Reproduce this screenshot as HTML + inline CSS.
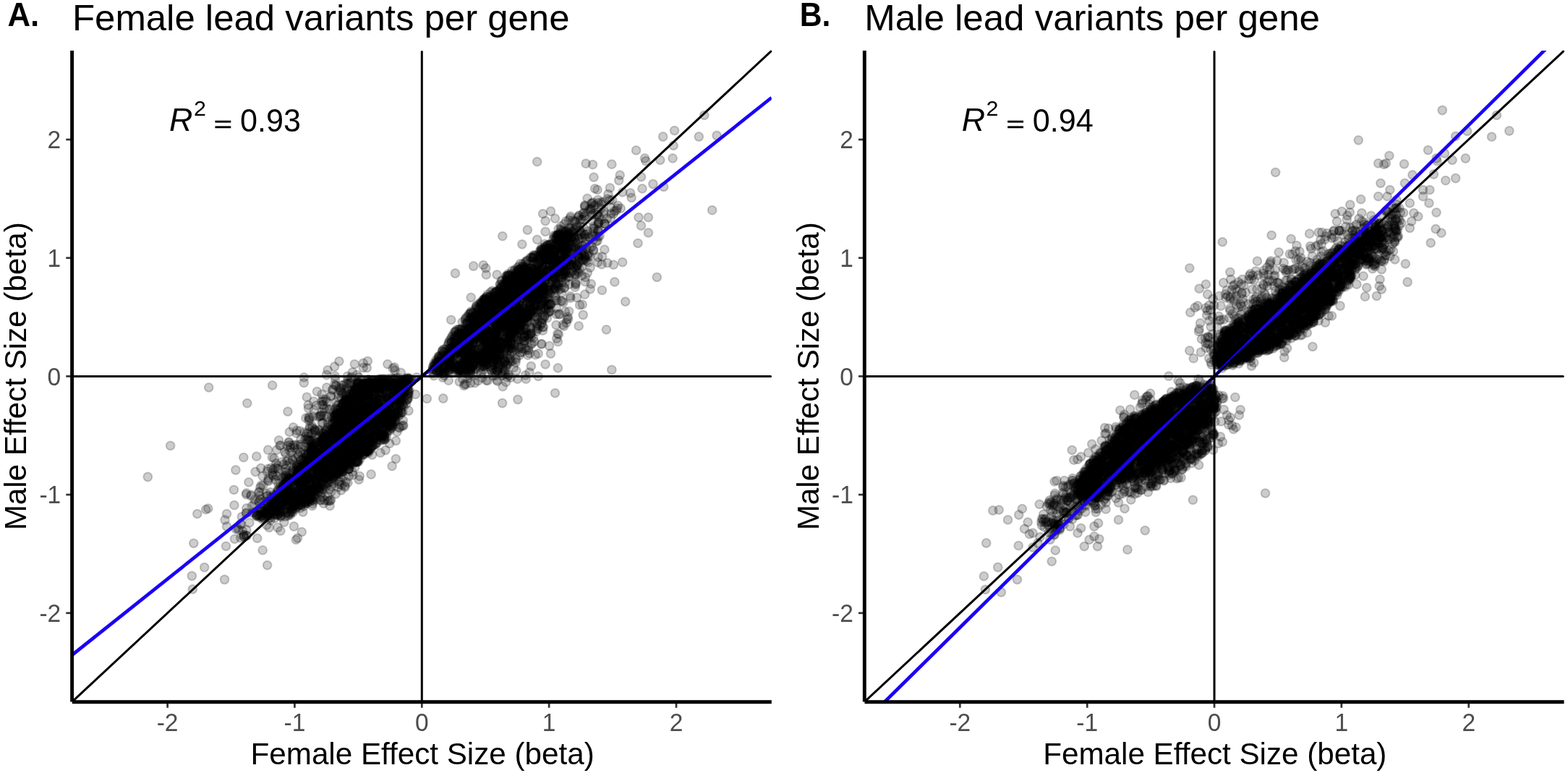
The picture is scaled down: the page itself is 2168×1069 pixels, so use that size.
<!DOCTYPE html>
<html><head><meta charset="utf-8"><title>Female vs male lead variants</title><style>html,body{margin:0;padding:0;background:#fff;}svg{display:block;}</style></head><body>
<svg width="2168" height="1069" viewBox="0 0 2168 1069">
<rect width="2168" height="1069" fill="#fff"/>
<defs><marker id="pt" markerUnits="userSpaceOnUse" markerWidth="16" markerHeight="16" refX="8" refY="8" overflow="visible"><circle cx="8" cy="8" r="5.9" fill="rgba(0,0,0,0.2)" stroke="rgba(0,0,0,0.2)" stroke-width="2.0"/></marker></defs>
<clipPath id="cA"><rect x="99.7" y="70.1" width="967.1" height="900.6"/></clipPath>
<g clip-path="url(#cA)">
<path fill="none" stroke="none" marker-start="url(#pt)" marker-mid="url(#pt)" marker-end="url(#pt)" d="M740.0 422.3 711.0 385.3 654.5 458.7 657.5 443.8 688.4 419.1 725.5 434.1 636.6 457.0 737.5 403.0 724.9 435.7 744.7 376.8 673.2 483.9 624.7 480.5 732.9 422.7 706.1 409.4 674.3 435.2 716.1 446.9 634.5 478.4 762.8 352.4 718.2 399.0 750.3 373.1 606.6 513.4 668.4 501.5 633.9 508.5 692.6 446.8 785.2 323.8 734.8 406.7 702.8 409.2 606.2 500.3 668.2 472.6 727.1 416.1 690.2 471.5 636.2 480.1 672.2 486.8 670.6 415.9 664.2 429.1 690.2 473.1 706.3 453.8 756.7 397.4 645.7 477.9 647.3 458.9 717.3 408.5 682.7 413.1 696.5 431.0 675.3 434.6 726.4 374.7 778.6 333.9 643.8 483.1 624.8 472.5 662.6 426.9 640.1 463.7 701.1 435.9 677.4 488.2 624.2 486.2 701.3 443.4 746.5 359.8 608.6 514.1 677.5 480.3 656.4 455.5 668.9 428.3 746.0 389.7 693.1 464.6 683.0 422.8 706.7 434.4 785.1 345.1 662.7 463.5 706.0 448.6 703.3 428.3 706.2 384.1 727.2 361.5 716.5 386.9 690.1 415.0 701.2 464.7 736.9 356.0 611.2 507.7 765.8 348.4 771.2 335.6 670.9 490.7 725.3 425.9 627.7 482.7 691.5 415.7 725.4 381.4 737.3 416.3 598.4 510.5 681.1 436.9 681.4 442.3 769.8 362.6 637.6 492.1 772.8 328.7 622.4 498.9 718.5 393.2 770.9 337.2 677.3 411.1 661.9 426.4 681.1 482.4 625.1 506.1 713.6 375.4 756.8 375.0 753.2 356.1 774.5 358.5 706.0 393.9 774.1 334.9 726.0 404.5 671.2 422.3 695.9 411.5 758.5 349.4 637.7 455.4 692.6 452.1 748.4 343.0 660.7 482.8 661.3 428.4 683.7 468.0 719.2 415.4 626.1 463.4 674.6 417.1 716.3 430.6 759.8 342.3 677.6 492.2 643.9 502.6 655.6 504.0 646.7 437.6 773.2 324.2 733.4 418.2 653.7 503.2 739.3 404.4 612.6 516.2 610.0 490.9 693.2 395.7 745.0 365.1 784.5 328.9 636.2 511.8 695.2 446.5 758.1 347.5 631.1 467.9 637.7 472.0 781.3 335.9 698.4 416.5 610.7 516.2 712.7 424.3 653.7 458.2 668.7 469.7 674.0 468.5 662.9 488.0 787.0 333.4 692.5 472.4 728.9 390.6 722.4 408.5 749.2 379.2 668.7 444.6 631.6 492.7 678.4 486.3 671.2 462.3 695.3 449.4 673.6 424.8 712.3 396.5 670.4 492.6 753.4 337.3 749.9 349.9 694.3 398.0 711.5 404.9 649.9 454.9 734.4 396.0 664.3 447.5 647.5 494.1 704.4 419.4 733.3 356.4 651.1 484.5 767.6 359.3 668.4 479.2 698.9 439.6 737.1 377.0 727.1 401.1 672.4 422.0 659.7 432.0 642.0 455.2 674.8 472.7 697.4 407.9 624.9 509.9 667.6 443.0 632.1 513.9 621.7 470.8 610.7 516.0 778.0 330.2 722.2 445.1 761.5 357.3 699.8 454.6 721.4 399.1 689.1 481.2 711.0 424.2 695.2 449.7 722.6 429.5 682.1 417.7 722.8 422.2 656.2 436.6 638.5 469.2 616.8 494.0 753.7 351.3 714.5 389.6 688.8 481.6 742.2 382.6 783.8 324.6 735.3 416.8 693.8 437.3 612.9 487.3 677.6 482.9 738.5 353.2 679.8 492.6 635.1 476.1 619.8 512.2 677.6 465.2 757.9 338.7 686.6 404.4 763.0 385.7 627.4 509.2 688.0 441.6 679.9 491.9 693.7 427.5 654.7 473.9 676.4 488.7 712.1 388.7 707.3 384.4 627.5 469.1 730.0 435.1 767.7 337.3 622.6 494.0 669.2 465.0 695.7 458.2 713.1 421.0 659.2 445.6 773.7 325.5 631.7 479.1 776.8 350.3 696.3 438.3 646.0 513.0 695.6 438.3 695.5 441.1 655.8 448.6 785.5 342.7 658.6 440.0 780.4 327.9 689.6 447.0 698.7 440.8 668.5 434.0 714.3 393.0 700.4 389.6 729.4 387.0 714.1 450.2 722.2 377.3 637.5 460.7 722.9 426.3 643.9 461.2 623.6 473.7 649.1 461.1 716.0 392.2 654.0 461.5 648.2 497.8 710.5 454.6 660.0 425.8 741.1 404.8 671.5 427.1 746.4 374.4 672.9 492.4 658.7 491.4 767.8 361.8 656.7 503.6 650.9 433.0 748.6 378.2 719.6 402.6 765.6 376.7 751.8 354.6 768.9 330.8 645.7 508.6 633.4 493.4 718.1 421.0 745.3 354.7 709.2 459.7 723.7 372.1 654.7 490.0 628.8 489.2 670.7 446.5 725.2 404.8 662.9 448.1 759.6 357.5 696.1 392.8 663.8 497.5 689.0 412.9 721.4 382.0 723.7 399.3 603.5 513.5 682.7 412.9 714.3 411.6 702.5 426.1 707.6 402.3 728.6 377.2 600.1 502.4 789.6 337.5 644.4 500.0 678.7 425.2 656.3 456.8 774.1 343.2 646.1 444.7 670.6 469.4 604.4 513.6 762.2 374.1 638.9 505.1 704.6 399.8 676.4 452.7 639.2 487.9 655.0 450.4 686.1 457.3 672.9 421.7 759.4 367.5 768.6 325.6 691.3 399.3 707.1 455.9 684.1 465.1 788.2 323.4 612.7 499.6 714.3 412.9 691.5 416.5 725.2 441.2 715.7 446.8 669.2 503.5 662.2 456.5 644.9 489.9 717.4 445.4 734.8 406.9 743.8 383.8 725.5 393.9 690.2 482.1 784.5 328.7 718.2 405.7 671.8 497.0 724.4 388.9 736.0 429.9 642.0 457.8 700.0 384.9 704.3 400.4 638.6 513.1 662.1 429.3 757.8 351.4 701.9 441.2 740.4 391.7 673.9 494.8 685.8 471.6 673.2 433.4 622.3 496.7 677.1 441.5 760.9 337.9 669.1 470.7 731.8 395.3 643.1 442.7 644.4 439.2 783.5 345.9 780.1 360.5 748.2 399.6 744.6 402.9 658.2 473.8 671.1 497.9 706.4 445.7 644.1 495.0 695.3 419.8 648.9 469.0 717.5 402.3 657.6 462.7 750.8 401.6 700.0 426.5 746.4 397.4 707.7 436.6 711.9 458.0 730.0 435.9 717.7 387.8 683.3 428.7 781.9 320.5 773.3 332.1 666.5 450.3 681.9 433.6 738.1 389.3 779.5 343.7 731.1 413.4 645.1 448.3 669.3 443.6 701.2 388.6 708.9 402.2 705.8 394.7 661.0 455.1 685.6 471.1 782.8 334.3 755.9 399.6 722.0 377.8 749.0 409.0 711.4 382.5 729.9 380.1 680.3 426.4 740.4 386.0 645.5 479.3 666.2 453.9 708.5 436.3 685.2 476.9 656.0 468.7 712.7 403.1 750.7 357.5 638.0 508.7 700.4 416.9 636.8 511.0 766.5 363.9 702.2 415.6 684.6 473.7 634.3 505.1 778.7 319.1 658.5 454.2 747.5 389.3 661.8 459.4 747.5 348.3 691.1 442.7 670.1 460.4 634.3 455.3 775.2 368.1 745.6 368.8 622.0 481.7 722.3 379.1 684.5 436.4 656.1 459.9 769.8 334.9 764.8 330.9 690.6 434.8 755.0 343.0 679.5 483.0 684.6 480.3 729.4 392.1 701.6 410.8 677.5 436.5 654.5 492.6 680.3 413.9 645.1 494.6 737.4 352.9 720.8 412.9 635.1 475.0 716.5 373.2 708.9 442.1 723.1 433.3 709.9 439.4 694.4 428.4 645.6 477.9 719.8 449.0 755.3 366.9 640.3 468.0 727.1 402.0 776.4 342.9 766.7 353.6 742.9 364.3 683.9 438.5 729.5 365.2 651.6 440.4 638.8 513.4 661.4 456.1 760.7 379.5 784.2 325.5 787.1 323.8 777.6 328.6 698.3 393.7 683.2 478.6 692.2 448.5 621.8 489.4 708.7 435.9 680.2 408.5 641.6 470.1 673.3 439.5 784.6 352.9 776.3 345.3 783.0 334.5 714.0 435.3 755.0 357.5 647.9 465.3 675.5 478.9 737.7 356.8 663.6 506.7 654.2 475.0 696.7 435.0 598.6 510.9 685.4 464.4 748.3 374.4 683.7 417.0 621.4 501.7 627.9 490.9 681.1 476.4 728.5 370.3 770.4 364.6 624.7 466.0 745.0 400.4 619.2 503.1 651.3 463.9 644.1 472.5 761.2 360.2 713.2 388.8 662.6 437.5 694.1 449.0 651.2 508.5 684.9 483.5 705.2 414.6 712.7 402.1 663.5 466.8 731.8 386.8 692.5 421.7 689.8 469.4 701.8 387.1 712.2 412.6 743.2 405.1 659.4 460.6 625.2 481.3 618.9 487.4 704.4 446.7 702.3 378.8 745.2 392.0 667.5 419.0 634.7 461.8 646.7 455.1 690.0 463.6 650.1 479.0 755.0 379.8 761.4 379.5 683.9 477.9 650.9 479.6 659.3 461.4 624.0 489.5 692.3 481.1 659.5 505.5 730.5 399.5 701.3 439.0 669.5 415.9 715.5 379.7 636.2 477.0 727.1 394.7 707.8 404.3 652.4 489.2 753.0 398.8 768.3 380.0 685.3 482.5 708.1 381.3 705.2 398.8 669.4 488.2 724.7 438.0 785.8 351.1 761.3 344.3 639.2 502.5 779.7 343.4 766.5 327.8 614.4 515.2 631.5 456.0 662.8 436.5 765.1 369.5 648.1 455.5 665.7 423.0 688.3 421.5 642.4 492.8 656.0 509.3 678.9 465.4 760.5 343.1 639.7 506.1 783.7 343.6 719.3 364.7 732.2 403.4 686.6 448.4 633.1 511.3 649.2 442.8 648.6 501.9 673.9 417.9 733.3 428.5 741.7 361.6 704.8 464.0 746.0 405.2 746.4 390.3 665.4 450.7 708.3 411.1 638.7 456.9 726.4 362.8 638.7 505.6 701.5 389.9 647.5 475.1 742.4 392.7 665.6 466.3 673.3 503.6 707.0 450.1 681.9 481.8 746.5 387.3 717.4 368.4 618.0 497.4 619.2 502.7 670.8 413.3 617.8 497.6 655.1 478.6 719.3 438.7 779.5 320.9 781.0 354.8 642.9 471.5 738.6 398.8 755.6 352.8 627.3 503.7 709.5 446.1 693.8 434.4 644.5 474.4 718.6 379.2 698.4 438.7 674.2 494.3 739.2 391.9 758.9 344.3 725.0 372.7 677.1 462.8 778.1 367.2 739.8 388.6 695.8 411.0 663.6 453.4 733.6 370.8 720.6 377.7 757.5 374.4 772.4 342.0 700.4 387.5 642.4 475.4 768.4 344.1 773.4 360.8 740.6 353.3 721.0 441.9 692.7 481.2 607.6 492.1 697.0 474.6 657.1 455.0 634.3 513.8 728.5 389.5 686.3 420.2 726.4 369.5 619.5 490.8 772.1 361.8 684.2 495.9 750.7 384.6 719.8 431.9 664.7 487.7 658.4 467.0 658.3 424.1 728.2 429.0 620.0 512.8 675.7 476.1 624.3 508.5 703.6 422.3 714.0 409.5 687.5 486.8 647.0 461.7 666.0 420.1 598.6 514.1 652.2 456.8 750.7 395.8 648.5 435.0 653.8 462.9 683.9 439.0 708.3 411.8 671.2 501.9 680.5 457.2 686.8 453.0 643.7 440.9 708.1 432.2 698.1 415.2 781.0 347.7 757.2 356.9 652.8 438.8 668.7 445.2 707.0 403.5 680.3 419.3 743.9 412.2 669.9 454.9 679.2 452.1 607.4 511.5 781.3 340.2 748.3 383.5 787.6 338.3 627.3 505.6 647.9 504.8 610.8 494.1 790.6 327.5 787.7 322.1 694.5 451.8 671.2 464.3 639.2 487.5 653.4 453.4 647.6 457.0 736.2 355.7 644.9 476.3 750.6 344.4 715.4 377.8 674.3 473.8 700.3 472.5 658.9 492.1 670.0 412.5 707.9 425.1 639.9 505.2 660.3 474.0 728.7 405.1 678.5 403.8 673.2 497.8 684.6 454.1 646.4 487.1 738.4 424.8 712.9 409.5 630.0 465.5 757.9 359.7 754.4 382.0 723.5 399.6 684.7 447.9 735.5 371.4 645.9 446.8 748.7 349.0 765.7 325.8 723.4 437.5 768.4 358.4 666.9 498.9 644.2 475.9 653.8 476.3 603.5 512.8 780.8 343.5 724.9 385.3 735.8 373.6 692.7 481.6 745.3 389.1 685.1 404.0 667.9 500.6 678.7 421.0 717.1 399.5 648.5 511.6 702.3 395.3 789.1 328.3 620.5 475.1 654.4 453.3 652.7 456.2 724.7 440.2 650.2 494.1 756.4 347.5 786.0 327.1 661.7 433.4 729.1 398.6 728.4 437.5 735.1 429.7 717.8 430.4 646.6 512.7 745.9 389.7 784.5 320.6 692.7 411.0 725.4 390.6 765.5 356.2 776.2 318.7 660.6 440.9 701.7 403.0 753.6 341.0 765.8 357.8 650.2 511.2 701.3 388.2 704.5 437.9 632.6 483.1 722.1 440.1 731.9 427.1 724.0 372.2 737.8 393.2 654.2 490.7 652.8 458.4 763.9 363.1 682.9 445.5 648.1 491.9 724.7 391.7 676.0 422.5 653.1 455.0 766.4 384.0 701.4 460.0 755.8 339.7 718.7 379.8 655.1 461.6 652.2 505.5 711.2 374.6 701.1 381.8 620.7 487.9 734.4 387.4 628.0 505.6 727.4 395.5 680.9 402.1 621.4 513.3 781.8 336.5 641.1 467.3 670.5 504.9 642.4 499.1 712.2 437.1 739.8 377.9 644.6 484.2 731.9 422.8 629.4 458.5 637.5 488.7 680.5 460.8 690.9 437.2 738.9 354.5 729.4 412.4 689.1 484.0 620.2 473.7 713.6 407.2 682.5 404.9 730.3 407.9 737.6 427.5 733.1 401.2 602.8 498.0 674.0 414.2 637.6 511.1 711.1 392.8 650.1 439.4 717.6 442.0 638.6 461.3 731.8 409.9 729.1 360.0 700.9 406.0 667.9 479.0 725.1 443.3 781.7 324.1 735.7 396.4 686.4 481.0 659.4 488.3 666.7 459.2 704.6 380.1 651.4 430.6 766.0 370.9 679.6 486.8 613.8 514.0 623.4 468.7 714.7 439.5 599.2 506.5 666.3 441.8 704.2 464.7 642.4 500.5 689.3 443.2 661.8 495.4 752.1 351.6 633.8 480.2 671.3 435.5 775.7 352.2 683.8 444.8 637.8 504.8 670.2 419.1 729.1 416.5 624.3 472.8 691.8 414.0 740.4 385.8 707.9 374.4 772.5 333.8 728.6 373.1 739.6 377.9 669.6 454.6 610.9 493.3 768.3 330.7 710.8 402.5 698.7 468.2 731.7 380.8 763.9 344.8 746.4 347.3 693.3 475.1 634.8 506.0 672.6 455.9 723.5 428.5 690.7 489.4 648.7 492.8 711.4 399.7 690.7 421.2 607.0 505.0 682.8 481.3 666.8 448.3 674.2 490.5 647.4 458.7 703.4 380.8 715.8 397.4 658.1 440.7 683.2 494.1 613.8 496.0 703.1 462.5 744.3 352.9 637.0 506.7 685.3 466.0 714.0 390.4 700.1 448.4 623.5 502.4 726.0 396.6 724.8 377.1 734.6 429.1 723.1 370.0 704.5 405.1 679.2 415.3 702.6 423.1 760.6 368.0 743.3 378.2 615.5 498.0 660.3 458.1 698.4 452.5 723.7 445.2 750.5 395.5 658.4 490.2 745.1 404.1 671.9 456.2 687.7 468.2 637.9 508.3 665.4 453.3 677.1 425.5 618.3 491.1 681.9 461.9 654.5 451.3 664.0 474.1 787.0 348.4 679.1 487.7 672.8 473.7 692.2 445.7 641.1 500.0 685.6 433.4 601.0 505.2 613.8 514.4 738.3 397.2 700.2 424.5 701.5 384.7 669.3 490.3 675.1 481.4 740.7 387.1 636.9 486.1 729.6 360.6 683.0 456.1 667.9 442.9 665.1 496.6 655.9 484.9 745.7 376.8 729.3 438.4 748.9 344.8 685.8 462.2 639.0 471.7 698.5 406.1 683.5 467.7 664.5 492.5 647.4 474.9 742.1 374.9 677.9 483.2 713.1 422.9 726.5 403.7 665.8 468.3 706.6 401.6 732.5 371.6 752.1 345.2 768.2 364.6 770.4 325.4 703.1 395.0 660.9 497.3 667.7 414.8 695.9 453.8 771.9 329.8 658.3 469.4 632.9 506.2 671.3 473.7 748.2 356.0 761.6 392.2 736.2 398.9 771.3 325.4 742.8 402.6 620.4 508.0 744.5 414.1 731.3 418.0 754.0 357.4 602.2 506.2 709.8 407.9 715.1 438.5 679.7 411.9 638.7 470.9 684.3 405.4 770.9 324.4 723.0 368.3 765.0 376.7 677.4 410.1 766.5 383.6 703.0 415.0 651.8 453.2 676.8 487.6 634.1 484.1 620.6 496.5 758.3 374.4 614.1 504.3 677.6 473.0 683.0 474.5 742.1 400.1 673.0 486.3 709.3 426.7 701.0 456.1 702.8 380.8 736.6 377.7 653.8 474.0 639.0 485.3 692.8 408.4 653.3 433.4 691.0 421.7 733.4 417.4 683.2 408.5 682.2 438.1 683.1 474.5 658.5 487.2 767.6 347.1 687.9 431.6 762.3 390.1 601.9 503.2 750.5 401.7 780.8 341.3 707.8 448.5 779.1 341.1 607.2 513.3 708.3 416.5 763.4 387.6 784.4 335.9 661.8 455.4 636.6 477.3 713.0 390.7 768.3 371.0 649.3 471.9 611.0 502.4 740.5 388.8 690.9 403.9 644.1 495.5 688.8 416.4 696.1 433.5 759.6 338.3 754.2 348.0 748.6 402.5 753.5 342.4 646.0 484.1 650.4 512.9 604.4 501.5 699.4 381.8 666.0 482.8 699.3 400.9 769.1 328.6 712.8 412.2 714.9 387.1 652.9 507.2 749.2 380.2 710.7 404.3 743.8 406.9 667.7 435.1 654.2 505.0 733.6 399.7 673.7 445.2 757.4 359.4 691.7 392.9 612.4 514.1 654.1 502.2 762.3 359.5 732.5 384.6 750.5 406.6 778.9 366.1 678.1 416.0 740.0 391.6 673.0 497.8 772.1 376.7 644.9 511.8 673.2 446.2 684.4 459.2 641.5 462.8 695.6 430.7 661.5 485.9 721.2 381.8 614.2 486.9 688.3 474.7 698.7 452.6 671.4 457.7 702.9 445.0 670.3 416.2 622.4 480.6 652.3 506.0 604.2 507.3 654.2 438.7 702.4 445.0 665.3 491.0 695.5 439.7 755.9 363.4 632.5 501.5 639.6 490.3 735.3 383.0 685.2 432.8 671.0 469.5 609.4 498.1 719.0 391.9 719.3 385.0 691.8 406.3 761.0 359.8 616.8 483.2 751.4 354.3 648.1 448.1 647.3 492.5 710.9 395.1 719.7 395.6 722.5 445.5 647.2 480.7 669.7 466.1 717.3 373.3 691.8 439.0 634.5 513.2 781.1 344.9 676.6 448.0 741.2 385.8 697.1 446.7 645.2 488.6 722.0 432.0 681.4 435.5 689.6 403.4 683.4 462.7 650.0 493.3 688.2 429.8 758.5 350.0 770.4 351.3 689.5 485.7 655.8 468.4 746.6 357.5 789.2 328.3 711.8 436.5 756.3 352.0 711.5 450.3 675.2 436.1 714.3 448.5 684.0 482.5 665.1 498.7 676.2 489.8 719.4 391.1 656.0 491.7 746.6 362.0 686.3 436.9 680.7 441.4 754.3 368.7 756.9 346.9 697.1 394.1 612.6 483.3 782.0 347.6 615.1 505.1 734.0 375.4 757.0 357.7 698.7 388.7 629.2 470.9 658.2 441.8 741.3 365.7 735.0 375.2 664.6 420.9 670.5 423.8 718.6 425.6 650.4 476.0 640.6 483.4 671.3 479.4 738.5 402.6 772.5 324.0 737.5 407.3 666.5 458.0 691.1 393.6 772.5 349.8 700.6 473.4 701.0 433.0 720.2 378.0 649.6 452.0 715.5 370.2 726.9 390.6 676.6 432.1 765.0 387.6 665.5 504.6 652.8 466.5 709.1 389.4 648.2 486.4 686.9 458.5 717.4 375.6 748.3 392.8 693.1 448.4 607.8 499.7 789.1 333.1 689.3 408.7 774.9 351.4 633.4 484.5 732.3 381.9 630.4 488.2 744.3 366.4 631.0 485.4 760.7 339.3 748.9 345.8 696.3 422.4 674.8 480.4 658.3 476.2 737.6 357.0 653.5 506.9 636.7 469.6 680.1 448.0 666.9 447.6 693.9 407.2 758.1 357.1 670.4 476.7 722.7 365.2 690.0 464.6 614.7 482.6 651.9 466.6 753.1 391.3 763.8 347.4 736.6 408.6 715.6 426.2 628.9 472.7 777.6 345.8 735.1 400.2 755.6 363.4 741.8 409.6 621.5 510.7 699.4 414.8 724.5 378.3 712.6 457.0 644.6 499.4 723.1 387.9 774.3 367.2 681.6 434.8 704.0 450.8 742.6 413.6 694.2 388.5 733.9 433.0 711.8 429.7 687.1 418.9 750.9 371.2 696.1 401.2 759.4 366.0 757.2 338.8 656.9 465.2 718.6 447.9 626.0 515.4 738.8 407.7 669.0 506.5 656.9 460.7 780.3 341.3 738.8 394.5 632.5 486.3 633.9 461.2 775.1 334.4 635.4 511.2 635.7 497.8 701.1 407.1 639.1 505.6 715.6 399.9 606.7 493.4 716.8 442.2 663.6 459.8 707.7 461.0 666.0 492.8 694.4 394.6 733.3 411.6 775.5 360.0 687.4 484.2 766.6 340.5 684.6 433.9 732.5 388.0 643.6 503.5 738.4 373.3 669.0 439.7 738.9 371.5 621.9 506.5 707.5 431.2 715.6 436.9 733.6 391.2 647.3 479.6 723.9 401.2 644.0 506.8 635.9 497.9 703.2 381.9 613.4 506.5 674.2 426.4 734.7 355.9 760.1 365.7 728.8 419.4 765.2 377.0 772.6 325.8 752.5 402.1 709.2 447.9 657.3 427.3 665.8 462.9 703.8 468.1 607.9 495.2 737.9 412.7 694.1 474.4 714.8 449.6 640.6 488.7 701.5 441.3 759.8 358.6 703.2 389.3 651.4 432.3 667.1 492.5 712.6 383.8 607.1 503.0 737.4 386.9 639.2 445.3 726.3 392.8 722.7 412.7 740.5 377.6 747.3 396.9 676.0 420.1 726.1 440.1 713.8 414.6 732.7 393.3 698.1 412.2 781.4 341.2 697.5 400.9 679.7 432.8 615.4 514.3 718.5 404.2 779.9 357.0 639.0 511.0 612.0 491.9 711.7 415.2 750.4 368.1 708.7 450.5 693.1 388.2 717.5 389.1 674.0 484.5 719.5 389.2 686.0 411.7 724.2 400.6 667.5 457.9 649.0 507.1 615.0 500.6 749.2 368.3 764.5 337.0 652.9 483.6 686.2 490.8 700.9 381.5 618.3 504.7 764.7 353.1 676.4 439.5 668.6 423.3 731.5 393.6 643.0 480.3 724.6 404.3 733.0 383.2 665.5 457.7 628.8 467.4 600.9 504.6 750.6 393.8 767.7 349.7 663.4 437.0 688.7 401.9 650.2 511.3 714.2 376.9 701.7 437.4 708.2 378.7 701.4 390.4 671.3 443.7 730.4 380.8 707.3 431.3 657.7 510.3 635.9 505.7 756.8 383.1 779.8 324.1 767.3 357.7 696.3 421.8 672.1 500.1 770.3 377.8 686.1 435.5 656.9 468.5 717.4 426.3 729.0 433.4 646.0 447.6 695.0 457.2 666.7 443.2 658.7 422.5 697.5 417.0 637.8 469.0 721.1 412.7 731.1 429.0 777.0 328.4 649.4 497.2 722.9 368.4 775.5 359.3 744.2 397.8 621.9 504.6 628.0 464.5 627.8 492.8 760.3 348.4 725.5 382.2 697.6 402.2 645.0 490.8 731.7 389.5 701.7 425.2 701.4 423.2 736.6 417.9 781.1 334.0 748.1 396.1 642.4 457.8 657.6 464.9 735.2 387.4 744.2 405.1 765.5 363.7 681.8 427.5 727.8 430.7 696.4 471.0 750.3 376.2 598.4 516.4 650.6 451.4 738.6 420.2 744.5 356.8 657.7 456.4 702.5 444.2 655.6 460.6 681.4 426.5 744.2 413.8 668.5 495.0 646.4 458.5 750.1 349.7 635.2 487.4 684.4 479.1 709.6 413.1 781.6 357.0 735.8 411.9 668.7 506.9 682.8 496.0 732.2 379.6 675.3 498.3 706.0 463.8 770.9 325.9 710.1 454.5 651.0 508.9 651.8 488.2 701.3 467.2 645.8 509.3 665.8 420.1 752.0 351.9 647.6 473.8 728.8 384.6 665.4 418.6 660.9 500.4 683.7 459.7 617.9 486.0 676.3 450.1 672.0 432.9 690.5 416.8 724.8 370.3 671.7 504.6 713.9 399.8 696.0 459.6 673.1 480.5 670.0 427.8 667.2 442.4 696.7 474.2 692.7 475.7 667.2 465.0 703.4 415.3 716.7 374.9 683.2 421.1 677.4 439.6 734.0 406.7 781.3 331.2 622.4 502.1 784.8 342.2 686.1 435.2 705.7 462.8 675.8 410.6 670.0 498.5 715.1 431.5 699.4 401.1 735.4 374.1 606.2 495.6 662.3 452.7 756.8 355.9 706.7 417.0 686.3 403.4 730.1 409.2 652.0 436.9 715.1 417.0 694.8 412.1 661.0 451.8 774.1 322.1 771.5 368.2 630.4 458.5 732.4 432.6 664.5 470.7 697.0 448.0 771.3 367.5 603.9 499.7 764.2 383.2 674.3 493.0 605.2 505.1 658.4 434.9 727.9 377.3 751.3 399.8 670.1 482.7 735.9 408.3 671.3 438.3 718.1 419.5 712.9 408.6 639.8 461.8 679.7 451.6 689.9 415.0 766.1 373.0 761.8 373.7 675.7 462.0 682.8 410.2 707.5 393.7 701.5 433.8 716.0 430.2 653.2 466.2 684.4 459.1 630.0 481.4 666.0 480.1 753.3 355.9 679.6 470.0 688.6 411.0 759.7 376.3 628.3 459.7 756.5 383.7 720.0 439.2 671.6 438.0 693.9 444.6 690.7 419.0 691.2 481.7 647.1 455.1 653.9 443.5 703.6 452.2 760.2 344.2 627.9 503.1 769.5 375.5 666.4 432.0 751.3 395.1 698.7 448.5 641.8 513.2 757.6 386.5 748.9 372.1 726.5 373.6 688.3 448.8 707.5 459.3 681.6 492.2 664.4 458.1 766.8 352.4 635.7 461.5 720.4 402.6 682.1 468.5 789.4 329.4 672.3 410.7 626.6 484.1 646.3 486.3 623.5 482.0 721.4 442.3 716.1 379.5 671.8 458.4 607.4 502.8 685.6 403.1 680.5 493.5 684.1 412.2 658.6 448.1 626.6 479.4 703.8 459.0 685.9 470.5 695.8 430.9 704.9 397.9 738.0 365.2 672.3 477.5 698.0 394.0 770.8 360.0 715.9 426.0 765.7 343.8 634.8 455.7 761.2 375.0 634.3 512.0 742.3 377.2 678.5 477.1 667.0 450.2 703.6 435.6 657.9 450.3 725.7 400.5 675.4 431.3 712.3 380.2 692.4 397.5 717.7 393.5 689.9 463.0 622.6 493.6 677.6 433.2 606.1 500.4 629.9 488.5 648.0 456.3 697.1 441.1 772.7 339.3 772.1 345.2 650.4 462.3 702.5 392.3 737.2 400.1 702.7 426.3 733.8 380.7 621.7 499.9 710.4 388.6 676.6 460.0 700.3 448.4 751.9 383.1 633.8 506.0 754.8 358.6 724.5 383.0 713.5 454.7 666.8 429.6 735.3 401.5 774.2 356.7 703.6 421.2 763.1 358.7 626.4 489.4 619.8 489.3 623.3 492.0 612.6 497.2 652.4 495.5 656.4 444.7 647.3 462.7 764.3 353.3 647.3 493.3 766.2 347.8 656.1 446.3 694.9 443.6 766.5 357.2 737.6 413.3 750.7 400.9 668.8 450.0 743.2 407.6 708.6 421.5 700.7 423.8 752.3 396.9 690.8 400.9 715.7 446.6 693.9 449.6 669.4 505.6 606.2 493.1 667.7 461.3 632.9 470.3 688.3 456.0 639.5 512.0 735.3 401.6 686.9 438.2 625.0 486.4 727.5 410.3 642.8 457.2 729.6 432.2 761.0 337.9 718.5 371.8 625.0 486.7 649.2 433.6 653.0 489.4 710.5 446.5 744.5 410.3 712.0 380.6 765.2 356.8 651.1 487.2 718.9 440.2 717.8 426.1 712.1 451.1 692.2 416.4 719.7 450.0 728.4 373.2 691.1 404.8 760.2 354.4 685.0 423.7 628.9 478.9 671.0 442.5 668.3 465.8 761.0 353.9 765.3 380.5 628.3 474.5 733.1 417.9 649.5 451.7 659.4 424.1 700.8 422.1 649.2 465.8 780.7 349.1 685.6 470.2 621.3 490.3 745.9 385.0 679.2 462.3 736.7 411.7 774.5 366.3 707.6 451.5 783.0 319.7 780.3 348.9 643.6 446.9 668.7 414.5 631.2 481.4 713.8 403.9 735.9 361.4 635.4 503.7 754.6 344.3 641.6 485.8 685.0 424.6 618.5 495.7 665.6 444.5 674.7 494.7 733.4 391.6 661.2 435.3 770.6 332.3 777.6 324.1 683.4 418.9 679.2 424.2 646.9 493.1 735.5 371.1 715.2 430.7 718.0 449.7 669.7 413.6 654.0 496.6 740.0 412.6 747.3 345.8 749.4 365.2 664.4 418.4 710.3 447.6 622.7 482.1 721.7 423.3 700.8 414.3 727.1 407.3 741.0 392.0 755.1 377.0 671.3 413.1 688.2 446.5 675.4 422.6 721.7 436.4 646.9 456.3 727.5 409.9 696.1 397.7 711.8 373.0 610.3 512.4 740.0 379.5 713.8 382.4 692.0 416.6 710.5 459.2 770.0 362.6 654.2 445.4 686.6 460.8 741.6 419.8 746.9 352.4 693.1 474.3 663.4 498.1 717.1 432.9 703.1 425.1 640.3 474.3 703.2 394.0 679.9 482.5 686.3 480.3 737.1 409.2 614.6 509.6 770.8 364.3 680.2 480.7 673.4 410.2 665.5 495.5 666.7 453.4 757.4 396.9 661.9 455.6 635.3 488.4 728.8 385.9 727.1 436.6 673.3 436.9 671.2 415.4 662.4 499.3 637.5 513.5 738.7 362.8 650.6 462.8 740.0 421.4 727.6 435.6 655.3 438.7 619.0 478.0 770.1 365.2 657.1 483.8 668.6 484.9 734.7 404.1 693.1 441.6 696.4 402.4 738.6 378.1 764.0 356.1 685.0 473.5 662.5 419.8 690.9 473.4 682.1 460.5 627.8 508.4 754.6 386.6 671.4 486.6 754.1 391.4 741.0 393.7 710.7 414.4 627.9 479.8 662.2 496.3 672.4 428.6 707.0 436.8 631.3 464.4 604.0 500.3 695.8 451.4 635.2 512.4 673.7 464.6 696.3 477.4 664.4 436.1 702.7 433.7 748.3 391.5 703.8 392.2 732.2 377.5 691.6 458.3 707.9 407.7 611.3 485.8 691.5 449.0 654.3 432.1 776.1 368.6 654.2 495.8 698.1 420.2 680.8 457.9 723.4 425.9 695.7 434.2 732.9 408.7 743.4 363.6 711.6 387.5 623.6 499.0 693.8 429.9 664.8 508.0 632.5 465.3 715.4 437.9 598.3 507.9 718.8 372.0 723.2 378.3 694.4 453.9 723.3 375.2 660.6 441.3 783.9 348.7 707.9 458.5 697.4 445.0 686.4 493.3 786.8 340.5 646.8 459.7 637.6 454.7 774.8 340.8 701.1 426.9 775.3 360.0 765.2 379.5 649.4 507.7 697.9 421.2 731.7 435.6 665.1 496.1 725.3 440.6 677.9 427.0 759.2 347.0 703.9 400.5 472.3 629.5 519.3 565.0 458.8 631.7 444.9 631.6 444.9 619.0 443.4 656.9 467.0 575.2 510.0 525.0 427.1 687.8 515.9 615.4 376.5 709.4 491.7 580.4 464.0 610.1 390.4 690.1 502.8 599.2 478.9 608.1 523.7 576.3 373.2 706.0 515.7 616.8 469.1 595.0 484.6 640.0 425.8 679.0 441.6 675.8 410.2 680.1 476.4 644.9 392.4 692.7 473.9 594.0 541.5 557.7 493.5 560.8 490.8 537.7 505.8 602.3 408.4 699.0 508.7 590.4 425.6 656.9 430.9 619.7 466.0 622.8 499.7 536.9 492.1 625.2 474.8 596.6 480.7 630.2 539.7 528.4 532.9 534.4 450.3 606.7 393.2 678.4 453.2 601.5 496.3 624.6 540.3 523.2 534.8 549.9 368.2 703.6 402.8 698.1 524.7 553.2 524.5 578.2 493.9 574.6 531.0 585.4 512.9 565.8 474.2 641.2 459.4 585.8 546.7 563.3 438.5 668.0 384.3 685.2 519.1 600.0 474.8 570.2 551.6 533.9 563.0 524.6 459.8 624.5 449.8 647.7 466.9 593.1 456.1 630.3 385.4 680.6 407.7 674.4 383.2 707.0 476.1 633.3 410.5 655.9 505.7 606.6 482.3 648.7 522.4 526.7 505.4 547.0 542.5 579.6 412.6 697.3 401.6 661.8 445.1 669.5 521.3 527.1 531.4 571.5 396.4 681.7 528.6 605.0 532.9 566.2 498.5 556.9 486.3 581.1 413.8 653.3 398.2 713.4 433.9 658.5 396.9 672.7 472.0 586.3 398.4 662.0 456.4 624.2 494.4 615.9 523.5 576.0 458.5 612.9 476.8 579.7 546.0 580.8 548.5 535.0 473.3 598.9 473.8 601.4 474.7 570.1 553.2 573.6 440.0 637.0 455.5 626.1 421.1 685.1 451.8 668.5 472.5 592.5 476.7 595.9 494.4 638.3 506.5 607.4 380.9 697.9 496.7 603.3 539.5 577.2 524.8 542.8 510.6 543.2 404.3 700.8 527.7 549.2 486.1 612.1 540.9 579.4 499.1 625.9 421.1 648.2 416.4 696.4 530.0 602.3 453.0 619.1 424.4 692.3 439.1 642.6 483.3 566.0 473.7 558.8 564.1 540.2 447.7 638.5 476.5 575.1 401.2 712.0 498.6 596.3 474.7 583.5 387.4 683.9 501.4 613.0 489.8 585.8 364.2 715.9 468.5 645.1 476.0 575.4 397.8 680.8 452.6 602.0 461.3 634.2 484.5 572.6 491.2 638.7 557.1 548.3 442.2 638.0 509.6 611.8 435.5 624.5 427.2 680.0 536.7 580.5 474.9 557.2 456.2 593.5 472.2 647.2 370.0 714.4 506.1 623.9 501.9 530.9 537.3 532.9 396.4 672.1 556.6 559.9 490.4 567.1 512.7 579.2 477.8 552.6 445.4 603.2 471.6 639.0 453.4 611.9 376.6 705.4 398.3 697.6 385.9 696.6 401.0 689.3 391.4 707.6 496.6 529.2 494.6 617.5 511.9 610.5 507.4 529.2 501.8 578.3 519.1 587.4 469.4 586.1 410.0 646.0 381.9 687.8 365.7 702.8 463.5 590.6 524.9 585.6 548.4 522.7 494.3 565.9 401.2 696.5 507.4 624.7 462.2 584.9 468.3 602.0 449.4 609.9 479.7 620.1 394.1 672.4 423.2 633.5 494.0 606.4 535.3 531.9 475.3 633.7 368.3 704.7 407.3 651.3 523.5 534.8 432.6 621.4 531.6 602.2 483.5 544.2 463.4 636.2 431.8 651.5 505.2 584.1 503.9 609.7 465.7 619.8 450.0 661.9 448.8 652.8 426.2 676.3 518.9 556.5 478.7 596.5 499.1 611.6 429.2 638.0 412.4 665.9 522.0 559.2 431.4 681.5 543.4 589.6 493.3 576.0 473.4 640.7 535.0 533.7 420.9 673.5 521.9 600.9 522.5 578.6 521.5 585.8 456.3 616.9 508.1 552.3 487.3 566.6 450.6 650.4 442.2 626.2 528.5 524.2 515.3 545.9 508.0 534.5 541.9 532.2 500.4 623.0 497.2 551.8 442.5 657.1 424.0 696.3 385.6 699.5 561.8 525.2 478.4 618.5 544.6 547.4 501.9 602.5 507.6 574.5 458.7 654.1 513.5 617.7 450.8 621.1 425.8 660.1 471.9 614.0 503.2 551.1 438.9 642.7 525.8 552.5 498.5 539.8 420.7 662.4 493.4 604.4 416.1 646.1 410.8 651.4 475.9 635.7 506.3 573.2 492.3 639.3 515.9 538.2 411.0 669.8 359.6 711.9 478.9 623.9 376.7 698.2 427.4 655.8 423.6 656.3 392.3 684.7 502.2 540.8 447.1 667.5 407.2 663.7 511.1 607.3 463.1 599.3 536.5 580.8 414.1 687.8 436.9 674.0 478.6 555.1 508.4 543.6 518.3 529.5 526.8 524.8 528.5 574.2 540.1 528.3 457.0 624.6 479.4 575.6 457.5 612.0 468.4 649.4 420.2 700.0 513.0 531.9 515.6 562.7 459.2 633.7 521.9 577.0 414.2 642.6 517.7 565.5 421.9 627.9 416.8 659.4 467.6 650.9 516.1 558.8 396.9 684.7 511.3 619.3 496.7 576.2 423.1 696.5 488.5 564.1 361.5 713.6 434.1 623.0 506.4 567.2 509.9 553.1 464.0 622.7 517.3 605.0 394.9 687.7 468.2 595.2 477.5 602.6 464.9 646.1 405.6 700.1 475.0 633.4 461.3 655.7 408.8 674.1 504.2 628.2 434.4 628.6 488.5 628.9 492.9 571.6 498.6 622.1 478.0 580.7 398.8 673.7 412.7 692.8 549.4 542.9 364.5 713.8 482.8 618.2 431.7 622.7 510.3 561.4 447.2 598.6 494.8 635.8 394.6 714.4 474.0 596.7 392.5 691.2 513.2 587.9 475.7 617.7 478.3 615.1 452.8 644.0 426.1 637.0 495.6 529.4 540.3 572.6 523.0 602.4 536.5 550.5 382.0 684.1 444.3 624.8 538.9 546.2 477.3 641.9 489.1 542.3 505.8 609.7 492.5 639.2 469.0 604.5 400.0 663.2 476.8 605.2 463.4 640.0 497.4 625.7 464.9 600.1 501.1 546.4 445.0 668.2 447.7 671.6 543.9 562.2 516.3 603.3 508.8 552.1 517.8 564.0 388.7 683.1 394.4 668.4 481.5 574.6 513.6 539.7 438.2 648.6 396.9 678.2 569.5 525.7 526.7 565.7 515.2 538.5 526.1 564.8 466.8 631.0 522.5 577.1 508.0 561.6 441.0 675.9 526.9 569.5 411.6 652.6 509.5 556.6 529.8 534.5 462.1 606.2 492.9 552.1 473.2 571.9 424.5 637.3 464.3 620.7 501.5 530.2 445.6 648.0 428.8 688.1 502.0 590.8 466.8 647.4 433.4 626.4 418.0 694.2 388.2 695.5 425.4 644.9 522.0 566.8 499.6 561.3 479.5 553.9 423.3 667.5 522.4 571.8 528.4 590.1 488.3 555.5 417.7 666.8 421.5 637.6 415.9 685.0 510.3 590.9 445.4 621.4 396.4 699.0 456.9 623.0 426.8 667.4 486.5 634.0 492.9 571.5 389.8 679.9 442.3 610.9 558.8 550.5 480.8 580.9 479.1 566.6 501.4 538.1 470.2 609.4 395.4 673.0 471.8 650.5 464.9 582.0 408.5 704.2 562.5 553.6 475.8 568.5 463.4 588.4 480.2 584.2 487.3 601.9 458.8 623.1 398.2 664.0 526.6 579.7 455.5 620.7 524.4 527.1 422.9 633.7 464.7 592.7 496.6 553.0 484.2 629.3 375.6 694.1 422.2 691.7 451.3 596.4 394.5 691.4 469.4 582.8 475.7 618.9 494.3 531.6 446.5 675.5 374.4 703.3 491.9 593.2 472.8 563.2 452.0 613.9 496.8 590.6 484.2 644.0 479.4 587.1 393.3 672.4 530.8 564.0 441.0 629.7 471.1 644.1 466.5 574.0 564.0 544.7 445.2 611.2 513.4 612.7 515.9 592.5 501.1 541.6 534.5 537.3 522.1 564.6 444.7 649.6 495.5 548.9 449.0 655.6 492.1 542.8 400.0 680.1 518.4 537.3 487.9 624.1 388.7 695.2 453.0 591.1 375.4 693.7 496.2 541.5 485.7 595.9 558.8 537.6 366.8 713.8 484.3 637.0 468.5 599.5 461.8 576.8 564.9 547.3 368.8 709.1 513.0 566.9 408.7 666.0 441.7 679.8 502.6 577.7 545.9 577.4 518.3 606.5 512.8 582.9 533.6 534.3 494.0 546.0 430.2 684.1 544.8 540.0 534.2 596.2 497.4 541.3 387.8 713.3 440.9 643.2 549.1 533.4 478.8 572.4 497.2 565.1 520.4 527.2 449.2 596.9 505.6 598.5 528.8 568.6 497.1 602.4 561.9 531.1 496.4 545.9 480.1 622.4 415.8 647.8 529.9 572.6 552.4 556.5 495.2 535.9 561.4 527.5 513.7 565.5 519.2 596.1 491.0 621.2 460.9 630.7 475.4 620.1 480.6 607.1 426.0 662.7 458.8 603.7 379.8 704.2 529.2 566.6 407.5 685.1 388.0 692.0 432.1 691.5 503.7 568.3 517.6 546.1 431.5 619.3 554.2 526.3 509.3 610.5 505.4 545.2 409.4 694.3 422.9 653.5 392.2 676.5 483.9 580.3 538.7 576.4 384.7 693.5 498.3 561.1 488.9 626.5 548.1 548.4 519.4 611.7 378.1 711.3 395.0 684.3 431.5 678.0 516.0 531.0 449.7 660.9 554.4 551.6 431.5 675.9 467.1 597.0 402.4 708.8 540.8 548.8 496.3 604.5 472.7 651.9 543.3 523.5 563.8 552.1 399.7 660.8 432.1 631.9 530.4 569.1 472.9 578.3 516.1 616.2 527.2 526.9 525.9 608.2 497.9 580.9 524.8 537.1 546.9 534.8 479.5 557.7 442.0 638.8 538.6 589.7 411.9 681.5 492.6 537.6 466.5 655.1 526.2 604.5 452.7 668.5 465.7 574.8 466.4 570.9 463.6 574.5 383.0 695.8 411.2 664.4 549.3 526.4 499.9 602.7 505.8 569.5 516.1 581.2 507.8 583.4 494.6 528.6 381.1 695.8 542.5 532.8 470.1 586.2 555.3 570.1 479.2 548.9 505.0 608.3 474.0 585.1 382.1 712.0 473.5 601.3 475.7 556.4 405.3 698.1 447.0 614.4 489.5 544.4 488.1 560.7 474.6 648.2 497.0 537.8 400.2 710.5 460.1 625.2 539.2 575.5 485.0 641.4 457.7 598.0 455.2 652.5 444.1 629.8 524.6 598.1 536.6 584.1 460.3 643.9 414.4 695.5 421.3 695.1 488.2 583.7 514.9 533.6 477.7 588.4 494.8 572.9 545.1 584.8 371.7 701.6 374.2 712.5 497.5 627.0 406.6 695.5 486.4 636.6 389.2 690.3 539.4 595.2 576.2 522.0 541.1 554.9 370.4 710.7 444.3 613.2 516.4 567.8 434.7 679.2 454.3 615.2 548.6 559.7 494.9 597.7 443.3 626.1 520.0 538.5 509.0 529.1 460.9 636.1 507.8 624.2 559.0 556.4 426.5 690.1 506.5 606.0 479.9 620.6 510.4 555.8 448.4 640.5 464.7 655.3 468.0 645.7 459.5 644.5 476.0 615.5 523.8 595.9 509.3 584.6 447.6 609.2 543.1 573.0 421.7 695.5 563.0 545.8 520.8 608.3 430.2 622.3 409.8 685.5 477.5 639.3 434.2 638.8 419.4 640.0 530.5 578.9 545.2 524.2 491.3 587.3 420.6 636.7 495.7 540.3 478.4 637.1 387.6 692.8 434.1 675.6 396.4 686.3 485.9 578.8 476.6 638.3 424.5 640.0 502.7 545.2 413.3 652.9 471.8 577.3 418.6 633.8 512.3 603.6 410.2 658.9 526.6 556.8 565.2 541.5 500.6 545.5 538.6 580.5 508.9 524.9 427.0 673.7 393.3 670.2 534.9 585.0 507.6 525.7 510.9 529.0 539.9 569.0 478.1 593.9 508.8 613.6 407.0 685.3 486.6 604.9 443.4 641.2 492.0 631.0 370.2 712.5 464.8 571.8 554.1 549.8 525.2 536.4 536.6 595.4 506.0 622.3 413.7 657.9 500.6 572.2 479.9 607.4 510.8 608.0 438.3 656.7 498.0 611.8 521.9 537.2 493.0 551.6 467.9 597.7 461.4 633.1 544.3 532.2 549.1 551.9 508.4 624.4 432.7 645.2 429.4 642.0 388.6 712.8 530.1 537.8 438.8 672.9 415.8 651.1 461.5 604.6 437.9 629.4 465.5 646.7 538.0 570.1 534.7 585.5 533.4 582.6 485.6 560.8 424.3 663.3 482.5 580.3 395.3 691.5 464.8 577.3 498.5 603.8 380.3 688.8 463.6 590.1 466.8 653.4 415.9 689.2 428.7 681.0 423.5 639.7 417.0 644.6 426.1 627.8 490.5 587.8 391.6 677.9 464.7 645.2 528.8 556.1 403.8 707.1 379.5 695.6 479.7 637.0 437.9 678.2 485.6 549.2 466.7 594.8 437.7 633.0 490.5 557.0 533.4 569.2 519.0 584.3 547.8 573.7 453.7 605.2 438.1 660.0 535.9 567.0 397.2 665.6 418.7 688.4 414.0 664.8 497.0 589.6 504.8 583.2 500.9 585.3 466.6 626.6 517.6 569.2 475.2 574.9 419.2 684.6 478.2 636.4 530.3 539.3 379.8 716.5 498.3 590.3 531.9 528.3 506.1 596.5 385.9 708.2 497.0 528.1 413.5 687.6 403.9 688.6 507.2 596.5 514.8 551.0 477.5 561.1 423.8 647.7 478.2 557.9 538.1 579.7 442.4 639.3 459.4 655.6 465.3 592.6 492.2 537.1 520.3 570.5 402.6 679.4 494.2 601.8 481.3 563.0 432.2 648.1 541.5 570.4 438.1 666.3 418.6 670.5 473.7 621.8 563.8 525.1 487.5 605.5 565.2 544.1 421.0 671.7 507.3 623.5 451.8 644.1 381.0 708.6 397.4 676.2 472.1 603.9 529.6 531.0 440.6 664.7 479.7 555.4 485.0 571.5 501.9 532.0 442.9 642.4 542.2 584.3 530.6 525.5 390.8 691.4 501.3 531.3 365.9 709.5 474.5 627.1 432.9 614.4 446.1 609.3 489.6 600.7 472.7 647.0 546.4 583.6 433.8 646.5 442.8 635.6 484.6 572.7 412.9 646.9 508.5 600.6 455.4 608.8 493.1 604.8 548.8 559.8 523.3 535.2 427.9 674.1 460.1 642.4 425.2 648.0 521.9 526.2 471.8 594.0 477.7 642.2 496.5 596.2 456.7 628.8 444.3 667.7 496.9 553.9 444.6 650.5 489.1 619.4 429.8 642.0 509.6 608.0 494.8 639.0 474.5 582.2 453.9 586.8 419.6 647.8 419.5 667.0 432.1 620.1 512.0 571.2 441.5 675.8 486.8 546.7 489.8 592.3 503.2 531.1 392.4 670.6 480.9 565.3 559.2 528.4 410.0 649.8 469.0 575.8 547.2 572.3 486.0 608.6 457.5 662.9 512.8 621.2 523.6 590.9 473.4 652.3 422.9 627.6 414.1 690.4 513.9 551.3 473.7 609.2 404.8 704.4 546.8 552.0 560.9 523.6 447.1 637.8 421.6 656.9 484.7 630.8 489.1 617.2 476.2 598.0 486.4 595.9 489.4 540.3 457.5 658.4 417.0 685.1 486.9 559.7 441.8 633.0 468.9 632.5 515.9 568.6 473.8 590.2 473.1 590.7 460.1 622.7 544.6 547.9 424.2 661.1 513.2 558.0 508.5 569.7 464.9 579.9 522.2 588.6 510.4 529.3 449.3 603.4 477.4 599.5 429.3 656.2 475.7 569.8 463.2 576.0 370.9 700.4 560.6 526.0 516.2 569.4 491.3 591.0 559.3 531.4 488.0 572.9 496.2 588.6 449.2 660.7 442.1 654.0 485.1 602.3 404.0 703.0 534.9 565.5 420.5 633.4 404.9 662.6 494.8 582.8 540.5 592.1 465.5 590.9 455.6 666.5 503.8 532.5 491.6 537.5 445.9 647.2 555.3 541.1 563.5 532.5 480.4 622.6 470.7 646.1 554.7 544.4 481.8 633.2 542.9 574.7 493.4 600.9 432.6 685.6 495.6 574.9 458.5 652.3 550.2 525.8 478.2 551.2 475.0 585.1 387.1 704.0 418.9 669.8 503.7 564.8 476.8 636.4 425.7 650.0 484.4 640.0 496.4 589.4 486.7 569.8 515.0 542.4 505.0 581.0 553.6 553.0 488.1 566.4 476.4 567.6 395.9 709.1 410.0 662.2 448.4 616.7 474.4 619.7 560.0 540.9 401.9 703.7 494.0 547.7 528.3 544.0 382.3 689.5 529.3 543.8 494.9 612.4 531.2 592.7 417.6 682.0 428.8 680.6 493.9 594.1 383.0 684.8 535.4 532.2 459.3 635.0 487.3 592.6 530.9 601.6 541.7 563.9 455.2 617.8 533.6 527.4 410.6 684.9 495.9 557.1 567.3 528.3 430.6 663.1 443.3 635.2 439.3 659.8 493.6 610.9 469.8 577.4 530.8 597.6 500.0 554.6 439.7 611.8 378.6 705.5 407.0 676.2 415.8 648.3 440.9 627.8 539.0 572.9 437.5 650.8 549.8 538.9 506.3 563.1 422.4 659.6 540.2 588.7 523.8 599.5 449.6 612.7 554.6 562.9 399.1 672.8 505.7 615.7 502.5 622.2 471.5 624.6 486.6 604.1 487.5 608.8 393.1 698.4 487.4 604.3 414.5 666.5 444.8 646.8 487.7 607.0 382.5 698.6 478.1 553.2 476.0 571.0 523.8 539.9 461.6 635.9 556.9 559.3 393.3 702.9 501.4 566.9 431.4 691.0 550.8 564.8 429.3 617.6 537.9 548.6 500.4 614.1 378.2 700.1 412.9 693.1 482.4 606.4 498.6 543.1 460.4 660.4 522.4 571.0 520.8 531.7 481.5 636.9 553.7 568.3 470.1 571.9 448.0 611.6 414.8 681.8 412.6 660.4 483.7 573.8 455.9 633.5 433.9 674.1 376.1 693.0 379.7 702.1 449.2 670.6 501.1 590.7 363.7 706.1 531.6 530.7 462.0 646.0 497.4 603.3 380.6 692.4 466.8 655.2 416.9 674.8 477.7 597.7 525.2 564.0 411.7 673.6 549.9 545.4 470.9 588.5 551.8 529.6 496.9 611.1 509.4 594.4 492.8 576.9 499.2 599.5 386.7 710.0 427.3 637.3 478.6 570.3 380.7 688.9 536.7 578.6 395.8 684.1 515.6 561.7 497.8 634.7 518.3 596.4 399.1 692.1 470.2 570.6 494.1 529.0 538.7 549.0 470.0 589.3 453.4 641.6 420.8 695.0 551.9 551.0 424.9 682.5 492.6 638.0 493.4 536.2 483.2 639.0 528.1 602.2 413.7 693.0 490.0 595.5 548.4 532.1 522.3 554.1 452.4 630.2 556.4 530.8 531.9 603.9 538.4 587.5 458.5 593.9 459.9 585.4 494.4 552.0 475.8 583.5 503.6 584.2 550.4 528.0 501.6 608.6 489.9 587.4 497.0 618.9 489.2 625.8 433.7 631.6 390.0 695.4 379.8 699.2 423.2 681.4 493.0 607.4 430.4 619.2 399.4 680.0 405.5 685.9 526.1 533.6 390.3 676.8 430.3 681.9 388.1 685.5 429.7 631.1 362.2 706.8 465.0 657.3 499.3 545.6 469.8 647.3 402.6 682.7 553.3 527.5 511.0 605.4 419.7 667.0 534.5 579.5 517.8 602.0 449.6 617.1 428.2 691.1 422.8 682.5 501.9 629.4 399.1 687.4 412.9 646.0 512.4 569.4 508.3 552.9 432.5 679.0 550.8 575.6 558.3 542.7 469.7 616.0 507.4 546.4 490.9 610.0 537.3 556.5 378.8 687.7 465.7 573.1 412.2 690.2 400.4 681.8 512.2 559.7 390.3 674.1 490.6 550.8 444.2 666.0 520.9 612.5 460.8 592.2 472.8 642.2 457.9 604.3 477.1 618.3 440.0 613.5 517.3 589.1 519.3 546.6 519.5 552.3 509.8 530.5 508.9 546.3 493.6 637.4 542.8 580.5 507.5 562.4 540.4 579.4 452.5 642.6 419.5 688.7 515.3 611.6 483.2 550.4 436.2 662.9 545.1 576.9 497.7 593.8 537.9 527.7 473.4 590.0 405.5 676.0 551.3 539.3 556.0 547.3 497.0 618.9 473.6 558.8 546.9 533.2 474.5 604.7 552.8 533.1 527.6 527.6 471.9 616.2 476.2 643.8 498.2 606.5 435.0 652.8 509.8 598.8 477.8 572.1 433.1 616.6 444.6 608.4 442.2 659.2 496.1 536.9 493.6 597.8 467.9 633.2 510.2 565.0 552.0 523.0 523.9 563.9 415.3 702.5 500.9 549.7 391.6 670.1 512.2 550.7 510.6 546.7 437.1 641.2 459.8 595.7 473.0 643.1 524.0 599.9 469.6 639.2 558.3 562.1 532.4 595.1 389.3 699.5 511.5 528.1 462.3 599.5 515.6 577.8 475.6 651.8 483.2 551.0 528.0 531.6 461.3 662.4 430.6 678.3 453.0 629.8 450.0 605.0 446.6 653.0 434.1 640.5 421.2 677.9 463.0 598.1 502.3 542.2 420.9 675.6 524.1 524.2 415.4 684.9 570.0 526.5 431.8 633.0 551.0 571.6 462.1 647.3 523.8 558.6 445.1 670.5 469.2 597.2 462.9 591.1 478.0 596.6 410.5 701.2 542.8 555.6 464.6 615.0 476.5 555.6 502.3 563.3 480.3 553.2 491.9 540.7 482.4 648.6 482.5 580.1 451.4 659.9 489.0 561.9 479.7 609.2 506.1 535.9 551.1 537.5 553.8 544.6 561.6 558.6 456.1 639.7 461.4 606.7 485.8 567.1 412.0 652.1 382.0 699.4 459.2 597.5 505.4 624.4 461.6 658.0 425.4 628.9 462.9 607.3 514.2 562.1 540.2 583.2 518.2 594.6 479.1 630.5 469.5 579.6 493.6 613.1 470.8 581.7 487.8 641.6 489.8 581.7 459.1 615.8 498.2 623.9 534.9 581.5 477.7 597.8 488.0 543.2 509.5 549.8 416.4 670.7 404.6 662.5 510.1 623.7 549.6 572.5 534.2 528.3 434.2 675.0 456.1 617.5 440.3 658.2 388.8 708.5 377.5 691.9 487.5 576.0 398.3 697.1 500.1 614.2 443.4 625.4 462.2 655.1 466.7 635.8 491.1 563.5 538.9 535.0 518.8 595.9 517.8 534.2 488.4 558.3 506.6 576.8 478.2 577.7 433.1 645.0 361.7 706.3 540.6 586.0 509.6 531.0 484.2 580.1 515.1 557.6 436.9 668.7 469.4 615.7 528.5 564.6 359.9 707.6 395.6 672.0 527.7 596.1 369.6 701.4 473.0 573.9 513.7 526.4 556.2 528.5 467.1 611.0 408.7 684.4 431.3 626.6 540.8 541.1 545.3 539.4 435.6 635.9 474.1 649.6 479.2 603.7 473.1 648.6 448.1 614.4 457.4 632.2 516.1 545.9 405.9 654.9 400.9 691.6 485.8 584.6 463.4 578.6 476.6 628.5 467.0 653.9 474.2 643.8 440.7 679.6 406.0 658.9 441.8 632.5 387.7 690.8 407.6 698.5 478.9 588.9 564.2 527.1 473.3 601.6 450.8 639.3 451.6 641.1 482.6 595.0 462.8 580.8 455.9 628.6 495.1 625.8 443.5 666.1 497.4 605.6 497.9 578.8 468.7 638.2 443.9 624.5 461.8 575.3 401.8 676.9 521.2 534.6 550.2 568.0 488.2 599.1 529.4 558.3 529.2 583.8 420.9 658.9 529.1 536.8 438.8 640.7 429.8 625.8 371.5 704.5 536.0 567.1 527.6 547.4 512.7 573.8 411.8 643.8 501.3 549.6 426.8 688.7 501.0 542.1 499.1 564.3 524.3 565.6 431.7 627.2 409.3 673.3 499.6 615.9 406.9 699.7 474.1 561.5 551.9 550.6 521.5 580.8 514.6 596.1 547.4 581.1 536.4 525.5 482.9 563.8 474.2 569.7 501.8 575.5 454.9 662.7 521.5 572.1 459.5 578.3 517.6 559.6 564.2 551.2 494.1 626.3 433.3 655.7 478.5 592.6 503.5 593.5 508.8 569.5 513.4 570.9 507.8 538.1 476.0 633.0 410.7 656.7 422.7 687.5 398.4 688.2 464.7 638.3 424.5 688.6 506.9 538.8 479.5 620.8 488.2 553.3 508.4 572.5 414.7 654.4 544.4 534.2 444.8 610.3 563.9 539.0 480.0 606.9 433.5 658.9 527.1 575.0 499.1 552.8 514.0 563.8 495.1 530.3 478.0 642.4 524.6 524.8 496.2 552.2 478.8 606.5 520.1 578.9 566.3 523.2 495.0 633.0 449.1 653.0 542.5 548.0 463.2 653.0 439.0 668.4 400.9 685.1 531.2 603.0 452.7 633.8 553.2 555.1 418.5 643.5 437.0 660.5 493.6 626.0 383.5 712.6 489.9 584.8 494.8 551.5 420.5 666.7 545.8 568.7 460.9 593.9 565.1 523.6 438.7 664.1 437.7 676.0 470.9 648.0 505.3 568.0 407.0 662.8 546.1 572.3 514.2 529.1 464.6 603.1 517.2 563.9 511.9 588.5 372.5 704.1 433.2 652.4 437.9 626.5 387.8 700.7 408.1 702.0 504.5 608.7 545.0 583.4 523.7 546.6 446.2 645.6 437.3 646.8 435.8 630.6 521.5 597.0 469.0 581.2 420.3 672.3 514.4 609.9 491.0 621.5 487.9 577.2 405.1 652.6 469.8 616.4 472.7 603.8 428.4 618.1 468.4 605.2 491.4 540.1 450.7 594.6 486.7 573.0 483.3 593.1 499.4 549.5 470.6 565.7 517.5 585.6 449.1 650.9 405.3 684.4 449.9 608.5 431.4 671.7 498.2 611.1 496.9 538.6 476.7 566.7 509.9 592.8 487.3 614.1 456.0 652.2 538.7 575.0 494.7 620.4 530.6 524.0 427.7 662.0 500.6 563.0 492.9 638.9 412.3 661.3 413.0 658.9 524.4 593.8 547.3 533.4 451.5 640.2 429.4 636.3 525.3 529.7 494.0 563.4 415.9 698.4 466.1 639.1 498.3 544.6 534.4 542.8 429.6 689.2 413.4 686.9 460.6 596.9 504.6 582.4 494.9 543.4 439.8 653.0 384.8 709.9 460.9 627.4 488.4 623.7 447.8 599.7 523.9 569.7 413.4 661.6 469.5 624.8 445.5 634.7 416.1 636.8 472.9 629.5 450.9 655.3 528.2 595.6 399.8 665.8 429.9 661.7 568.5 527.8 536.4 587.7 479.5 640.7 553.2 537.0 532.8 570.7 518.0 603.0 447.4 606.0 495.2 614.4 528.7 531.1 489.5 552.9 497.3 610.7 496.0 590.8 548.4 559.7 459.8 651.9 403.9 670.4 486.2 632.7 423.4 675.6 472.2 633.2 439.7 647.0 560.8 531.5 450.8 611.0 494.5 580.6 546.2 529.4 454.2 653.0 450.2 608.0 509.3 569.3 494.8 531.8 454.3 657.4 397.9 700.0 440.0 673.8 455.0 614.8 551.8 559.2 548.3 559.8 426.3 694.0 504.3 546.6 469.6 598.2 552.9 532.2 468.7 612.5 496.0 605.0 526.7 600.8 509.3 620.8 491.8 570.1 527.1 577.1 425.8 635.8 443.1 657.4 434.7 667.8 538.7 532.6 550.6 570.5 477.1 641.2 520.2 613.9 445.5 610.6 563.0 538.8 432.2 685.3 397.7 689.7 444.7 651.4 444.7 642.5 563.9 534.5 504.7 625.2 556.9 528.8 542.5 529.2 392.1 679.5 446.8 606.3 374.0 716.2 486.7 560.1 507.4 565.5 472.8 653.3 517.6 552.3 513.4 594.1 415.1 670.6 445.3 677.1 384.8 696.6 360.6 707.5 500.0 603.2 481.5 627.1 414.7 664.2 401.1 707.3 529.9 579.9 411.2 679.0 505.3 602.2 511.2 570.4 503.7 558.3 484.7 635.1 515.3 584.8 496.6 629.9 565.1 523.5 481.9 649.0 470.5 570.6 511.8 620.5 451.7 611.8 393.5 693.6 434.3 622.9 398.5 688.0 539.3 567.7 517.5 556.7 467.7 566.9 479.2 598.1 494.9 629.4 470.3 652.1 383.7 699.6 526.7 572.9 528.8 564.1 451.3 644.3 365.3 707.8 527.5 584.0 514.1 535.7 496.0 584.4 498.2 556.6 427.4 670.4 518.6 528.7 563.2 550.8 527.4 603.6 433.6 617.2 539.3 567.0 408.3 682.1 425.6 674.7 450.7 621.8 487.9 547.9 456.2 657.2 411.0 679.9 371.8 716.8 428.3 693.7 536.5 562.3 487.5 586.6 471.7 591.2 494.0 541.8 556.2 554.6 493.2 537.5 502.0 535.4 516.4 534.5 532.6 583.8 426.8 682.0 521.8 597.6 420.6 653.7 541.1 592.2 538.2 572.9 435.0 662.1 495.6 638.2 388.2 677.5 479.6 604.3 475.2 642.1 461.8 607.0 489.8 605.9 455.1 630.6 424.2 686.4 463.1 650.7 527.2 578.2 447.8 620.5 414.0 698.1 475.0 639.7 395.1 665.4 438.9 657.6 484.1 582.0 426.8 665.8 453.6 627.8 532.2 565.7 517.0 582.7 500.1 550.4 430.1 689.3 454.5 645.0 515.4 603.1 519.1 614.7 470.8 640.0 506.7 594.8 493.7 608.6 527.0 543.8 553.7 561.0 368.1 709.8 471.2 596.4 379.1 697.0 364.2 710.1 430.3 625.7 456.5 637.5 481.0 628.0 460.0 651.6 412.1 687.5 497.8 587.3 546.7 572.5 427.2 679.2 538.8 526.0 422.2 665.1 509.1 586.4 530.8 567.4 475.7 614.0 478.1 582.2 468.2 627.3 445.5 625.8 399.6 664.9 467.5 572.2 541.9 580.9 425.7 650.1 441.1 628.6 498.5 596.3 504.4 563.2 437.7 657.5 431.1 622.5 452.7 659.9 438.0 633.9 497.4 601.7 430.2 637.7 384.5 711.8 538.6 564.7 537.6 535.7 549.0 532.8 454.5 643.3 457.9 666.0 534.3 534.7 534.0 539.9 464.5 572.9 386.8 705.1 499.9 578.1 489.4 624.2 535.0 524.0 482.0 615.3 391.3 670.9 516.7 607.4 475.5 566.3 515.1 533.4 519.8 604.3 409.4 684.2 492.7 548.0 478.5 578.8 439.4 645.2 535.2 598.5 379.2 711.4 510.0 559.2 499.8 626.3 550.2 533.0 486.3 585.5 431.9 625.3 416.5 659.3 429.9 679.5 526.9 609.0 547.5 543.0 495.3 564.1 517.7 551.2 358.9 715.4 399.1 665.9 499.7 560.0 434.6 621.4 547.3 535.0 551.3 552.9 441.0 651.6 530.3 532.4 453.2 607.2 424.8 629.7 448.8 661.6 515.6 529.1 461.7 635.6 507.7 606.9 398.3 710.4 504.9 583.0 509.7 622.7 557.1 531.6 471.5 638.7 397.0 684.6 536.8 526.7 484.6 614.9 497.8 581.8 406.7 660.4 517.6 585.0 495.4 603.5 411.7 661.2 399.0 697.0 466.1 587.4 487.9 630.5 514.5 545.1 482.1 613.4 480.2 612.0 472.6 594.6 509.4 567.5 412.5 699.2 513.6 616.8 473.7 588.0 488.0 611.5 531.2 574.0 387.3 706.4 373.3 709.7 558.6 542.2 499.2 571.2 558.3 533.0 522.1 582.9 493.7 572.4 448.7 658.6 457.4 588.6 438.3 649.9 487.9 540.3 416.3 671.7 468.9 632.0 504.0 542.4 428.5 635.3 490.9 575.8 533.1 589.5 460.1 659.0 495.8 608.2 433.2 628.5 515.1 525.4 500.8 597.3 483.8 554.2 541.3 529.9 465.1 624.3 482.1 588.6 519.8 594.9 534.4 571.7 429.6 639.7 422.1 690.0 501.6 534.6 523.5 583.6 373.7 700.6 394.4 689.5 451.5 635.2 476.6 553.3 545.1 539.9 417.3 650.8 460.1 660.3 434.2 631.9 453.2 660.7 483.0 634.5 416.3 688.4 450.8 673.0 534.5 573.6 446.3 607.0 464.8 641.5 508.2 534.5 434.0 676.8 547.2 560.1 526.3 551.9 475.9 575.9 404.8 687.5 527.1 576.3 501.3 620.5 501.2 569.1 447.0 619.8 539.7 534.5 433.4 686.3 380.8 705.9 467.0 609.6 456.3 595.5 434.9 681.3 510.4 567.7 539.7 555.4 437.3 664.7 560.1 524.1 473.1 558.2 481.6 636.2 479.3 627.5 474.9 600.2 434.5 642.1 501.6 608.4 396.0 708.8 531.6 526.0 422.2 694.1 469.1 605.1 502.2 536.1 476.1 627.0 484.2 612.7 469.0 655.8 534.7 553.9 459.9 624.2 482.0 624.3 381.1 696.1 525.2 545.4 530.2 599.2 493.2 620.0 509.2 611.1 451.8 612.4 469.1 576.6 516.9 596.8 522.9 572.9 439.5 621.5 489.5 629.3 466.8 574.8 464.3 596.0 532.9 543.7 498.6 616.4 448.8 603.7 429.6 682.4 519.6 597.0 510.0 544.8 486.7 568.1 427.4 690.3 537.5 552.1 481.8 649.0 474.7 567.5 475.8 583.7 466.5 612.7 459.5 604.0 448.7 645.1 426.1 639.8 492.6 550.8 370.2 706.9 539.9 552.9 441.0 653.4 436.8 611.6 540.7 544.7 543.3 587.0 414.9 655.3 513.9 578.7 443.0 631.1 397.7 679.7 449.6 633.0 412.0 646.2 485.1 583.1 435.7 613.4 480.4 556.4 403.4 686.6 483.8 642.1 522.9 567.5 470.4 642.7 440.7 650.5 467.1 585.2 538.4 582.8 500.8 546.4 539.0 589.5 470.6 580.6 475.5 627.4 495.1 531.2 434.5 687.4 493.6 566.7 463.4 623.2 526.3 580.5 552.2 535.1 548.7 532.8 522.2 535.6 483.5 552.6 463.3 646.6 468.0 584.9 507.7 618.4 420.2 644.9 412.2 679.6 435.8 675.6 461.3 621.2 504.3 535.4 555.1 532.5 509.9 525.6 507.5 624.5 522.6 528.5 416.1 699.1 542.7 546.6 527.3 541.8 552.8 559.5 400.2 676.6 447.3 611.0 552.1 543.8 457.4 604.4 553.0 538.1 534.7 584.7 503.0 593.8 554.4 571.2 528.1 553.3 469.7 624.3 394.7 678.7 535.6 590.7 511.6 533.4 488.3 602.3 432.9 671.3 540.7 585.8 505.2 620.9 542.0 588.9 516.1 571.8 497.8 542.4 485.8 619.8 439.0 615.8 360.8 713.6 498.9 599.1 440.2 620.8 489.8 556.6 481.7 644.5 379.3 687.6 500.6 579.1 534.2 571.4 491.0 604.6 480.5 614.0 523.3 589.1 441.6 634.1 472.5 614.0 484.4 605.2 465.7 652.8 411.6 666.1 542.1 537.7 526.7 586.0 550.0 527.9 485.9 576.5 471.5 635.4 552.3 539.0 451.1 601.8 504.3 530.7 473.2 643.6 537.3 552.7 445.0 629.8 480.9 571.8 423.9 692.7 515.8 563.3 357.4 712.7 390.5 699.3 424.7 640.1 450.4 659.7 471.2 615.2 530.8 555.1 483.7 587.5 431.4 621.1 405.1 708.7 421.5 666.9 463.9 595.9 562.7 525.6 562.8 522.3 528.4 585.1 453.6 621.1 467.3 619.5 488.0 606.4 501.7 627.7 399.2 696.9 453.6 655.1 482.3 587.2 492.5 574.2 544.9 534.5 428.6 687.6 556.1 527.4 484.8 577.9 536.9 558.0 357.0 711.3 426.5 625.2 463.0 594.0 524.3 566.2 446.3 612.8 489.3 592.4 508.8 530.1 533.8 532.4 474.9 633.1 466.2 621.2 555.9 527.4 447.5 625.2 541.3 536.7 529.6 576.2 491.2 552.8 478.7 642.3 446.9 599.9 485.4 546.2 388.6 714.8 541.5 578.0 397.4 703.1 523.0 558.3 435.7 622.2 516.8 547.2 730.3 481.2 742.9 450.7 701.7 485.3 796.8 373.5 713.5 467.4 783.7 367.2 808.3 352.0 688.9 507.7 654.2 515.3 797.1 347.1 804.5 346.8 805.1 359.2 748.2 427.9 686.0 498.1 720.7 450.0 790.8 375.4 720.3 456.2 680.6 499.9 684.4 514.3 786.9 382.1 756.5 439.9 802.6 345.5 742.1 458.0 746.8 450.4 698.2 499.0 759.3 400.9 794.1 368.9 790.2 359.0 688.4 500.8 668.4 510.7 820.7 345.3 795.8 360.6 797.7 353.7 730.8 468.6 681.9 510.7 807.7 354.1 720.4 479.7 797.7 350.0 796.1 341.8 740.9 431.9 728.2 457.0 805.1 339.9 718.8 458.0 780.1 367.0 749.2 447.2 705.1 490.8 794.0 378.8 742.8 447.8 783.9 371.7 725.2 471.7 812.0 352.2 777.6 383.8 706.3 476.5 714.0 483.8 731.2 463.3 784.0 362.0 775.7 399.1 790.2 360.6 721.7 482.3 717.5 454.1 735.7 475.1 677.1 507.9 681.3 508.4 738.9 443.8 778.9 376.2 807.9 359.6 751.0 441.6 717.5 456.3 804.2 368.7 658.0 518.4 735.0 465.4 786.6 383.0 688.1 497.2 803.3 360.2 806.0 360.9 755.3 421.6 766.5 399.2 689.6 491.0 771.9 397.7 809.9 338.2 791.3 366.2 774.0 383.3 670.3 517.1 719.5 487.5 813.2 354.1 734.2 460.7 696.6 489.1 774.3 379.6 724.8 471.8 718.2 491.4 748.3 429.2 650.0 517.5 782.9 378.3 699.2 506.5 801.1 355.4 802.6 340.9 771.5 382.0 810.7 343.2 650.2 516.6 696.8 486.7 700.8 489.1 818.5 341.2 739.2 437.7 729.1 443.2 750.2 439.7 795.1 380.3 758.5 402.2 719.5 469.8 698.2 499.6 742.2 454.9 689.9 508.7 769.0 394.0 694.0 501.4 814.2 350.4 762.3 420.3 786.1 364.7 758.8 420.3 737.6 429.7 797.4 367.1 791.1 363.3 722.1 486.8 712.6 495.7 750.5 457.2 707.5 482.6 758.4 426.3 782.5 362.1 759.3 430.9 751.0 418.8 772.3 392.7 727.0 454.7 683.6 505.0 768.3 409.0 794.9 342.8 765.8 398.1 730.3 465.1 725.7 466.2 799.2 375.5 688.0 502.1 716.8 470.0 711.9 477.6 700.0 504.2 691.2 504.4 757.7 405.2 809.3 358.4 707.2 486.9 734.2 454.4 797.8 367.1 767.1 399.3 752.2 429.4 723.2 467.9 815.6 354.7 714.2 461.3 680.3 512.2 711.3 465.9 751.8 414.3 752.7 438.5 740.6 423.8 713.7 497.2 695.1 509.0 785.9 377.7 716.0 471.1 706.1 474.8 759.1 431.7 761.2 420.4 748.8 419.2 717.2 482.8 705.6 500.1 693.3 499.4 738.7 472.3 733.1 462.4 790.7 344.0 756.9 432.6 706.6 471.8 691.4 491.6 749.0 416.2 759.9 400.3 684.0 497.7 751.6 415.5 798.0 367.5 705.1 496.8 768.8 396.1 760.4 420.9 727.9 484.1 710.6 460.0 773.4 400.5 708.1 499.7 737.5 467.3 797.6 365.6 782.3 375.4 786.1 359.3 782.3 385.2 750.4 452.3 743.0 438.4 747.4 421.8 733.9 476.3 815.9 342.6 688.5 492.5 761.0 403.9 729.6 444.5 725.5 454.6 772.1 317.0 831.5 282.5 807.0 314.7 826.4 296.7 835.1 292.1 820.1 279.9 834.9 295.6 818.1 281.5 797.3 312.2 800.9 297.8 816.2 289.9 788.9 315.7 834.3 279.2 808.9 329.4 827.1 280.4 831.5 304.0 801.8 312.3 800.6 330.1 795.4 318.2 813.4 327.8 826.9 320.0 798.5 314.3 823.9 326.7 789.0 299.2 808.1 299.7 807.7 324.0 808.7 284.4 801.4 317.9 786.5 314.8 820.0 296.0 818.5 297.7 849.8 291.8 815.3 288.6 800.1 298.6 827.5 308.0 843.1 276.6 835.7 309.6 815.7 328.2 818.1 280.8 852.1 291.2 827.5 307.0 844.7 287.1 824.4 333.5 780.0 309.8 802.2 304.0 826.9 276.5 825.3 296.8 791.6 321.2 817.7 289.1 831.5 279.7 827.8 308.5 819.7 316.3 836.2 309.6 821.2 313.4 805.9 303.7 782.6 305.9 786.4 316.6 836.3 309.0 820.3 331.5 812.5 319.9 800.6 329.8 799.1 326.0 827.0 320.0 827.1 309.9 826.2 333.0 827.2 317.7 795.8 314.4 848.4 295.6 791.8 305.2 794.4 306.6 811.5 323.7 807.8 298.4 807.2 294.2 808.6 286.4 839.8 275.2 803.8 321.4 808.7 324.6 806.1 295.7 788.4 301.4 827.3 293.8 820.5 319.9 789.1 318.5 821.8 316.0 799.2 300.7 775.6 312.8 804.7 328.8 844.4 302.0 795.4 306.0 817.9 286.8 803.5 324.4 822.7 284.1 794.3 329.9 845.0 295.3 812.9 292.8 818.4 305.2 839.3 302.3 786.5 304.5 828.2 299.9 820.0 325.3 846.5 276.4 854.4 284.4 804.2 303.3 800.9 319.0 775.2 317.0 599.9 519.5 698.4 512.5 612.2 522.0 635.2 527.9 674.3 526.4 687.8 527.2 648.4 519.2 660.9 526.5 650.4 529.9 646.9 523.1 666.6 522.5 614.1 519.4 701.1 521.9 688.2 514.4 684.8 519.0 641.6 533.3 693.2 515.2 642.9 515.5 679.1 512.3 687.1 512.0 687.0 525.7 644.2 531.5 688.9 510.0 702.6 517.7 639.8 524.2 665.3 516.3 359.7 674.1 384.6 668.7 352.3 691.1 359.1 685.7 414.7 625.4 395.1 627.6 371.3 665.3 445.2 560.0 475.0 532.5 445.2 584.7 464.7 556.4 446.3 552.0 394.5 657.1 496.5 521.9 427.8 579.5 409.3 641.1 332.6 743.8 416.1 617.7 460.4 538.5 340.8 703.0 485.9 521.5 414.5 596.0 335.4 734.1 341.0 740.8 383.1 680.5 412.8 630.5 428.7 589.6 472.2 541.9 423.6 599.7 451.5 564.9 368.4 686.1 341.0 740.6 384.5 648.3 398.1 636.2 423.4 618.6 396.3 643.9 361.1 671.1 337.1 739.6 399.5 611.1 357.6 680.9 394.7 661.3 351.6 697.2 382.6 647.3 384.3 644.2 336.6 742.0 466.2 560.3 326.1 731.5 400.0 623.0 377.9 684.6 381.7 640.9 428.3 577.3 498.4 526.0 452.0 555.5 405.4 616.0 447.7 575.5 358.6 680.1 459.6 539.5 408.5 633.1 468.1 549.7 376.6 653.7 407.0 619.3 427.0 581.5 427.9 592.7 334.3 714.7 337.2 739.9 407.9 615.1 401.2 615.5 354.6 714.2 434.1 567.1 373.8 680.7 447.2 554.9 426.3 599.0 437.5 560.7 377.5 649.1 328.1 730.0 482.5 530.1 432.9 576.0 431.5 588.8 426.5 577.2 337.4 742.3 493.4 518.5 423.2 612.9 450.3 552.4 415.9 607.4 442.8 575.8 394.1 652.7 405.8 647.6 474.6 543.4 411.5 628.3 340.5 709.9 422.8 603.6 478.6 530.1 440.3 595.9 409.8 599.1 440.1 576.6 330.2 732.9 455.6 565.6 332.7 724.1 464.6 533.4 424.0 607.2 444.9 569.9 404.6 650.8 403.1 625.3 380.8 663.7 435.0 593.4 344.9 722.9 429.4 609.1 464.3 532.8 400.8 640.5 452.5 576.8 471.6 549.8 430.8 600.0 468.8 536.4 373.2 691.8 387.4 673.3 401.6 619.1 446.6 560.0 546.0 512.1 490.3 503.6 463.3 520.1 508.3 499.4 507.3 508.6 543.1 509.4 484.3 523.2 487.3 515.0 480.2 520.3 433.6 693.1 471.6 678.2 468.2 666.1 445.6 687.8 452.9 686.2 467.5 673.8 457.8 680.1 456.5 692.7 480.9 667.7 457.6 691.3 464.2 683.0 477.0 673.5 474.5 659.7 461.4 668.2 432.3 696.7 487.2 652.9 447.4 696.3 488.1 656.9 469.2 669.8 445.6 680.8 449.1 692.0 437.3 688.2 452.8 692.3 458.2 673.0 557.7 587.8 555.1 589.1 538.6 613.4 531.4 608.0 532.5 607.4 530.4 606.3 565.0 568.0 552.5 591.8 551.5 590.8 530.9 608.1 549.0 597.2 776.9 390.4 714.2 464.4 781.2 375.8 781.9 376.9 682.4 501.1 829.1 326.4 780.6 398.0 611.5 485.6 733.4 428.0 678.0 506.4 769.9 415.5 686.8 512.4 744.0 454.8 724.6 462.3 733.5 452.5 777.4 380.9 761.4 430.0 750.8 406.6 799.1 352.7 691.0 490.9 785.8 353.1 769.7 468.0 733.2 462.4 756.9 422.2 691.3 495.9 786.0 361.9 710.7 466.2 809.3 355.0 799.7 377.7 704.5 463.1 778.2 379.2 795.8 393.6 760.9 421.2 748.8 442.4 793.5 342.1 705.9 495.8 781.6 390.8 683.2 498.5 797.2 379.4 776.4 405.2 772.8 434.5 729.7 438.5 809.5 383.3 741.3 416.7 748.0 413.0 804.6 381.1 799.6 345.6 734.3 461.4 706.4 474.3 776.6 383.5 793.0 327.9 785.0 438.2 702.5 467.6 698.1 516.1 779.7 451.1 826.4 362.9 710.3 508.2 740.1 490.7 755.2 413.3 753.1 436.7 629.4 378.0 763.6 400.2 795.8 390.7 726.1 439.9 803.9 352.1 767.8 400.7 806.5 340.5 797.6 411.6 795.2 397.2 681.6 519.8 748.0 422.7 701.5 494.5 788.5 366.6 743.3 428.5 697.2 481.6 704.0 478.8 748.7 446.0 754.1 415.9 752.3 416.4 759.5 478.3 780.3 380.3 751.4 452.3 722.9 471.0 695.3 490.7 741.2 452.2 755.5 412.7 711.0 475.6 780.2 397.8 699.8 482.1 832.7 354.9 820.4 346.5 698.7 500.5 682.3 503.8 680.0 505.2 728.4 463.2 706.7 467.9 687.6 512.8 754.8 426.9 716.7 454.6 712.6 470.3 742.5 429.8 817.3 392.7 694.5 495.5 740.5 437.9 752.6 425.9 801.6 421.9 783.0 357.7 701.4 476.1 674.3 407.1 782.9 356.1 721.1 457.7 732.0 515.0 727.2 524.2 726.7 459.7 725.5 465.7 790.6 340.3 790.2 365.9 717.6 480.1 827.0 327.7 787.1 393.1 730.9 484.1 686.3 496.6 724.3 453.2 623.7 442.3 778.2 449.2 808.5 356.6 800.3 354.1 805.5 348.5 704.9 479.3 779.2 373.1 703.3 519.1 768.6 393.0 777.4 416.6 812.2 377.3 723.6 456.5 730.0 437.0 757.9 420.3 701.5 502.7 800.1 356.2 750.7 411.0 747.9 426.3 757.9 401.9 744.0 422.7 731.1 445.0 788.8 366.9 671.7 370.9 786.7 430.6 809.1 389.7 785.6 441.0 771.6 395.1 694.1 519.7 755.4 407.4 748.4 475.8 793.9 365.7 769.3 426.0 788.9 356.7 735.7 446.7 732.4 435.7 743.6 441.3 795.5 331.8 729.8 491.2 707.8 481.6 811.0 360.9 772.4 462.4 710.0 484.0 758.4 413.4 679.0 501.0 768.0 412.1 767.2 415.3 760.7 405.7 768.3 391.6 695.6 517.6 779.2 372.7 706.2 522.2 720.9 456.8 654.7 368.0 781.8 366.9 743.9 431.9 694.8 326.7 832.0 365.7 691.6 487.8 792.2 335.0 775.4 387.0 798.2 337.5 775.0 374.1 705.9 463.2 703.9 482.9 775.7 416.0 726.5 518.9 779.0 367.3 754.9 428.0 757.5 410.2 795.5 334.8 792.0 319.7 794.1 349.9 742.1 424.1 779.0 418.3 710.7 480.0 705.5 469.1 768.0 385.6 699.6 528.4 724.5 465.9 695.9 504.1 800.1 342.8 713.6 457.5 770.9 461.6 808.1 326.9 783.7 355.8 793.0 326.0 704.5 466.4 782.8 374.0 732.2 488.7 700.0 480.7 780.0 379.0 705.8 480.8 783.1 446.4 715.5 524.1 701.5 477.0 769.5 391.6 795.9 370.5 651.2 411.3 701.8 504.9 783.8 442.2 800.5 363.0 726.1 481.7 697.0 502.1 794.5 329.3 788.5 409.6 749.6 402.9 724.2 474.8 434.5 608.6 451.7 535.9 376.8 657.1 389.6 639.0 394.6 657.7 435.1 605.4 358.5 694.2 374.8 647.2 392.3 659.6 364.7 693.3 382.6 622.1 557.5 589.1 456.5 566.7 435.3 597.0 428.7 608.9 490.7 646.6 370.1 696.1 472.4 532.7 472.8 544.4 369.3 652.0 411.3 615.5 363.9 671.3 377.9 689.7 480.4 530.9 387.9 734.1 422.8 578.1 542.1 644.6 343.9 666.9 441.4 594.5 399.1 612.2 438.4 541.4 426.7 621.2 457.3 547.3 382.8 658.2 425.9 604.5 392.3 642.1 470.7 563.7 416.1 635.8 348.7 709.2 485.2 529.9 426.2 608.5 405.5 590.8 347.3 684.4 496.2 663.3 376.3 632.6 401.9 654.1 396.4 637.8 411.7 621.3 358.0 692.8 435.4 595.5 485.2 528.4 377.5 693.9 442.7 691.8 480.3 537.2 355.2 713.0 476.8 671.8 453.0 584.0 435.5 595.1 514.6 629.0 398.0 660.2 377.8 658.7 393.7 625.0 421.2 597.9 410.5 643.0 436.6 690.5 363.8 716.3 370.0 685.4 411.5 744.1 404.6 635.2 447.5 604.0 374.7 687.3 463.5 524.0 445.0 555.2 547.3 634.6 448.2 565.0 427.2 610.0 370.4 664.2 590.3 551.3 433.0 609.7 323.9 698.7 359.5 703.4 456.1 699.6 371.3 661.3 493.0 529.6 487.0 540.2 471.2 660.3 501.8 628.5 481.0 525.3 443.6 683.1 415.4 614.7 479.0 546.6 355.4 712.7 388.0 615.9 351.3 708.4 476.2 538.1 469.9 539.5 509.3 626.3 547.4 609.6 446.5 585.4 380.2 646.8 533.1 622.6 432.2 614.0 534.3 605.0 426.4 564.6 433.2 616.9 441.9 575.4 384.6 676.7 340.5 709.5 443.7 574.3 421.6 607.3 458.9 575.3 368.5 682.7 557.3 581.3 395.4 659.8 384.6 678.1 394.8 648.2 387.2 667.8 467.0 566.8 463.7 564.7 390.6 673.3 379.3 685.9 340.4 683.8 389.8 660.2 381.1 656.6 419.5 626.0 490.2 535.0 417.2 735.6 354.8 712.1 368.8 726.2 467.4 544.3 478.9 543.5 454.9 692.6 362.6 717.8 464.5 565.8 444.9 574.0 443.6 597.9 369.1 693.9 431.7 591.7 359.8 690.4 435.8 602.2 481.1 541.1 467.7 560.1 396.2 652.6 453.1 511.8 574.4 545.4 478.2 666.2 461.8 570.7 374.2 719.7 404.3 636.6 426.1 560.2 973.8 159.3 932.6 180.6 916.7 189.0 966.3 189.0 991.1 187.5 931.1 201.4 879.6 207.9 891.5 218.8 892.9 222.7 912.8 221.3 930.1 218.8 742.7 223.7 810.1 226.2 819.5 227.7 845.8 227.2 857.2 242.1 821.0 245.1 855.7 249.5 886.5 244.6 902.9 254.5 917.7 258.4 822.5 260.9 826.0 262.4 843.4 259.9 840.9 268.4 860.7 265.9 871.6 266.9 873.1 273.3 888.0 260.9 984.7 290.7 812.1 274.3 808.6 284.2 821.0 284.2 831.0 288.2 853.3 288.2 858.2 288.2 883.0 300.6 896.4 300.6 886.5 312.0 896.4 321.9 882.0 336.3 750.6 295.6 761.5 292.2 767.5 302.1 754.1 305.6 729.3 318.0 742.7 331.3 754.1 320.4 721.9 337.8 908.3 383.4 864.7 417.1 849.8 389.9 832.4 401.3 838.4 455.8 845.8 511.4 860.7 362.6 848.3 366.1 839.9 363.6 827.0 355.6 835.9 345.2 813.6 362.6 816.1 370.0 801.2 372.5 788.8 377.5 796.2 392.3 816.1 399.8 808.6 407.2 788.8 412.2 805.2 421.1 781.4 431.0 773.9 434.5 769.0 434.5 806.2 435.5 800.2 450.9 769.0 449.4 771.4 472.7 668.3 366.6 672.3 379.9 687.1 379.9 761.5 489.0 754.1 503.9 771.4 508.9 744.2 520.3 734.3 506.4 744.2 489.0 749.1 475.7 712.9 501.4 713.9 512.8 696.1 512.8 767.5 543.6 715.9 552.5 694.6 557.5 612.8 551.0 695.1 534.7 672.3 526.2 656.4 529.7 642.5 531.2 620.2 526.2 288.7 535.8 376.6 532.9 341.8 557.7 397.9 569.1 235.6 616.3 204.3 659.5 272.8 710.6 284.7 704.6 287.7 703.2 267.8 751.3 282.7 784.6 265.3 796.5 266.3 814.9 310.5 801.5 369.6 781.6 363.2 760.8 355.7 744.4 312.5 755.3 324.4 745.4 313.5 728.0 311.0 719.0 313.5 710.6 323.4 677.3 325.9 650.0 336.8 632.7 354.7 631.2 370.6 622.2 379.0 633.6 385.5 608.8 400.4 597.4 410.3 595.4 387.0 616.3 396.9 616.3 353.2 652.5 360.7 647.5 370.6 648.5 363.2 658.5 340.8 681.8 346.8 685.8 348.3 699.7 333.4 725.5 340.8 732.9 372.1 729.5 384.0 729.5 392.9 722.0 406.4 728.0 409.3 746.4 418.8 708.1 431.7 699.7 444.1 691.7 420.3 521.9 420.3 529.4 451.5 518.5 462.5 507.0 468.9 499.6 502.2 502.1 502.2 508.5 535.9 503.6 545.4 508.0 554.3 515.5 424.2 549.2 433.7 555.2 445.1 545.3 457.5 548.2 462.5 531.9 471.4 536.8 526.0 626.2 513.1 656.0 497.2 658.5 482.3 658.5 472.4 670.9 469.9 665.9 455.0 676.8 556.8 570.1 565.7 539.3"/>
<line x1="99.7" y1="905.8" x2="1066.8" y2="135" stroke="#1a00f5" stroke-width="4.7"/>
</g>
<g stroke="#000" stroke-width="3" stroke-linecap="round">
<line x1="101.2" y1="969.2" x2="1065.8" y2="71.1"/>
<line x1="583.3" y1="71.6" x2="583.3" y2="970.7"/>
<line x1="99.7" y1="520.4" x2="1065.5" y2="520.4"/>
</g>
<g stroke="#333" stroke-width="2.7">
<line x1="231.6" y1="970.7" x2="231.6" y2="978.8"/>
<line x1="91.3" y1="847.8" x2="99.7" y2="847.8"/>
<line x1="407.4" y1="970.7" x2="407.4" y2="978.8"/>
<line x1="91.3" y1="684.1" x2="99.7" y2="684.1"/>
<line x1="583.3" y1="970.7" x2="583.3" y2="978.8"/>
<line x1="91.3" y1="520.4" x2="99.7" y2="520.4"/>
<line x1="759.1" y1="970.7" x2="759.1" y2="978.8"/>
<line x1="91.3" y1="356.7" x2="99.7" y2="356.7"/>
<line x1="935" y1="970.7" x2="935" y2="978.8"/>
<line x1="91.3" y1="193" x2="99.7" y2="193"/>
</g>
<g stroke="#000" stroke-width="4.9">
<line x1="99.6" y1="70.1" x2="99.6" y2="970.4"/>
<line x1="99.8" y1="970.8" x2="1066.8" y2="970.8"/>
</g>
<g font-family="'Liberation Sans', Arial, Helvetica, sans-serif" font-size="35.3" fill="#4d4d4d">
<text transform="translate(231.6,1010.6) scale(0.95,1)" text-anchor="middle">-2</text>
<text transform="translate(84.2,860) scale(0.95,1)" text-anchor="end">-2</text>
<text transform="translate(407.4,1010.6) scale(0.95,1)" text-anchor="middle">-1</text>
<text transform="translate(84.2,696.3) scale(0.95,1)" text-anchor="end">-1</text>
<text transform="translate(583.3,1010.6) scale(0.95,1)" text-anchor="middle">0</text>
<text transform="translate(84.2,532.6) scale(0.95,1)" text-anchor="end">0</text>
<text transform="translate(759.1,1010.6) scale(0.95,1)" text-anchor="middle">1</text>
<text transform="translate(84.2,368.9) scale(0.95,1)" text-anchor="end">1</text>
<text transform="translate(935,1010.6) scale(0.95,1)" text-anchor="middle">2</text>
<text transform="translate(84.2,205.2) scale(0.95,1)" text-anchor="end">2</text>
</g>
<text transform="translate(346.5,1057.2)" font-family="'Liberation Sans', Arial, Helvetica, sans-serif" font-size="42.2" fill="#000">Female Effect Size (beta)</text>
<text transform="translate(36,733.3) rotate(-90)" font-family="'Liberation Sans', Arial, Helvetica, sans-serif" font-size="42.2" fill="#000">Male Effect Size (beta)</text>
<text transform="translate(100,42) scale(1.002,1)" font-family="'Liberation Sans', Arial, Helvetica, sans-serif" font-size="50.8" fill="#000">Female lead variants per gene</text>
<text transform="translate(10.5,35.8) scale(0.956,1)" font-family="'Liberation Sans', Arial, Helvetica, sans-serif" font-size="45.8" font-weight="bold" fill="#000">A.</text>
<g font-family="'Liberation Sans', Arial, Helvetica, sans-serif" fill="#000">
<text x="234.1" y="181.3" font-size="44.9" font-style="italic">R</text>
<text x="267.9" y="159.5" font-size="30.4">2</text>
<text transform="translate(295.8,181.65) scale(0.96,0.672)" font-size="45.1" stroke="#000" stroke-width="0.9">=</text>
<text transform="translate(332.1,181.85) scale(0.955,1)" font-size="45.1">0.93</text>
</g>
<clipPath id="cB"><rect x="1195.4" y="70.1" width="967.1" height="900.6"/></clipPath>
<g clip-path="url(#cB)">
<path fill="none" stroke="none" marker-start="url(#pt)" marker-mid="url(#pt)" marker-end="url(#pt)" d="M1724.0 481.8 1714.6 464.5 1700.9 469.2 1886.3 348.4 1742.9 459.3 1839.3 376.7 1863.0 340.8 1906.5 317.4 1740.4 471.8 1829.7 402.6 1826.1 376.0 1782.9 439.9 1735.9 433.0 1832.7 421.6 1805.2 437.6 1874.9 341.0 1690.2 463.6 1748.4 483.6 1723.7 455.6 1785.7 467.6 1702.0 486.3 1773.0 445.9 1699.7 480.2 1902.8 317.3 1701.5 487.9 1802.9 398.8 1770.0 440.2 1720.8 468.8 1834.9 422.0 1850.0 357.4 1698.7 466.3 1711.6 446.9 1773.6 446.7 1860.7 368.2 1898.1 329.3 1896.3 337.1 1740.6 463.5 1686.1 495.0 1738.8 433.1 1795.5 451.8 1759.6 413.2 1802.3 399.9 1810.5 426.4 1816.4 372.3 1906.0 317.6 1825.8 429.7 1720.0 485.1 1769.4 411.0 1719.8 494.8 1805.6 414.5 1804.9 410.3 1751.6 449.1 1877.6 346.0 1748.3 446.5 1833.7 413.0 1789.6 416.9 1738.4 469.2 1781.5 463.6 1889.5 331.7 1698.3 482.8 1776.9 461.0 1851.2 345.6 1741.5 484.2 1752.1 468.6 1846.3 378.5 1761.9 457.8 1750.4 423.8 1710.0 488.4 1834.1 423.9 1767.1 424.0 1724.3 474.0 1877.0 333.7 1696.8 486.8 1849.6 399.1 1786.4 403.7 1844.5 358.5 1733.8 436.7 1759.7 476.0 1893.6 324.8 1762.6 426.9 1811.7 384.8 1770.3 448.4 1834.8 362.5 1873.3 332.5 1822.1 412.4 1832.2 412.1 1823.7 365.7 1690.2 469.3 1851.3 385.9 1790.8 408.5 1895.0 336.1 1797.2 458.4 1731.2 449.7 1858.3 381.1 1795.9 429.0 1810.3 385.4 1788.6 432.7 1798.6 415.1 1698.2 472.2 1700.5 498.7 1881.3 345.9 1741.8 485.9 1761.0 472.3 1771.8 435.9 1701.9 463.6 1893.2 319.1 1878.1 367.5 1839.9 377.4 1777.5 440.3 1769.6 435.1 1708.7 498.5 1753.4 419.2 1891.4 319.7 1692.9 488.3 1778.3 425.9 1839.1 360.2 1893.6 345.7 1774.0 430.3 1803.2 449.6 1747.7 424.8 1824.6 388.7 1804.0 450.1 1770.9 428.9 1693.8 458.1 1812.6 410.4 1819.4 374.4 1889.0 323.2 1774.1 404.4 1809.9 425.5 1702.5 498.0 1706.6 459.6 1712.6 447.0 1864.0 343.3 1765.2 470.3 1837.5 389.6 1835.4 358.5 1785.0 434.5 1813.2 426.4 1725.4 494.7 1760.5 436.0 1907.0 324.4 1856.1 345.2 1729.4 449.6 1694.0 479.1 1788.2 416.2 1802.4 401.4 1807.2 450.3 1851.5 394.6 1879.7 330.4 1890.6 326.8 1807.1 440.8 1877.2 367.8 1862.3 393.2 1718.6 485.8 1714.6 498.2 1901.4 320.2 1748.2 423.3 1800.6 405.5 1760.9 444.0 1731.1 476.0 1905.6 321.8 1861.2 364.9 1815.6 431.1 1889.1 339.2 1735.7 463.1 1739.6 471.0 1733.9 428.7 1829.9 367.4 1772.5 475.1 1873.6 351.0 1773.6 460.9 1776.7 403.2 1752.9 427.6 1836.8 404.6 1844.3 382.3 1729.1 443.1 1688.1 496.9 1812.2 374.3 1803.7 395.2 1881.8 345.7 1792.1 440.8 1805.4 378.0 1747.2 459.1 1727.3 479.3 1782.4 432.0 1759.2 424.0 1815.7 427.0 1826.9 429.6 1758.9 451.5 1696.0 483.6 1716.8 483.1 1688.3 501.8 1761.6 430.9 1853.8 395.3 1710.7 485.0 1770.4 450.3 1768.8 431.2 1750.2 473.0 1777.5 405.3 1824.0 393.1 1831.7 396.9 1808.9 384.8 1782.1 425.4 1757.1 442.3 1902.3 333.2 1681.8 504.1 1773.4 404.8 1728.2 461.9 1866.5 344.2 1854.1 349.4 1841.2 376.5 1712.1 463.7 1695.1 482.2 1829.5 421.6 1759.3 449.5 1714.4 468.6 1892.4 340.4 1800.9 444.4 1730.8 492.3 1719.7 481.5 1769.8 417.4 1801.1 424.2 1750.0 479.7 1741.0 454.7 1867.8 381.1 1699.2 478.2 1708.4 475.4 1833.5 371.7 1755.3 483.0 1735.7 470.4 1803.4 388.4 1712.5 494.3 1865.9 369.5 1808.7 413.9 1727.6 468.0 1735.5 440.7 1794.5 424.7 1714.4 490.0 1700.4 457.8 1796.5 444.4 1703.4 484.4 1902.9 332.9 1692.9 479.8 1854.8 390.2 1864.2 387.3 1718.2 443.6 1800.4 398.7 1863.7 346.8 1805.5 451.1 1895.9 339.9 1697.9 478.7 1816.8 406.7 1892.9 321.8 1774.3 402.2 1731.9 456.4 1721.6 468.1 1762.1 466.6 1705.9 479.9 1816.3 434.1 1845.1 360.5 1847.0 357.2 1828.4 361.5 1696.2 484.5 1865.0 369.5 1827.7 393.7 1738.5 445.1 1772.9 459.5 1852.7 345.9 1792.4 415.8 1782.9 408.4 1741.0 437.2 1773.1 471.6 1783.8 459.2 1802.3 400.0 1813.1 385.1 1858.5 372.6 1802.3 399.3 1816.0 375.4 1765.9 472.0 1764.0 461.9 1773.5 450.3 1901.1 333.4 1746.8 419.5 1796.6 439.8 1834.2 399.8 1832.0 383.4 1698.4 504.2 1699.6 493.9 1880.8 358.6 1715.6 470.9 1896.9 323.6 1883.3 336.9 1806.0 410.0 1754.2 455.6 1683.9 478.8 1771.1 416.2 1836.5 384.1 1882.5 324.2 1882.8 335.9 1863.2 355.2 1716.3 481.6 1743.1 459.5 1765.0 440.4 1864.3 339.9 1814.6 381.6 1746.1 465.7 1816.9 426.7 1697.6 496.3 1694.8 463.1 1897.3 324.2 1812.3 435.6 1878.8 346.8 1807.8 437.2 1811.7 435.2 1740.3 484.4 1866.0 346.1 1784.9 442.5 1700.1 466.9 1752.0 461.0 1707.2 466.8 1894.0 328.4 1741.2 459.8 1813.5 376.3 1823.5 380.0 1825.7 390.9 1796.9 446.8 1725.4 450.0 1837.3 385.5 1695.5 493.8 1834.3 372.6 1684.5 484.0 1816.7 399.7 1684.0 504.1 1897.4 331.7 1769.5 437.7 1830.4 397.4 1840.9 367.3 1848.3 379.4 1796.2 404.3 1812.9 420.5 1807.2 405.7 1784.8 458.9 1848.6 367.5 1737.0 475.7 1803.2 417.0 1841.1 408.9 1746.9 479.1 1771.7 416.3 1713.3 451.3 1739.4 454.9 1856.1 356.4 1701.5 479.4 1692.1 488.5 1794.0 413.0 1724.0 495.4 1835.0 415.4 1747.0 433.2 1813.4 421.7 1791.5 390.2 1828.7 375.8 1818.8 409.4 1874.3 338.4 1866.0 376.0 1712.1 445.0 1745.1 481.3 1704.3 502.8 1849.6 362.8 1698.0 476.0 1769.3 468.3 1754.4 456.9 1799.2 399.5 1850.8 384.4 1684.7 477.1 1880.4 360.0 1816.7 436.8 1787.9 422.5 1832.5 416.9 1784.3 423.4 1735.5 434.6 1779.3 411.7 1825.3 385.1 1786.3 432.6 1846.0 353.0 1820.6 400.1 1870.3 338.5 1731.7 437.8 1690.7 485.3 1711.3 496.4 1766.9 412.5 1872.8 338.5 1686.3 485.3 1791.9 389.5 1710.7 451.8 1899.2 339.5 1755.9 456.3 1697.4 471.9 1882.0 354.2 1767.9 418.6 1739.1 487.3 1807.8 396.9 1860.7 351.8 1815.3 446.0 1849.7 347.6 1788.2 409.2 1700.6 498.8 1865.4 384.6 1817.4 402.6 1809.7 447.9 1801.4 424.9 1805.7 442.9 1757.1 430.1 1734.4 433.0 1754.7 452.1 1747.0 451.2 1873.0 335.4 1793.4 459.4 1831.0 378.9 1850.7 345.0 1770.4 410.9 1750.4 482.2 1859.3 396.9 1765.4 452.0 1772.7 432.9 1758.8 447.3 1848.7 408.2 1817.6 419.5 1691.6 494.0 1800.2 425.5 1818.0 375.3 1852.9 400.0 1822.6 404.0 1755.5 435.9 1691.3 485.3 1814.1 378.2 1759.3 447.4 1720.1 451.8 1822.4 403.9 1845.0 366.9 1717.5 479.5 1723.9 493.2 1728.3 450.6 1808.1 440.0 1773.6 405.7 1752.9 439.6 1867.3 350.4 1752.6 417.8 1774.9 435.6 1778.0 462.7 1863.5 359.7 1824.4 434.2 1842.8 414.9 1783.8 402.2 1863.0 368.0 1782.7 454.2 1776.0 423.4 1799.7 395.0 1716.8 458.4 1902.2 322.9 1765.5 473.3 1807.9 409.5 1850.3 388.0 1728.7 493.3 1784.0 461.1 1721.8 484.5 1829.3 380.4 1792.4 454.4 1877.4 338.9 1694.8 458.1 1685.9 470.6 1782.2 449.8 1729.5 481.4 1813.2 423.5 1871.6 345.5 1884.1 336.9 1829.3 387.3 1877.6 351.3 1885.3 350.4 1819.2 436.3 1836.7 378.3 1814.9 405.0 1734.9 440.0 1759.4 441.8 1783.6 425.7 1701.8 479.5 1825.5 366.9 1864.6 346.5 1850.6 380.3 1696.0 481.3 1852.1 350.6 1744.7 462.6 1775.4 435.5 1708.3 450.4 1807.5 389.2 1778.3 469.2 1824.3 381.7 1861.8 377.7 1733.8 478.7 1692.2 484.1 1890.3 325.4 1828.7 408.0 1750.1 477.8 1693.2 460.0 1900.8 339.8 1786.5 444.2 1739.3 483.8 1769.9 445.0 1812.2 437.8 1802.9 430.8 1851.9 344.0 1796.7 393.2 1733.6 447.6 1815.7 388.3 1822.0 424.8 1766.7 467.3 1724.6 437.4 1721.9 481.4 1721.1 495.0 1739.6 484.8 1824.2 365.4 1795.8 416.5 1829.9 411.9 1816.6 428.6 1789.5 460.3 1742.8 469.9 1800.9 401.8 1879.7 349.8 1821.3 418.0 1755.7 465.8 1709.5 461.6 1709.4 461.3 1901.6 317.5 1718.0 478.1 1831.6 428.7 1823.6 403.1 1727.8 472.0 1758.4 471.3 1735.9 458.2 1815.1 386.7 1733.1 445.8 1695.1 469.2 1778.0 415.0 1697.3 461.8 1740.9 432.1 1713.3 480.8 1823.8 408.6 1815.8 436.5 1712.5 448.5 1834.3 409.5 1807.4 394.1 1819.0 403.3 1723.9 456.3 1708.9 473.2 1784.0 439.1 1754.6 427.9 1856.8 396.3 1814.7 432.8 1792.9 424.6 1809.7 384.4 1734.0 438.2 1735.6 427.1 1832.8 388.1 1758.5 426.5 1813.5 419.7 1903.7 318.8 1796.8 414.4 1688.9 478.7 1801.6 419.6 1842.2 392.2 1811.0 388.6 1749.8 426.6 1782.9 423.5 1706.6 492.8 1840.0 384.5 1869.1 348.2 1708.9 478.6 1699.3 482.8 1727.9 456.3 1696.2 495.6 1807.9 444.3 1845.4 377.1 1684.4 492.3 1719.7 493.2 1740.4 477.3 1903.6 324.8 1694.0 487.5 1880.6 339.6 1819.3 432.0 1788.8 454.3 1701.5 459.0 1744.7 423.6 1781.3 436.9 1779.2 471.2 1819.9 419.8 1839.2 414.9 1814.5 435.3 1794.4 454.7 1704.4 480.9 1806.9 412.0 1700.4 490.8 1848.9 387.5 1798.8 450.0 1872.5 341.1 1821.8 420.8 1812.3 447.7 1794.7 386.2 1796.6 399.0 1777.4 423.6 1765.0 407.6 1754.5 454.6 1699.8 480.8 1798.4 389.9 1803.7 388.6 1790.3 434.7 1868.1 342.5 1726.0 439.1 1815.5 407.6 1812.9 405.6 1782.5 446.8 1852.4 394.3 1684.0 489.9 1836.7 395.8 1886.9 330.6 1819.8 380.1 1783.5 462.6 1832.4 400.6 1800.4 447.5 1750.8 485.2 1712.8 480.6 1723.5 461.1 1843.1 416.2 1699.0 490.3 1734.0 483.5 1764.5 430.2 1854.7 371.6 1701.5 479.1 1832.5 385.3 1812.0 418.8 1820.1 403.6 1711.8 461.4 1791.7 442.4 1768.5 445.8 1828.2 374.6 1810.8 388.8 1747.8 457.4 1700.5 470.2 1789.6 438.3 1818.7 393.1 1757.2 421.1 1817.9 422.3 1747.5 468.5 1710.0 489.3 1791.0 463.3 1848.7 382.4 1810.6 428.1 1687.5 502.0 1838.2 395.6 1829.9 399.6 1878.0 328.6 1732.3 449.5 1859.1 370.2 1790.4 453.5 1825.2 403.0 1696.5 501.1 1823.3 436.0 1772.0 454.3 1855.1 355.6 1775.9 462.3 1882.5 358.0 1825.7 368.5 1698.3 496.9 1837.2 418.9 1832.6 395.3 1704.7 457.7 1789.1 407.9 1853.2 382.9 1706.9 482.8 1813.6 416.1 1714.1 478.7 1731.9 429.7 1700.1 486.9 1766.5 471.1 1756.4 424.1 1693.0 460.2 1878.9 364.3 1712.9 452.5 1741.5 438.6 1753.4 421.3 1719.7 468.5 1722.8 443.6 1796.5 431.7 1812.6 382.9 1834.4 361.4 1776.6 443.2 1847.1 380.0 1701.9 463.9 1873.5 372.9 1725.4 463.7 1800.3 443.2 1752.9 450.6 1892.6 331.9 1880.0 347.1 1707.1 455.7 1898.0 340.0 1787.6 439.2 1832.5 400.9 1799.3 454.0 1787.6 451.3 1895.0 327.9 1771.1 405.4 1829.1 393.1 1719.2 453.6 1728.9 445.6 1783.3 401.1 1879.4 341.5 1784.5 423.7 1783.6 393.8 1887.3 339.1 1777.0 417.4 1866.5 360.8 1819.6 371.1 1851.3 364.1 1739.4 478.0 1745.9 442.3 1762.1 422.8 1871.7 330.6 1743.5 466.0 1855.5 380.9 1870.8 366.1 1853.3 352.9 1727.5 494.8 1728.4 434.8 1742.2 481.2 1759.8 427.7 1796.3 456.1 1773.6 443.1 1687.1 502.8 1885.7 335.1 1682.0 492.9 1884.3 351.3 1791.5 389.2 1830.9 373.1 1759.4 470.3 1815.6 440.8 1780.9 433.2 1725.8 472.0 1816.4 441.1 1836.0 412.2 1852.4 353.9 1754.3 421.3 1805.4 384.2 1867.0 343.2 1867.5 380.4 1811.7 421.9 1789.2 403.0 1902.4 312.8 1770.6 444.9 1832.9 427.6 1731.5 438.1 1684.6 492.2 1813.4 403.6 1763.1 434.8 1728.9 453.1 1853.9 384.9 1742.0 452.0 1760.8 417.6 1706.7 485.1 1862.0 351.3 1812.4 377.9 1809.7 400.8 1825.2 411.8 1709.0 496.8 1699.2 482.3 1781.9 414.2 1695.1 467.9 1890.7 324.6 1866.9 380.8 1768.7 442.0 1841.5 357.8 1689.8 468.8 1792.3 415.3 1731.0 438.5 1728.9 441.1 1858.0 357.1 1738.8 434.9 1817.4 412.8 1858.5 384.7 1764.7 440.8 1755.4 456.5 1837.9 378.7 1796.7 452.2 1726.8 435.2 1714.5 497.7 1739.8 477.8 1896.9 328.1 1887.1 331.7 1863.4 378.5 1828.3 379.7 1891.3 340.2 1839.3 375.5 1732.1 457.6 1879.3 338.8 1828.0 403.0 1833.9 396.2 1736.4 427.1 1686.0 493.7 1809.0 401.3 1890.5 349.3 1786.1 442.6 1767.4 461.5 1748.2 463.7 1784.6 416.0 1774.6 442.3 1866.9 383.3 1803.3 383.1 1789.0 443.6 1741.3 461.2 1700.3 483.1 1834.1 401.1 1884.8 333.5 1703.7 452.1 1762.9 474.4 1726.1 439.1 1790.3 443.2 1740.8 427.0 1773.3 430.5 1782.5 436.8 1684.7 489.8 1888.8 323.1 1875.4 328.4 1687.5 473.3 1793.3 400.3 1837.7 396.8 1811.8 398.1 1802.8 389.1 1863.0 349.6 1790.9 393.6 1819.9 425.3 1753.1 432.5 1849.6 397.9 1868.1 357.2 1862.8 337.3 1801.6 385.8 1772.9 434.9 1738.9 488.7 1839.3 416.9 1736.2 463.8 1766.1 473.6 1729.4 470.7 1815.4 387.0 1711.2 464.1 1908.9 329.2 1737.2 467.7 1758.7 442.7 1739.9 446.4 1766.1 452.8 1842.3 378.4 1701.8 501.3 1802.1 442.7 1771.3 454.7 1844.1 398.8 1706.0 502.5 1702.2 468.4 1711.8 477.9 1864.1 388.6 1841.3 365.8 1784.5 455.5 1852.4 397.5 1799.5 428.1 1707.9 478.0 1825.7 387.3 1725.5 472.4 1793.9 411.2 1896.9 326.1 1800.0 423.2 1824.2 369.0 1883.7 352.9 1897.8 321.6 1846.5 372.2 1808.6 448.2 1768.5 462.8 1700.9 474.0 1857.5 351.4 1764.2 425.4 1756.7 426.1 1858.2 345.8 1766.5 477.0 1746.8 474.6 1846.3 399.3 1732.5 487.1 1783.8 427.1 1841.6 416.8 1807.5 411.7 1747.3 431.2 1726.5 458.7 1847.7 369.1 1772.7 433.1 1753.4 455.1 1769.2 417.9 1819.8 412.2 1779.2 411.9 1814.7 390.4 1812.3 431.8 1762.7 467.7 1821.2 376.0 1812.8 431.7 1795.1 443.3 1768.2 445.8 1786.4 418.2 1752.7 469.1 1849.5 371.6 1862.7 374.2 1712.2 488.6 1736.0 433.6 1856.9 370.8 1790.8 426.6 1752.9 431.5 1836.7 408.9 1700.4 456.3 1887.5 322.2 1703.3 464.6 1785.8 394.1 1810.7 429.8 1754.4 483.3 1835.1 420.1 1711.2 463.7 1776.3 433.6 1728.9 488.5 1894.6 331.3 1756.6 456.0 1714.7 499.4 1903.6 334.5 1752.9 439.8 1695.9 476.1 1757.4 441.1 1712.5 496.4 1767.5 463.3 1857.6 381.9 1795.3 442.7 1777.2 468.4 1739.2 444.3 1843.6 357.3 1762.4 455.9 1727.8 473.0 1790.8 426.8 1847.2 385.1 1879.2 353.1 1748.8 477.7 1800.3 383.4 1833.4 415.1 1844.5 354.9 1829.6 383.5 1836.2 371.8 1706.3 457.0 1784.0 441.4 1825.5 433.6 1812.4 391.1 1699.2 461.0 1739.5 479.7 1877.4 335.7 1890.6 341.9 1705.7 477.0 1753.1 464.4 1892.4 342.2 1802.9 422.7 1896.7 341.8 1755.7 477.8 1886.2 342.4 1814.6 389.5 1839.3 355.0 1688.1 476.4 1774.0 454.9 1861.8 368.2 1755.9 418.6 1754.0 472.4 1749.7 456.8 1836.0 380.9 1828.5 378.8 1755.3 419.0 1792.6 427.1 1694.0 470.6 1749.4 419.6 1781.3 457.7 1849.7 387.8 1788.5 421.9 1730.0 441.5 1734.6 427.9 1736.3 454.9 1736.9 436.7 1859.1 340.8 1879.6 339.9 1829.7 413.0 1718.7 450.9 1816.0 419.6 1771.5 413.1 1730.0 462.4 1828.7 365.0 1825.2 367.4 1791.2 391.0 1757.2 468.2 1889.3 322.5 1849.4 367.7 1809.9 395.5 1796.2 395.5 1681.6 500.4 1779.0 409.9 1757.3 450.0 1813.4 382.2 1699.4 463.4 1782.8 413.0 1877.8 351.0 1831.6 379.0 1790.3 389.4 1724.7 446.2 1805.1 425.7 1793.0 428.7 1728.1 484.1 1891.9 341.8 1720.4 480.5 1780.4 405.2 1861.9 373.9 1766.1 413.0 1720.2 492.8 1775.6 433.3 1803.1 416.7 1795.9 410.2 1808.4 394.3 1739.8 470.7 1880.6 351.3 1841.7 400.5 1848.7 348.6 1808.0 408.7 1694.9 470.1 1865.6 380.8 1735.8 480.2 1854.2 386.7 1712.4 448.2 1685.9 474.2 1752.0 431.1 1764.8 471.0 1757.8 458.0 1902.4 314.0 1807.1 444.5 1901.6 316.8 1803.4 446.7 1780.6 438.0 1684.0 500.1 1799.9 441.5 1810.6 389.1 1695.3 486.6 1901.5 313.8 1774.9 415.5 1763.7 419.8 1727.4 481.5 1774.0 463.1 1864.0 347.8 1717.3 464.1 1733.9 479.0 1706.1 499.6 1741.6 427.9 1710.9 446.9 1802.8 415.5 1805.7 381.3 1759.9 427.6 1755.7 453.5 1750.0 445.6 1861.1 363.1 1726.6 447.5 1754.5 432.6 1812.8 418.9 1787.5 452.4 1707.0 501.3 1773.1 432.8 1835.6 408.8 1793.7 419.2 1748.8 429.7 1794.8 399.3 1841.1 371.0 1772.2 422.8 1815.3 401.0 1788.9 438.0 1765.7 444.6 1800.5 401.3 1704.6 479.4 1717.7 487.4 1705.8 452.1 1806.5 412.8 1768.7 476.4 1772.7 435.1 1836.9 412.5 1710.5 488.0 1770.5 419.5 1832.6 407.7 1777.2 398.9 1777.9 418.8 1743.9 436.6 1797.0 450.5 1810.5 444.4 1743.4 455.5 1732.9 470.5 1742.5 422.1 1733.1 468.7 1879.0 334.0 1737.4 479.1 1899.4 324.1 1782.9 398.6 1682.1 495.3 1829.4 416.9 1714.0 487.4 1827.6 432.0 1694.6 489.1 1864.4 339.7 1696.5 464.7 1745.2 484.6 1723.4 493.1 1881.2 335.7 1847.9 402.9 1800.4 427.3 1737.1 463.4 1692.0 505.9 1731.9 434.4 1731.9 465.5 1806.8 394.5 1822.6 375.0 1771.1 439.4 1781.5 415.4 1816.1 444.3 1694.0 461.2 1800.1 400.0 1737.9 477.0 1815.3 420.0 1834.9 379.6 1773.2 416.5 1854.2 394.1 1880.0 332.2 1708.8 449.2 1834.7 415.5 1719.4 490.3 1844.3 391.9 1866.0 386.3 1704.1 454.7 1732.7 450.5 1761.8 414.4 1758.8 449.9 1780.3 430.2 1693.0 461.9 1694.5 479.3 1786.9 405.0 1812.4 442.4 1814.9 444.0 1749.9 442.8 1710.4 466.8 1815.4 391.6 1800.5 427.0 1903.9 335.1 1819.3 416.6 1793.4 401.4 1787.6 444.1 1765.4 441.0 1909.9 325.3 1857.6 350.7 1773.3 455.7 1889.7 341.9 1825.2 364.3 1785.2 439.7 1836.3 384.0 1686.9 481.9 1833.6 384.7 1689.6 476.2 1820.8 428.7 1754.8 476.5 1870.3 344.9 1857.8 349.8 1738.1 461.3 1825.6 418.3 1870.3 339.6 1847.1 373.2 1721.6 482.1 1768.6 404.5 1801.9 434.4 1786.8 462.0 1782.4 443.2 1756.2 479.2 1815.2 438.6 1887.0 337.0 1818.0 401.4 1849.9 382.9 1791.8 432.6 1685.1 492.4 1746.9 438.8 1759.0 471.2 1720.3 458.1 1816.3 445.4 1809.3 421.0 1768.6 450.3 1824.4 423.3 1806.0 400.6 1786.0 417.1 1829.3 372.9 1755.5 424.2 1702.2 457.8 1797.7 420.1 1716.3 466.7 1754.3 431.8 1791.3 420.0 1745.0 469.4 1804.2 403.2 1816.7 385.7 1745.4 476.2 1765.5 415.7 1783.6 446.3 1748.6 439.1 1788.4 396.1 1815.2 397.1 1737.3 442.5 1778.1 425.0 1703.5 464.2 1714.2 455.7 1893.8 333.8 1875.9 371.0 1879.6 361.6 1812.8 423.8 1836.7 389.3 1892.0 319.4 1814.4 411.5 1688.7 488.4 1861.7 366.3 1800.2 449.3 1851.2 344.5 1893.6 335.4 1691.2 490.4 1684.0 494.3 1818.2 376.8 1741.3 478.8 1728.1 437.5 1742.4 436.0 1868.7 363.3 1683.5 487.1 1877.8 346.6 1727.5 455.3 1787.4 418.3 1867.6 351.1 1701.4 494.6 1789.9 437.3 1815.0 385.3 1802.6 454.9 1769.7 474.8 1719.9 464.3 1865.7 338.5 1742.5 477.8 1816.3 377.7 1757.3 430.8 1873.3 357.5 1749.3 426.0 1862.5 386.1 1717.2 487.6 1851.5 352.5 1890.9 349.1 1705.4 489.3 1723.7 443.3 1788.1 454.4 1828.2 417.3 1781.8 464.8 1722.5 485.9 1856.8 347.0 1712.3 463.4 1778.2 448.2 1725.2 493.0 1899.5 327.0 1804.8 428.1 1698.7 473.2 1839.7 413.4 1850.2 381.6 1835.2 394.7 1905.7 331.3 1851.4 390.6 1729.6 469.0 1815.9 404.5 1874.2 365.4 1854.6 392.6 1721.6 488.3 1866.2 360.1 1688.5 477.0 1717.0 493.4 1758.7 431.6 1794.2 455.3 1870.1 342.8 1791.4 432.9 1776.1 418.4 1771.7 419.5 1868.8 382.2 1745.7 462.6 1743.7 474.2 1778.2 462.8 1694.5 472.8 1785.8 463.4 1843.0 404.0 1853.7 361.6 1839.5 416.0 1819.1 430.0 1830.1 422.8 1826.4 413.0 1705.9 491.5 1743.2 443.8 1769.8 467.4 1779.9 460.0 1869.6 357.6 1840.9 410.6 1811.6 396.0 1791.8 407.4 1794.4 432.1 1849.7 372.3 1864.9 370.1 1788.8 423.9 1851.3 367.8 1709.3 496.8 1735.8 484.7 1892.4 325.8 1772.6 462.5 1727.7 442.3 1782.2 450.4 1764.3 478.8 1724.9 454.3 1790.7 406.2 1729.9 487.0 1737.3 473.1 1731.8 474.8 1856.9 352.5 1832.7 380.3 1774.9 428.9 1886.5 353.5 1739.3 455.8 1751.1 469.2 1785.4 397.6 1764.4 470.1 1734.2 446.0 1756.8 464.7 1869.0 340.8 1827.4 393.2 1745.7 438.7 1828.6 385.5 1759.3 462.0 1764.8 477.2 1752.0 437.7 1751.4 432.8 1749.1 449.1 1752.4 440.7 1768.1 440.1 1719.9 494.0 1698.4 484.2 1870.1 366.3 1835.0 360.9 1874.9 364.6 1732.7 449.5 1704.0 491.7 1764.0 465.8 1776.9 407.0 1861.5 363.3 1759.5 451.1 1731.1 454.4 1871.1 354.8 1695.2 457.1 1855.5 379.3 1887.7 349.5 1756.9 424.8 1815.8 411.1 1872.8 361.0 1738.1 444.8 1793.8 411.5 1733.2 431.7 1787.7 442.4 1694.1 505.4 1724.9 485.3 1805.1 404.9 1742.3 441.7 1713.5 482.9 1750.6 437.8 1801.3 417.3 1790.4 452.3 1776.9 460.3 1716.8 481.6 1803.4 413.2 1794.5 416.0 1751.9 449.3 1731.8 449.5 1848.3 404.4 1696.2 488.8 1717.4 478.4 1765.5 432.4 1739.7 479.9 1730.9 486.2 1803.7 419.5 1893.8 328.4 1735.3 488.3 1809.9 406.2 1783.5 455.6 1909.7 328.9 1833.0 408.6 1823.2 399.5 1756.2 435.9 1744.6 429.8 1739.7 461.9 1704.1 464.8 1842.0 366.5 1710.4 463.3 1765.5 439.2 1832.0 395.5 1848.9 370.5 1878.6 333.8 1725.2 453.6 1817.1 412.7 1766.7 442.1 1758.6 438.8 1776.2 462.6 1827.0 404.1 1759.2 421.5 1781.1 411.7 1859.4 351.0 1797.1 411.1 1737.1 426.7 1796.3 434.8 1716.8 452.5 1860.0 361.3 1784.9 426.4 1822.3 377.3 1736.8 435.8 1687.5 500.3 1794.4 412.0 1809.1 433.7 1868.9 374.6 1695.9 497.8 1719.9 493.2 1837.6 414.0 1745.5 474.1 1874.0 345.8 1752.7 449.6 1695.4 457.6 1747.8 441.3 1712.7 456.3 1740.7 479.3 1809.3 433.2 1821.1 430.8 1766.8 462.8 1885.5 353.7 1716.0 484.6 1755.7 450.1 1841.1 401.2 1781.0 430.6 1755.8 464.2 1845.0 403.3 1689.9 503.6 1901.1 338.6 1751.3 469.7 1741.6 481.4 1769.0 420.8 1745.1 435.4 1727.4 440.8 1838.3 417.5 1907.6 327.4 1723.4 477.5 1872.4 337.3 1877.3 336.2 1876.6 341.3 1804.2 409.4 1872.2 357.9 1858.1 379.8 1696.5 504.5 1733.0 485.2 1802.5 446.8 1870.8 349.0 1772.6 452.1 1698.1 492.2 1691.0 485.2 1781.7 401.2 1684.0 502.8 1783.1 411.3 1810.5 417.7 1781.3 463.3 1699.5 501.9 1768.6 420.9 1875.8 353.1 1713.5 468.0 1792.2 400.9 1771.9 406.8 1775.0 440.2 1784.6 414.9 1866.9 373.2 1689.5 504.7 1717.9 446.2 1775.6 458.3 1798.8 427.3 1770.6 427.7 1790.4 441.9 1812.9 394.4 1837.3 398.8 1835.1 391.9 1765.4 451.0 1720.5 442.2 1811.4 424.7 1703.4 476.7 1807.1 415.4 1726.7 474.2 1753.0 440.2 1737.2 462.0 1770.1 464.2 1825.1 417.1 1800.0 435.6 1887.9 323.7 1853.3 396.9 1765.8 441.5 1746.4 456.2 1736.4 482.2 1716.3 468.4 1867.2 383.3 1737.7 481.1 1888.8 323.2 1772.3 461.4 1690.9 473.6 1859.2 349.3 1894.0 333.2 1826.8 401.0 1715.4 478.4 1702.2 471.6 1777.1 456.3 1867.4 364.9 1803.9 410.9 1740.0 440.5 1691.3 492.8 1793.9 439.6 1789.5 434.9 1721.8 439.6 1722.8 492.5 1735.3 459.2 1786.4 420.3 1829.8 414.4 1685.2 478.8 1709.4 475.3 1834.2 374.0 1878.5 353.6 1718.6 497.9 1826.2 393.5 1880.0 337.1 1784.4 452.4 1844.3 364.1 1723.6 473.8 1841.2 373.1 1804.6 386.7 1807.6 386.3 1831.2 378.1 1807.8 412.7 1760.5 428.0 1813.1 387.8 1819.5 436.8 1740.4 435.3 1812.0 386.1 1854.8 352.7 1833.5 395.2 1736.7 449.6 1901.4 324.0 1866.5 385.3 1768.1 419.7 1834.3 416.7 1736.0 482.3 1728.3 495.3 1813.7 400.5 1815.6 398.4 1696.3 462.5 1897.3 327.2 1710.7 483.8 1782.0 462.9 1805.7 415.7 1688.5 505.4 1805.3 415.6 1835.7 364.0 1809.5 395.9 1804.6 426.2 1755.0 420.5 1804.9 442.5 1747.5 462.1 1799.0 403.4 1754.9 452.6 1815.1 436.7 1815.1 395.1 1787.6 460.8 1820.6 410.5 1865.3 385.9 1826.5 409.1 1805.2 383.9 1842.0 378.2 1852.4 395.8 1739.2 469.0 1813.3 423.0 1740.1 481.7 1695.5 496.5 1751.9 447.2 1751.9 476.7 1754.9 443.6 1788.6 408.4 1811.8 381.2 1745.5 420.3 1773.1 401.7 1802.5 445.7 1819.6 418.3 1769.1 423.6 1771.7 420.4 1805.3 434.8 1734.9 454.4 1827.3 421.6 1768.2 444.5 1847.0 383.9 1707.4 457.0 1794.3 449.6 1700.2 500.3 1802.7 437.0 1723.2 468.5 1840.2 396.6 1801.4 388.8 1818.8 390.5 1730.6 436.3 1762.1 473.6 1739.7 468.0 1725.1 454.2 1867.8 354.2 1747.9 474.5 1762.3 449.1 1702.2 467.9 1731.7 483.9 1853.7 361.2 1838.8 382.7 1796.2 385.6 1794.6 407.7 1713.8 499.4 1711.1 497.7 1740.1 444.1 1787.4 394.8 1804.8 446.0 1772.5 409.6 1762.6 433.2 1779.5 434.9 1805.6 407.3 1874.2 347.3 1715.0 493.0 1856.1 351.7 1884.4 340.5 1771.9 462.2 1811.3 404.4 1838.2 376.8 1835.7 396.0 1784.7 408.8 1712.6 444.4 1706.3 448.6 1787.1 444.3 1797.2 430.7 1831.9 425.4 1827.0 408.8 1897.3 333.6 1891.2 326.1 1807.0 378.6 1713.4 493.5 1874.9 359.8 1782.3 429.7 1817.2 385.5 1719.4 470.5 1867.7 363.8 1778.0 447.9 1744.5 455.9 1758.8 426.9 1908.8 327.9 1819.9 422.9 1753.4 484.4 1800.0 423.5 1864.9 375.4 1745.9 469.5 1774.0 409.4 1722.8 461.0 1724.1 479.5 1738.4 456.8 1711.2 452.8 1727.8 490.8 1801.5 392.4 1696.3 487.8 1825.5 387.6 1763.2 452.7 1767.4 419.6 1692.4 492.2 1809.6 379.9 1801.7 449.2 1719.7 454.4 1840.3 353.2 1733.5 443.7 1681.2 496.7 1838.3 407.2 1821.8 383.8 1743.0 473.7 1850.4 403.6 1821.4 371.1 1747.7 449.8 1745.2 429.5 1845.9 363.1 1870.7 340.3 1704.3 461.5 1770.5 437.1 1895.5 329.2 1858.1 384.3 1687.4 472.4 1760.6 479.7 1817.6 427.2 1738.3 435.7 1819.2 367.1 1893.8 332.5 1755.0 478.3 1750.1 473.0 1747.6 473.6 1768.8 414.4 1843.1 405.9 1839.5 388.8 1768.3 473.4 1829.3 364.0 1803.2 380.2 1774.8 467.2 1720.9 460.6 1706.7 501.1 1769.1 427.4 1727.5 457.6 1858.7 372.9 1815.0 434.1 1751.6 441.9 1823.9 407.2 1856.1 375.9 1810.7 393.6 1747.0 482.1 1693.4 476.6 1840.2 414.7 1779.0 406.9 1797.8 425.6 1819.7 425.5 1863.2 363.0 1832.5 378.5 1810.6 394.3 1787.1 458.6 1743.3 459.6 1874.3 369.9 1840.3 387.6 1703.5 480.1 1838.6 405.9 1895.5 330.7 1780.3 462.8 1745.7 451.7 1706.6 478.9 1794.3 443.1 1740.5 460.8 1854.5 373.4 1840.3 381.9 1829.9 365.1 1824.6 390.0 1803.7 440.6 1717.3 467.9 1792.5 423.8 1827.6 394.2 1898.7 322.3 1721.1 494.1 1760.1 482.1 1850.1 357.8 1867.0 369.5 1838.1 383.3 1820.6 368.9 1747.4 429.0 1903.3 319.9 1868.3 368.0 1739.7 428.6 1698.3 495.2 1810.7 441.7 1769.6 453.2 1771.2 475.8 1810.3 390.9 1771.9 474.0 1809.8 395.7 1723.1 494.2 1821.0 386.7 1714.4 481.0 1754.8 420.0 1774.1 418.1 1711.2 497.4 1778.5 408.8 1714.3 489.7 1872.1 349.2 1853.1 345.9 1833.1 400.0 1825.1 374.8 1835.5 387.5 1817.9 436.4 1867.7 356.8 1686.6 474.6 1872.7 366.1 1747.8 425.0 1824.0 435.3 1838.7 355.2 1799.1 383.7 1825.6 409.5 1809.2 446.4 1723.2 483.7 1813.4 380.2 1688.3 502.8 1738.0 470.4 1866.5 345.0 1682.6 501.3 1745.1 442.3 1834.1 377.7 1807.0 426.2 1820.2 436.1 1833.5 366.0 1754.9 449.3 1854.8 348.0 1811.7 397.4 1786.5 449.1 1751.2 478.8 1810.9 402.5 1732.5 483.8 1715.7 496.5 1844.5 354.6 1730.9 430.1 1720.3 469.0 1721.2 453.2 1863.6 345.4 1835.9 371.1 1812.8 400.9 1785.9 407.2 1700.3 454.5 1840.9 405.9 1908.1 328.0 1801.0 439.9 1883.3 358.6 1747.0 483.4 1759.8 453.6 1730.7 481.5 1797.8 392.5 1724.3 475.5 1868.5 340.8 1784.3 454.8 1851.3 354.1 1750.7 453.8 1711.2 466.4 1743.2 445.7 1856.0 396.4 1787.1 409.2 1905.3 321.7 1747.8 429.7 1866.9 366.6 1707.2 471.0 1831.9 383.2 1755.0 481.0 1819.4 425.4 1832.3 386.7 1841.4 405.3 1708.6 458.1 1759.9 435.1 1773.1 460.7 1742.8 476.8 1860.2 357.6 1738.1 468.9 1692.2 463.5 1818.9 374.8 1756.5 420.0 1706.8 496.0 1880.8 346.2 1824.5 405.0 1703.3 479.6 1801.6 446.1 1869.9 370.5 1703.7 458.1 1699.5 477.6 1831.3 397.9 1846.3 398.3 1740.9 445.8 1700.1 476.4 1816.0 411.6 1820.6 412.9 1684.3 485.1 1858.6 348.9 1812.5 392.3 1779.4 401.1 1795.3 429.5 1754.4 463.6 1774.5 440.5 1718.1 442.0 1825.5 371.0 1774.1 421.3 1907.7 331.8 1788.8 402.3 1811.5 388.4 1805.8 420.3 1770.2 451.8 1683.4 488.3 1783.3 415.8 1756.0 433.7 1794.3 441.3 1845.6 408.1 1889.4 326.5 1904.5 325.9 1733.3 482.4 1721.4 474.0 1777.3 437.7 1868.2 364.1 1766.7 423.8 1754.7 477.2 1848.0 384.8 1766.3 441.3 1710.9 466.0 1696.2 479.5 1733.1 452.1 1806.3 445.7 1742.3 482.8 1759.2 464.2 1743.3 468.5 1830.4 390.3 1690.1 505.8 1865.9 380.6 1756.4 416.6 1771.9 440.5 1698.5 476.6 1750.7 465.5 1792.3 431.9 1833.3 377.6 1800.0 396.2 1773.5 434.0 1692.7 471.9 1774.3 408.6 1827.6 424.0 1843.2 414.0 1807.0 424.9 1783.2 440.4 1839.9 415.4 1796.2 396.8 1727.8 474.8 1857.0 356.3 1855.1 367.3 1779.2 405.8 1868.3 362.3 1791.1 397.7 1740.4 479.4 1835.3 402.3 1824.3 374.1 1633.1 592.8 1659.9 573.8 1490.3 669.5 1627.3 603.0 1581.6 575.6 1627.2 549.5 1537.1 617.4 1525.8 649.0 1588.5 600.6 1597.1 580.7 1649.1 593.5 1612.5 602.9 1495.1 685.9 1557.8 649.5 1591.0 592.4 1504.0 666.5 1612.8 556.6 1596.9 584.6 1627.2 557.1 1506.4 687.7 1600.8 575.2 1654.6 538.1 1503.0 656.6 1560.7 648.4 1493.2 681.3 1553.3 661.1 1545.4 648.9 1597.9 633.2 1529.7 675.8 1556.1 652.3 1628.5 550.8 1616.3 583.3 1571.1 579.7 1519.5 665.7 1617.1 621.7 1634.3 592.7 1606.2 580.3 1517.8 664.5 1611.0 629.2 1621.7 626.3 1560.9 612.7 1498.8 652.4 1668.9 573.1 1501.4 677.5 1545.8 661.2 1589.8 566.5 1525.7 674.9 1597.3 570.6 1535.0 671.6 1584.9 613.8 1533.1 649.3 1661.7 576.8 1605.5 566.5 1647.2 582.0 1618.4 578.6 1536.4 642.5 1631.7 613.5 1658.9 582.9 1640.5 543.5 1626.9 554.1 1627.8 548.8 1576.0 619.9 1638.8 602.9 1504.3 651.5 1622.8 586.2 1616.3 623.0 1582.7 599.7 1623.0 600.3 1539.5 651.2 1617.3 585.6 1528.2 623.3 1526.7 648.5 1626.7 578.2 1550.9 594.9 1516.2 646.6 1608.3 566.3 1583.0 597.1 1605.5 589.1 1605.3 566.0 1546.9 600.5 1585.4 594.2 1678.3 565.1 1562.4 653.1 1545.5 636.6 1600.5 595.6 1520.9 659.3 1532.5 616.9 1577.7 587.7 1572.4 630.9 1650.6 593.9 1656.4 533.9 1532.4 661.9 1642.3 567.7 1580.5 625.2 1525.0 629.3 1543.4 648.1 1607.9 633.2 1571.8 641.9 1643.7 585.7 1503.8 684.3 1634.2 546.6 1636.3 607.1 1504.5 669.9 1667.0 551.3 1643.4 576.6 1564.4 598.9 1585.2 572.4 1668.4 564.9 1592.8 612.8 1638.1 550.4 1535.8 627.7 1530.0 665.0 1631.3 612.4 1633.8 613.0 1540.0 653.5 1672.9 563.1 1669.6 584.6 1654.7 533.2 1490.3 682.3 1643.3 604.0 1563.2 652.7 1590.4 630.7 1505.9 654.4 1498.1 669.1 1590.1 584.2 1570.5 586.2 1506.4 642.0 1625.6 582.1 1674.8 547.0 1563.9 653.5 1639.3 577.8 1611.1 552.9 1500.5 682.3 1513.3 678.3 1554.4 613.5 1529.9 672.8 1664.2 547.4 1672.8 556.5 1493.6 669.7 1668.2 532.7 1492.7 678.4 1546.0 611.4 1670.0 578.3 1646.1 589.0 1571.4 607.4 1631.1 550.1 1635.2 587.9 1507.5 641.0 1640.6 551.5 1529.2 673.8 1654.5 584.0 1548.0 632.7 1608.0 591.3 1647.2 567.6 1498.7 662.5 1602.8 595.5 1629.7 608.3 1605.1 588.8 1538.3 630.3 1605.0 623.1 1552.0 626.4 1543.8 634.5 1612.1 558.3 1653.1 538.9 1629.2 577.7 1556.5 654.0 1523.4 648.8 1513.6 686.9 1523.6 639.3 1591.6 593.0 1594.3 582.6 1541.4 606.2 1617.3 562.0 1674.7 556.0 1618.9 572.2 1511.6 657.2 1615.4 588.1 1597.8 635.1 1614.8 561.0 1509.9 674.9 1538.9 625.7 1604.3 631.0 1561.4 604.6 1666.3 565.2 1668.9 538.5 1611.0 632.7 1587.7 599.2 1579.3 603.7 1637.1 606.5 1551.9 652.3 1618.0 626.7 1529.0 674.1 1575.0 626.4 1513.4 645.3 1630.8 556.4 1651.0 546.4 1657.9 574.9 1611.9 551.7 1637.1 558.1 1555.1 641.9 1558.1 628.5 1619.0 549.9 1674.9 564.0 1621.9 618.9 1635.9 601.8 1601.1 602.5 1505.9 652.8 1569.7 605.8 1594.1 598.7 1514.5 658.7 1510.3 657.9 1617.1 568.7 1551.6 629.7 1632.6 585.2 1533.1 621.1 1571.1 596.8 1630.7 575.3 1524.8 669.5 1535.1 618.6 1575.8 584.0 1497.0 665.7 1669.1 541.9 1546.0 604.2 1570.6 587.7 1577.4 618.2 1550.5 637.4 1623.4 615.5 1647.1 597.1 1612.5 557.1 1679.1 556.5 1533.7 665.4 1603.0 620.0 1558.9 649.1 1547.6 596.5 1606.8 583.0 1586.3 620.3 1544.7 613.4 1567.3 627.4 1572.4 630.4 1541.7 609.8 1557.7 658.3 1542.2 604.1 1528.4 653.5 1581.6 577.2 1493.0 679.9 1612.7 572.3 1577.8 610.8 1627.7 617.8 1629.5 543.0 1515.8 655.1 1515.2 645.9 1577.5 635.0 1679.3 562.4 1610.4 614.2 1615.5 566.3 1610.9 600.5 1562.2 614.0 1500.4 685.3 1671.4 556.4 1628.7 552.8 1609.6 623.2 1566.6 612.1 1495.2 664.6 1558.1 585.9 1623.3 560.1 1567.5 636.5 1634.7 585.9 1573.3 591.2 1631.9 553.6 1516.1 684.9 1571.3 587.2 1511.1 674.4 1592.3 629.2 1532.6 668.4 1553.2 586.4 1631.1 617.0 1629.7 554.2 1548.3 618.6 1574.7 629.8 1501.3 658.5 1626.9 622.6 1650.9 568.4 1569.1 615.7 1585.5 643.3 1598.2 627.8 1579.9 644.6 1568.1 617.6 1525.6 673.5 1655.7 583.1 1570.7 575.2 1636.9 607.0 1621.5 558.2 1634.0 588.8 1644.0 544.4 1570.9 636.2 1671.2 544.6 1593.1 628.6 1590.1 615.7 1561.1 657.0 1555.6 613.7 1619.2 626.1 1565.0 632.9 1593.6 589.3 1617.1 615.4 1514.0 658.3 1523.1 626.4 1615.3 597.1 1555.4 600.1 1614.3 609.8 1608.7 618.2 1533.2 676.4 1504.6 655.9 1547.1 594.4 1604.8 608.3 1555.6 622.7 1667.4 565.4 1587.8 603.6 1578.0 587.4 1590.7 564.3 1615.7 617.9 1611.8 595.5 1549.6 638.6 1600.9 575.0 1494.7 657.7 1636.7 543.8 1540.7 638.9 1576.1 604.0 1531.7 679.2 1603.8 631.4 1654.8 547.4 1557.3 592.3 1618.1 607.5 1598.8 597.9 1644.1 587.9 1620.4 596.6 1558.4 620.1 1666.3 564.8 1520.4 667.8 1603.6 610.0 1587.6 637.8 1552.6 654.3 1521.4 625.6 1610.5 605.7 1636.7 559.8 1642.7 595.8 1654.8 588.8 1519.3 635.0 1574.9 593.1 1527.6 658.8 1512.8 637.1 1625.9 622.4 1560.4 642.6 1669.4 535.8 1565.5 595.1 1587.4 610.9 1551.5 615.5 1619.8 607.0 1531.6 662.5 1499.8 660.0 1663.9 582.6 1557.6 610.7 1637.1 592.6 1514.6 661.3 1572.4 650.5 1513.8 660.0 1604.9 589.4 1559.5 593.5 1612.3 560.8 1610.5 601.2 1554.3 620.3 1555.7 594.2 1587.3 611.6 1508.7 658.2 1538.0 624.8 1534.0 648.4 1510.8 685.6 1639.2 560.3 1627.5 554.5 1662.8 535.5 1509.7 658.4 1610.9 578.8 1602.2 626.2 1601.7 620.5 1570.5 577.5 1516.9 658.9 1546.5 629.6 1622.6 618.2 1653.6 534.0 1517.8 681.0 1601.5 590.1 1571.6 606.0 1633.5 604.3 1648.6 570.4 1617.4 592.1 1625.7 607.2 1606.0 627.2 1500.8 661.2 1551.7 591.5 1628.2 575.9 1610.8 609.9 1500.8 682.0 1618.5 578.1 1582.7 639.3 1512.0 637.0 1526.2 672.5 1518.8 684.0 1653.4 534.8 1550.0 619.4 1572.7 596.4 1661.1 564.7 1621.6 572.8 1539.8 640.2 1638.0 566.7 1633.4 573.5 1599.4 634.9 1638.7 567.7 1574.5 630.5 1591.9 640.8 1658.9 572.1 1602.2 577.6 1526.0 644.9 1503.0 664.5 1522.0 648.9 1598.0 621.9 1541.2 624.0 1563.3 584.4 1585.3 654.1 1545.5 634.3 1628.3 582.9 1548.8 656.5 1613.7 579.5 1529.5 653.8 1668.8 535.4 1632.1 556.9 1528.3 616.1 1676.7 537.7 1606.6 585.0 1600.9 577.0 1626.7 574.1 1500.1 666.8 1614.1 608.1 1589.7 618.3 1508.4 682.7 1563.2 616.3 1540.8 654.0 1655.5 552.4 1554.7 653.2 1511.5 671.2 1623.4 562.1 1518.3 642.3 1656.9 582.3 1546.9 660.8 1674.8 575.0 1580.3 638.2 1590.4 569.3 1662.6 572.7 1677.8 562.7 1550.4 651.9 1680.0 546.2 1600.8 625.7 1662.4 582.5 1675.6 564.7 1630.9 542.7 1599.7 581.1 1651.7 544.0 1502.7 673.7 1490.1 684.7 1511.6 653.4 1584.8 588.0 1617.2 620.8 1507.4 641.1 1579.9 579.1 1588.5 644.8 1491.8 667.6 1669.1 572.7 1503.4 660.3 1617.6 599.7 1616.5 620.2 1556.5 612.1 1616.6 617.3 1675.9 561.3 1622.5 561.2 1604.0 601.9 1556.2 664.0 1586.2 570.5 1574.6 608.1 1613.3 597.1 1669.9 578.6 1676.7 540.7 1495.6 677.1 1583.4 614.1 1501.6 674.8 1627.1 594.0 1510.2 681.0 1586.3 581.7 1577.0 585.7 1668.1 564.5 1578.8 640.6 1550.0 603.5 1616.9 620.9 1556.0 595.5 1677.9 538.2 1561.8 599.6 1670.8 558.5 1630.4 544.1 1520.9 658.5 1606.5 621.8 1499.4 664.1 1624.5 595.2 1506.9 666.2 1606.7 628.8 1549.5 639.0 1496.8 688.2 1585.0 583.5 1599.2 564.3 1626.4 574.1 1534.2 607.9 1521.3 631.7 1644.7 562.4 1588.1 635.6 1560.7 636.3 1547.3 612.9 1586.3 611.1 1677.9 563.3 1551.6 645.3 1603.4 600.7 1583.4 576.8 1615.6 569.6 1498.9 661.3 1534.2 660.9 1600.6 638.8 1517.1 653.3 1524.6 669.7 1671.2 561.8 1614.2 600.0 1556.7 662.1 1666.5 563.4 1640.8 598.0 1556.9 639.4 1568.0 619.5 1583.8 609.1 1618.2 550.7 1588.0 649.3 1551.6 647.0 1661.0 552.4 1553.9 597.7 1590.0 593.2 1640.0 582.9 1581.2 607.7 1589.1 619.2 1633.0 578.4 1540.7 635.7 1586.5 648.4 1577.9 632.5 1617.7 616.3 1643.0 573.8 1493.2 663.5 1612.6 551.5 1562.1 627.1 1646.3 536.1 1533.8 626.7 1553.3 623.7 1522.9 650.9 1563.2 589.4 1594.7 627.9 1531.7 624.7 1515.2 688.2 1650.7 578.7 1605.3 607.9 1596.4 616.5 1597.5 566.9 1667.6 568.4 1562.9 637.3 1545.3 612.5 1663.6 553.7 1591.6 566.5 1537.4 658.5 1570.0 657.8 1543.9 659.1 1672.1 558.6 1614.3 574.6 1596.9 629.5 1653.8 569.6 1553.7 640.8 1644.1 541.1 1607.8 558.9 1653.7 571.7 1595.3 608.7 1539.4 658.6 1619.0 597.2 1606.4 632.9 1628.6 588.2 1604.7 592.5 1591.3 583.1 1623.9 553.9 1586.9 647.9 1529.0 648.7 1673.7 547.6 1634.6 617.4 1558.4 636.0 1505.1 675.1 1568.9 655.3 1660.1 587.8 1515.6 631.1 1648.4 592.4 1619.3 554.9 1541.5 645.3 1511.8 664.7 1671.0 553.8 1559.9 608.0 1562.6 656.5 1611.1 632.8 1623.5 601.3 1631.5 574.5 1597.0 587.1 1559.7 621.1 1678.3 560.3 1582.8 593.6 1561.1 628.9 1612.7 589.1 1547.9 655.1 1675.4 536.8 1575.4 608.0 1521.2 656.2 1589.2 635.4 1587.4 582.8 1661.6 570.9 1531.5 673.6 1630.8 573.8 1537.8 666.3 1610.9 608.4 1666.8 572.4 1637.4 554.5 1581.7 652.3 1607.0 634.0 1649.1 581.9 1586.7 635.4 1653.0 593.3 1541.4 624.1 1618.4 594.3 1553.1 627.5 1579.7 572.7 1618.8 605.4 1662.1 557.8 1668.2 538.5 1568.4 603.9 1622.6 618.2 1671.6 563.3 1594.3 588.9 1656.0 543.5 1600.2 601.6 1566.6 612.6 1652.8 592.3 1516.8 634.0 1539.7 624.8 1556.1 657.2 1565.7 653.8 1674.4 578.7 1632.6 578.8 1543.0 626.8 1586.5 648.9 1629.6 621.2 1659.1 567.8 1669.1 554.0 1602.0 569.4 1562.0 645.4 1633.1 550.1 1612.4 626.1 1618.2 578.6 1557.6 604.2 1676.2 563.3 1609.4 568.2 1646.6 564.5 1620.0 585.3 1591.7 571.8 1665.8 542.4 1561.3 601.4 1649.0 588.6 1626.2 543.8 1591.8 574.0 1576.0 597.7 1506.8 654.7 1656.9 561.0 1659.8 572.4 1562.8 602.2 1548.5 613.9 1556.5 615.1 1568.9 627.4 1608.3 555.1 1613.6 625.1 1551.3 622.4 1640.4 599.0 1573.0 604.1 1624.2 612.8 1548.2 664.7 1613.5 624.4 1629.7 554.6 1518.1 657.7 1510.7 653.7 1512.2 675.5 1604.9 559.8 1556.8 646.5 1674.6 534.0 1558.6 590.4 1531.6 622.0 1678.6 557.6 1527.8 629.2 1594.8 588.8 1580.7 595.3 1601.0 587.7 1645.2 556.6 1655.9 545.7 1599.6 605.7 1574.6 616.3 1660.9 573.1 1532.5 667.7 1628.1 542.7 1528.2 661.7 1596.5 619.4 1603.2 629.4 1593.2 613.2 1632.1 600.8 1659.0 541.7 1534.9 676.2 1644.1 588.3 1659.6 556.4 1668.3 584.1 1649.5 542.4 1598.7 572.8 1621.7 608.0 1491.6 682.7 1567.8 602.8 1673.8 532.0 1493.6 667.9 1648.5 548.4 1522.6 636.0 1558.0 601.7 1627.2 612.8 1576.1 587.9 1514.5 668.5 1612.0 592.1 1493.7 673.3 1641.6 567.4 1627.5 602.5 1663.5 567.1 1585.5 603.3 1541.2 608.1 1648.4 577.4 1563.3 605.8 1610.0 612.4 1559.1 653.7 1594.7 617.2 1641.0 608.3 1637.4 559.4 1659.8 542.2 1625.3 572.0 1563.0 580.4 1618.5 584.7 1560.6 661.7 1645.3 539.2 1516.5 678.5 1529.4 676.0 1640.2 599.8 1515.2 632.7 1537.2 629.0 1516.6 670.5 1605.0 604.3 1589.4 643.2 1521.4 673.5 1585.6 610.5 1616.0 551.6 1558.1 656.6 1614.6 606.9 1544.0 652.1 1609.5 595.0 1589.6 647.1 1561.3 627.3 1564.0 582.0 1660.8 575.3 1584.5 580.2 1599.8 596.8 1659.2 542.9 1602.2 631.3 1612.9 585.1 1670.5 562.5 1509.0 682.9 1642.7 545.9 1541.8 647.4 1647.5 584.8 1600.8 616.5 1645.6 581.7 1610.6 560.2 1582.5 606.5 1506.2 665.2 1595.2 616.7 1555.8 646.6 1639.4 575.4 1619.0 557.0 1629.3 602.8 1569.7 654.8 1559.4 618.9 1605.4 557.5 1564.1 578.0 1599.5 635.3 1631.2 545.0 1534.7 623.9 1611.0 600.6 1587.8 594.4 1642.1 553.9 1592.7 574.7 1673.8 533.6 1583.4 573.4 1614.4 593.5 1556.9 609.3 1663.3 576.4 1596.0 604.8 1666.3 574.3 1514.7 674.5 1597.3 629.3 1566.7 643.6 1623.8 560.2 1587.1 575.6 1645.1 574.4 1527.3 619.4 1532.7 646.9 1658.2 557.0 1655.5 569.7 1591.1 576.5 1515.2 682.0 1532.8 633.7 1568.7 616.8 1611.7 633.0 1538.8 626.1 1652.0 575.4 1552.5 645.1 1544.5 655.1 1559.6 641.6 1585.1 577.5 1523.6 639.5 1665.4 550.3 1638.6 565.3 1497.1 689.0 1528.9 676.9 1486.6 677.8 1629.1 601.4 1598.2 621.5 1602.3 582.8 1524.5 632.2 1652.0 591.3 1659.5 541.3 1548.9 599.2 1591.8 629.2 1576.4 598.3 1600.5 633.1 1623.0 547.4 1512.7 673.1 1660.9 583.9 1660.0 574.5 1561.1 580.8 1631.2 584.1 1663.7 580.3 1551.9 646.4 1608.2 555.4 1497.7 658.5 1556.1 587.8 1529.9 651.9 1631.4 576.7 1544.4 634.0 1589.5 623.4 1670.6 580.1 1518.7 656.0 1540.0 634.9 1549.5 632.6 1588.0 595.9 1578.8 641.0 1570.7 627.8 1635.0 556.9 1625.5 553.6 1495.4 681.5 1519.4 682.1 1501.1 679.3 1635.0 587.6 1666.6 547.0 1607.6 613.2 1565.7 615.6 1650.3 590.7 1597.2 603.3 1529.7 622.6 1635.9 551.8 1548.7 591.8 1545.6 623.7 1508.6 669.8 1620.8 583.8 1661.7 559.6 1581.1 574.3 1589.5 633.7 1677.0 574.9 1587.3 588.1 1552.5 599.6 1575.4 611.3 1522.7 636.9 1596.2 630.4 1548.7 623.8 1639.3 546.7 1597.0 618.1 1579.5 583.8 1639.9 547.8 1531.5 645.2 1540.0 623.0 1560.6 650.3 1656.8 550.1 1628.3 589.9 1550.9 628.9 1524.7 658.4 1623.0 583.2 1540.4 638.5 1641.2 542.1 1583.1 649.7 1580.5 597.7 1622.0 617.1 1668.0 550.0 1628.9 595.1 1572.1 600.6 1583.6 608.2 1599.0 632.6 1601.3 594.8 1513.5 679.2 1575.7 647.7 1490.0 677.7 1510.1 692.0 1493.6 683.6 1658.1 545.4 1516.2 639.5 1642.5 542.8 1533.6 651.7 1587.0 638.1 1564.0 587.0 1562.2 636.6 1522.8 677.3 1537.5 630.3 1579.5 579.4 1668.7 540.8 1553.6 597.7 1556.1 614.0 1680.4 552.9 1628.1 611.3 1575.5 610.9 1564.8 579.8 1606.8 618.7 1613.6 597.4 1588.8 640.1 1654.4 569.6 1653.5 589.9 1634.8 568.2 1607.2 579.9 1591.5 609.4 1629.7 552.0 1667.6 564.3 1650.2 560.7 1558.7 633.2 1513.3 666.6 1607.5 559.9 1587.5 578.2 1603.2 635.8 1630.2 571.3 1509.7 654.2 1568.2 576.9 1588.5 599.1 1604.3 603.0 1625.2 624.1 1557.2 651.7 1540.3 635.3 1497.7 681.1 1551.7 596.3 1601.0 582.3 1576.0 598.0 1660.3 559.7 1598.5 596.8 1545.3 647.9 1655.6 580.2 1635.8 616.5 1578.4 642.0 1560.9 647.8 1536.7 642.8 1527.4 667.8 1678.4 552.9 1609.8 569.3 1526.1 630.2 1598.3 588.5 1540.6 633.8 1610.7 575.5 1583.8 606.6 1536.1 647.6 1493.9 668.3 1558.7 592.6 1586.9 624.2 1658.5 586.9 1586.7 646.6 1583.0 597.4 1610.9 563.9 1501.4 688.5 1539.2 616.5 1670.5 556.6 1572.1 589.8 1512.3 649.4 1631.3 588.4 1586.9 621.7 1532.8 648.0 1562.9 624.7 1588.5 638.8 1543.7 616.8 1511.1 659.3 1649.5 535.5 1610.4 592.4 1508.1 681.8 1630.8 579.5 1567.9 639.0 1621.9 593.1 1539.0 666.0 1499.5 658.4 1554.4 646.5 1662.2 572.3 1628.0 548.3 1521.4 647.4 1532.0 641.3 1585.2 575.8 1577.1 582.0 1573.1 576.6 1564.4 584.1 1526.9 646.9 1507.1 686.4 1631.0 540.3 1644.7 567.0 1617.1 552.3 1550.2 609.9 1546.8 648.1 1610.3 597.9 1542.7 634.7 1531.6 630.2 1598.9 614.4 1622.2 616.3 1554.0 599.0 1529.2 629.9 1594.6 590.4 1507.9 654.9 1649.4 550.6 1613.4 593.1 1501.0 673.0 1536.4 652.7 1507.1 650.7 1569.0 615.9 1501.4 658.3 1665.6 585.6 1510.0 656.2 1598.6 578.9 1588.1 594.0 1579.1 603.6 1605.2 576.7 1519.5 630.5 1530.7 636.3 1498.4 679.3 1616.9 572.3 1576.7 650.1 1628.7 589.4 1652.7 567.2 1644.8 581.2 1542.6 634.3 1594.2 584.2 1514.9 676.8 1513.7 689.8 1640.8 610.3 1671.0 534.0 1636.8 591.7 1661.3 563.5 1634.7 564.4 1567.0 579.0 1519.0 681.2 1569.8 630.6 1523.9 643.1 1646.9 601.3 1516.3 637.5 1512.2 662.3 1489.2 671.9 1547.9 658.2 1670.4 575.6 1544.5 605.4 1560.3 617.7 1515.7 672.0 1633.1 556.1 1661.1 541.8 1533.2 661.5 1538.0 606.4 1655.5 544.5 1555.7 604.0 1520.4 637.1 1497.3 665.6 1574.7 626.4 1590.9 601.8 1616.7 623.4 1590.3 625.1 1513.6 665.8 1507.0 667.1 1590.4 594.2 1646.3 569.6 1575.1 587.6 1524.5 630.6 1519.6 652.1 1649.7 538.4 1679.0 563.0 1643.2 577.1 1621.0 549.9 1567.4 609.6 1617.0 587.5 1502.0 670.0 1616.0 570.5 1602.1 616.0 1601.9 613.5 1671.6 558.0 1577.2 636.5 1612.2 556.5 1655.3 575.8 1630.8 598.0 1571.4 638.6 1611.4 562.3 1503.9 685.4 1538.9 653.3 1511.8 654.8 1553.7 662.9 1550.2 605.7 1612.0 621.7 1507.4 663.6 1538.3 655.0 1489.3 679.4 1588.3 614.9 1660.0 582.1 1628.8 559.3 1578.0 625.0 1636.8 583.0 1596.3 564.9 1611.8 611.8 1609.9 567.5 1559.8 623.9 1577.8 580.5 1652.4 591.1 1517.7 635.8 1599.4 615.5 1597.6 643.7 1577.8 644.1 1594.2 611.5 1622.8 556.1 1648.4 593.8 1556.2 592.9 1609.4 620.2 1591.8 640.8 1601.3 636.0 1541.3 609.9 1631.6 556.9 1657.7 581.7 1675.2 537.9 1552.7 661.0 1542.1 613.8 1638.0 582.2 1661.4 558.4 1522.1 672.5 1619.8 579.2 1608.3 626.1 1502.1 679.6 1541.6 649.1 1638.6 562.6 1536.2 633.3 1549.7 663.1 1581.8 613.3 1592.5 598.1 1610.6 572.3 1608.6 556.8 1530.4 621.8 1643.2 553.3 1593.3 562.9 1545.4 618.0 1561.7 640.6 1553.5 620.0 1487.5 675.2 1609.1 569.2 1564.3 592.3 1614.2 612.0 1516.1 648.2 1596.2 643.2 1491.2 672.6 1542.0 622.2 1516.9 661.3 1564.5 601.7 1658.7 535.3 1625.9 553.3 1637.7 565.8 1541.3 631.9 1616.8 557.4 1536.6 609.6 1673.9 569.1 1587.3 637.7 1564.4 647.8 1589.1 592.1 1569.7 588.9 1550.5 657.0 1553.3 596.5 1612.2 600.9 1647.3 597.4 1616.2 556.6 1643.2 573.2 1591.7 620.4 1563.3 601.0 1590.6 606.9 1526.5 652.1 1615.7 569.9 1619.0 584.9 1640.3 593.0 1604.3 615.9 1547.5 648.5 1624.9 581.6 1557.7 594.6 1597.5 642.2 1519.5 641.8 1580.3 573.0 1505.4 649.4 1611.1 578.2 1572.2 655.7 1559.5 638.1 1643.2 599.3 1670.5 559.7 1604.5 625.4 1596.7 582.9 1547.4 595.0 1587.0 651.3 1616.6 611.5 1576.4 621.8 1625.7 547.3 1659.3 585.2 1600.4 636.9 1580.8 611.8 1557.6 608.6 1551.4 637.6 1501.1 652.1 1594.1 604.1 1547.4 655.6 1580.6 632.9 1552.2 652.9 1590.3 578.9 1645.3 597.2 1626.7 612.8 1591.4 568.1 1522.7 653.4 1640.7 537.2 1576.4 584.6 1585.2 629.2 1659.4 561.6 1575.5 585.1 1565.1 658.2 1653.0 569.1 1624.1 561.7 1549.3 641.9 1541.2 642.9 1630.8 556.7 1668.7 572.7 1626.2 593.3 1644.7 552.7 1665.1 562.5 1647.0 568.4 1543.2 636.8 1579.2 633.8 1549.8 643.1 1589.3 599.0 1558.6 613.2 1638.5 561.0 1645.0 595.0 1513.0 651.3 1518.8 659.7 1552.3 630.2 1658.1 537.4 1510.9 648.4 1520.5 627.4 1643.4 575.8 1509.7 642.7 1548.5 623.7 1612.5 603.9 1541.0 646.4 1585.5 649.2 1619.0 573.3 1617.5 593.6 1655.2 587.2 1597.8 606.0 1537.1 664.7 1575.6 645.8 1596.7 566.7 1595.6 630.2 1510.3 650.5 1508.0 662.2 1505.8 674.8 1625.9 601.8 1680.4 564.7 1584.2 574.5 1591.1 597.8 1628.3 561.2 1568.3 598.8 1608.5 583.2 1565.7 633.6 1526.2 674.4 1591.2 607.8 1528.9 628.0 1608.6 555.9 1577.9 646.9 1625.8 611.0 1632.2 599.3 1540.8 662.2 1536.1 652.9 1638.0 540.9 1566.4 615.8 1509.3 657.2 1682.5 555.3 1625.6 614.6 1655.4 568.0 1631.2 556.3 1587.8 613.6 1631.7 613.6 1516.9 647.1 1631.9 588.0 1573.5 605.4 1563.8 650.3 1537.1 617.0 1615.0 597.7 1658.2 568.9 1585.0 595.7 1593.3 628.3 1623.9 600.3 1619.1 548.5 1646.2 538.3 1572.3 624.0 1554.1 594.6 1531.9 643.7 1600.0 634.6 1500.3 659.6 1652.0 557.3 1596.7 568.4 1531.0 645.2 1491.1 670.4 1573.9 637.3 1532.0 678.2 1566.1 586.7 1653.0 557.7 1558.4 660.0 1587.0 613.9 1509.3 677.0 1495.7 676.0 1671.0 545.0 1643.9 558.4 1586.6 620.3 1677.7 548.2 1528.1 617.2 1553.6 594.2 1575.4 608.9 1553.2 653.2 1595.1 626.3 1552.6 604.3 1563.3 642.5 1623.6 546.5 1678.1 552.9 1566.5 605.4 1679.5 570.7 1669.9 546.7 1675.7 545.5 1547.3 620.4 1588.2 632.5 1632.9 582.4 1637.3 545.4 1516.6 658.6 1513.6 664.8 1602.4 565.8 1533.9 672.8 1573.6 615.6 1593.4 576.8 1607.1 623.0 1553.4 589.2 1525.5 675.2 1621.7 576.3 1557.1 617.2 1663.9 551.0 1557.8 639.1 1580.7 631.6 1524.1 657.0 1634.0 571.9 1647.8 556.9 1599.8 598.3 1514.7 649.2 1654.3 553.5 1563.5 608.5 1560.9 637.3 1596.3 637.3 1557.0 623.7 1613.5 631.0 1558.5 645.5 1564.1 599.5 1510.6 657.1 1504.2 669.4 1598.0 577.1 1551.9 623.9 1518.8 683.7 1677.6 567.9 1598.5 610.6 1560.4 635.5 1536.2 672.5 1577.2 634.7 1582.3 593.3 1629.1 599.6 1503.1 677.7 1497.6 682.8 1556.4 646.7 1645.5 545.7 1585.3 616.6 1587.7 572.7 1560.0 603.6 1672.5 540.0 1595.1 562.5 1626.6 576.7 1617.1 574.6 1563.4 630.8 1679.7 552.4 1583.1 640.6 1600.8 617.2 1645.3 585.3 1658.5 571.0 1591.0 633.4 1653.7 595.0 1600.3 579.2 1627.7 603.3 1612.7 575.2 1648.4 535.9 1517.9 643.1 1531.1 634.2 1632.9 558.2 1680.2 564.0 1652.4 571.7 1530.6 636.7 1655.1 557.5 1545.7 667.4 1495.5 673.9 1629.5 551.8 1598.1 599.8 1654.4 536.7 1620.0 569.9 1680.2 558.1 1601.8 628.2 1525.4 654.9 1614.2 616.9 1533.9 649.2 1591.3 643.2 1650.2 536.4 1542.3 671.5 1537.1 636.5 1609.4 572.4 1627.2 602.1 1540.1 615.9 1605.5 618.8 1623.6 592.6 1588.2 625.5 1569.4 617.8 1624.0 599.6 1633.9 553.9 1602.6 592.3 1608.1 571.4 1544.2 639.2 1573.2 604.3 1622.4 596.7 1585.0 647.1 1640.1 579.3 1623.5 548.1 1557.8 590.8 1608.5 605.8 1562.5 643.0 1598.3 565.0 1602.7 611.2 1652.7 594.3 1511.9 635.6 1592.6 570.2 1518.3 678.6 1508.2 645.2 1497.1 656.9 1639.1 539.5 1562.3 585.7 1553.2 623.0 1582.9 592.1 1558.8 639.9 1589.8 625.1 1620.9 583.6 1610.5 633.4 1644.5 591.3 1581.0 586.6 1535.4 615.6 1632.3 597.6 1490.4 677.6 1541.3 652.4 1592.3 611.5 1642.9 545.1 1578.6 592.9 1583.5 570.3 1546.1 623.2 1608.3 569.0 1641.3 565.1 1523.3 677.0 1585.3 583.8 1560.8 653.2 1582.7 652.8 1652.6 569.4 1603.9 595.0 1590.1 650.2 1551.5 607.9 1535.5 647.0 1576.3 598.9 1661.1 544.7 1577.8 596.9 1603.5 585.1 1676.1 542.2 1556.2 640.5 1643.4 545.1 1619.2 580.6 1604.5 622.7 1500.3 671.6 1641.6 578.3 1579.8 596.8 1573.1 609.8 1653.4 587.3 1537.1 646.1 1622.6 548.8 1497.1 662.9 1565.1 622.7 1519.6 681.0 1576.5 645.1 1666.8 570.0 1549.3 650.0 1533.9 668.2 1502.0 685.6 1589.3 647.5 1499.8 656.5 1610.5 582.3 1629.0 598.3 1519.1 687.5 1561.2 622.4 1573.4 648.4 1611.5 557.2 1568.2 603.6 1600.8 578.4 1555.8 643.5 1628.8 590.7 1558.8 639.1 1512.6 642.2 1650.2 572.3 1561.8 659.2 1642.4 589.7 1641.1 571.6 1660.9 590.6 1620.8 559.0 1516.6 639.3 1623.7 624.8 1554.4 653.0 1657.2 561.5 1653.4 533.3 1596.7 560.9 1561.9 588.8 1605.3 577.5 1512.1 683.9 1622.3 551.5 1560.0 616.7 1565.5 589.9 1613.2 582.5 1674.9 548.0 1567.9 635.0 1548.4 594.0 1662.4 573.0 1515.4 650.8 1568.5 579.1 1638.9 577.2 1553.7 634.3 1647.0 545.2 1557.7 584.8 1657.0 582.7 1558.1 648.9 1559.4 637.2 1605.8 602.6 1590.4 598.6 1504.4 679.9 1635.5 554.7 1677.6 561.8 1643.8 566.6 1607.5 558.4 1618.0 552.4 1499.7 664.1 1505.4 677.9 1579.3 594.8 1545.6 605.7 1649.7 534.6 1588.3 653.3 1600.6 594.4 1557.5 595.2 1516.1 641.4 1576.1 604.7 1595.4 631.8 1662.6 585.6 1621.0 619.8 1582.8 602.3 1630.8 588.5 1654.2 574.4 1628.2 558.4 1511.1 678.9 1588.9 580.5 1593.8 624.7 1569.8 579.1 1575.1 587.4 1658.1 551.0 1573.1 603.7 1621.1 622.4 1562.4 603.0 1598.0 576.9 1654.0 593.0 1512.3 668.2 1640.7 584.7 1613.4 600.9 1560.8 582.0 1604.5 603.3 1559.1 604.0 1516.7 661.7 1598.2 641.9 1613.3 551.4 1505.1 683.4 1583.9 589.7 1595.5 631.6 1650.5 599.5 1619.7 561.2 1642.2 597.2 1652.2 562.1 1617.2 566.0 1594.3 647.4 1608.5 555.3 1610.3 614.8 1587.2 628.7 1535.0 648.3 1584.8 570.7 1624.9 577.7 1558.0 647.4 1567.2 588.9 1521.1 679.9 1612.6 558.9 1608.2 568.8 1604.2 620.3 1602.5 628.3 1526.8 617.6 1538.5 612.7 1635.5 548.2 1620.4 610.5 1594.8 645.9 1510.0 645.0 1513.4 654.0 1560.4 636.8 1572.6 591.0 1537.7 604.5 1654.8 542.0 1556.2 655.7 1608.6 557.0 1603.1 607.4 1542.7 609.6 1561.3 646.4 1563.1 601.6 1500.5 684.1 1599.1 620.3 1592.8 567.2 1629.8 609.5 1680.2 551.1 1534.1 614.1 1657.6 589.9 1564.9 591.3 1492.8 683.9 1618.3 571.8 1550.7 641.9 1562.4 653.8 1528.7 634.7 1655.0 574.2 1549.2 614.1 1530.7 676.3 1590.2 602.9 1622.1 572.1 1637.2 586.0 1626.1 554.2 1669.6 581.6 1640.8 609.0 1576.9 582.2 1552.1 629.6 1623.7 586.9 1663.9 563.9 1620.2 560.5 1552.3 628.7 1496.3 676.1 1618.3 579.4 1637.1 580.9 1559.4 586.6 1542.7 658.2 1557.7 654.6 1575.0 585.6 1674.7 539.6 1651.0 540.5 1546.9 608.3 1622.2 618.9 1623.9 586.7 1498.6 685.4 1575.7 654.2 1569.4 629.3 1593.2 640.1 1497.6 667.8 1607.0 562.5 1519.3 651.5 1529.5 616.7 1545.4 634.4 1515.5 687.2 1558.8 631.8 1564.4 621.6 1645.0 572.4 1534.3 625.3 1534.6 648.9 1596.2 633.4 1629.5 596.7 1601.9 609.1 1580.9 614.5 1512.0 673.5 1609.8 590.9 1577.6 585.6 1538.3 621.8 1598.8 559.5 1594.1 598.5 1503.8 668.4 1558.1 594.6 1557.6 645.4 1680.4 546.5 1574.6 653.2 1638.9 611.8 1497.0 669.6 1659.1 545.1 1569.3 628.6 1564.6 585.5 1631.5 572.9 1658.9 585.1 1597.6 569.4 1569.6 578.7 1618.3 587.3 1629.5 572.3 1649.1 569.9 1537.2 651.6 1545.0 659.9 1602.3 565.9 1632.8 552.6 1553.1 646.2 1597.2 593.1 1575.0 654.9 1534.0 636.2 1622.8 570.6 1642.5 558.6 1648.7 574.7 1602.9 625.6 1546.8 629.9 1595.1 609.5 1550.0 614.6 1587.8 645.0 1654.6 579.4 1666.1 551.7 1555.9 611.9 1594.3 632.4 1554.0 649.2 1587.6 583.2 1561.2 640.7 1534.7 670.2 1512.6 663.5 1553.3 598.3 1631.5 592.4 1525.0 644.2 1545.4 631.2 1545.4 664.2 1612.7 554.1 1514.8 688.5 1551.7 647.0 1600.6 618.0 1598.8 560.2 1580.7 594.0 1577.5 575.8 1501.2 664.5 1584.7 600.4 1676.2 546.3 1528.4 621.3 1677.1 565.9 1593.7 610.0 1575.4 606.6 1651.0 592.0 1544.6 663.4 1523.2 655.4 1654.7 564.8 1674.3 538.0 1605.7 614.4 1546.3 606.7 1514.0 640.9 1633.3 573.5 1594.7 571.8 1662.9 542.0 1510.2 659.3 1564.9 623.2 1599.3 610.6 1574.5 597.7 1551.1 652.4 1556.8 596.0 1496.2 679.7 1507.5 653.4 1495.5 670.6 1616.0 614.1 1660.5 577.3 1577.9 634.1 1534.1 643.3 1517.3 671.6 1628.0 604.0 1564.5 650.1 1584.7 621.8 1608.6 634.7 1653.6 550.4 1510.9 639.6 1626.9 554.1 1619.2 620.1 1528.0 631.0 1559.2 655.2 1594.0 608.0 1536.2 645.8 1592.5 588.4 1665.0 532.1 1521.1 635.9 1535.4 651.2 1657.5 553.8 1582.7 595.0 1495.1 675.6 1605.4 636.5 1615.0 577.4 1632.1 604.7 1598.8 571.9 1499.8 652.4 1520.5 679.5 1608.9 625.8 1621.8 551.1 1593.6 579.5 1653.4 571.1 1667.9 538.8 1634.1 606.4 1584.1 588.5 1596.6 574.9 1670.6 566.9 1516.8 678.1 1561.3 603.7 1604.5 576.6 1538.4 623.8 1573.6 594.8 1642.6 582.6 1611.2 554.0 1634.6 561.8 1547.8 638.6 1596.3 606.9 1604.8 598.2 1544.4 600.4 1622.5 559.9 1521.1 637.6 1643.2 536.8 1583.1 627.8 1595.4 587.4 1548.8 662.2 1507.1 677.3 1568.0 630.5 1642.1 588.9 1631.5 602.5 1649.5 561.8 1507.3 641.5 1520.4 652.5 1588.0 575.6 1528.4 624.7 1581.7 630.1 1557.6 627.2 1586.2 626.6 1594.3 573.9 1502.5 687.6 1577.8 591.6 1622.8 586.6 1575.1 638.3 1550.2 661.7 1557.3 645.6 1667.5 570.2 1501.7 648.4 1637.5 581.6 1576.7 652.8 1526.9 649.2 1634.4 558.7 1641.1 609.0 1556.9 625.4 1532.9 645.1 1524.4 645.7 1652.6 575.7 1606.9 588.3 1549.5 604.5 1629.3 579.2 1511.7 642.6 1611.3 603.3 1601.6 621.6 1576.9 619.9 1550.0 657.7 1632.5 587.4 1553.6 637.0 1517.7 671.8 1636.5 582.2 1546.3 617.0 1500.3 654.2 1649.0 587.4 1633.5 588.1 1611.5 558.8 1512.5 685.7 1542.1 614.0 1636.1 576.8 1601.5 574.4 1586.3 651.9 1493.8 680.5 1573.4 620.5 1492.4 662.6 1505.5 643.6 1511.3 647.1 1676.4 552.1 1561.4 646.1 1613.8 587.5 1665.0 586.8 1535.3 674.0 1530.1 634.2 1601.9 594.4 1736.3 375.0 1716.7 406.3 1751.7 369.8 1880.7 320.5 1700.6 413.5 1706.0 414.0 1819.1 340.7 1669.5 429.5 1728.9 378.7 1849.7 333.9 1687.2 465.0 1826.6 354.7 1685.2 437.5 1796.1 372.9 1833.2 326.8 1735.6 413.2 1901.5 310.5 1795.1 359.2 1835.0 322.7 1798.9 360.8 1732.4 420.2 1685.9 409.3 1812.8 343.8 1718.6 413.3 1738.5 416.3 1860.6 313.5 1825.9 331.8 1747.4 374.1 1857.2 324.6 1696.1 401.6 1844.3 318.7 1727.4 381.3 1675.2 504.3 1666.6 467.7 1704.9 395.1 1669.4 475.5 1676.7 438.9 1709.8 421.8 1886.6 310.5 1671.7 422.4 1712.0 439.9 1755.0 388.0 1737.0 411.0 1677.1 413.5 1694.4 406.8 1734.2 387.4 1875.2 320.2 1763.1 373.4 1743.4 412.7 1885.6 307.1 1796.9 348.0 1701.3 411.0 1737.6 421.4 1679.9 471.8 1703.3 401.0 1899.2 310.4 1749.2 407.6 1716.3 393.0 1673.4 428.7 1691.9 441.9 1726.3 430.4 1747.6 394.6 1677.7 489.0 1732.6 414.2 1715.2 420.4 1787.0 351.7 1744.6 398.8 1678.4 483.5 1717.2 405.0 1844.2 319.8 1844.6 328.1 1863.7 325.2 1674.1 451.8 1719.7 394.8 1800.5 368.8 1683.0 452.1 1668.5 435.8 1666.7 474.3 1827.3 348.9 1747.3 378.2 1729.7 427.8 1700.3 426.9 1768.7 391.9 1759.5 388.8 1701.0 429.5 1870.2 325.7 1693.8 456.4 1779.9 387.3 1829.7 347.4 1854.5 318.8 1841.5 329.3 1707.0 393.6 1670.1 465.3 1712.2 390.2 1687.7 442.1 1687.0 462.7 1678.6 422.3 1710.3 402.8 1866.8 314.9 1677.1 478.4 1781.5 373.6 1822.2 338.9 1715.8 434.5 1726.2 420.6 1912.5 335.1 1934.8 287.8 1924.0 297.2 1930.6 319.4 1906.6 342.9 1919.4 313.2 1933.4 326.4 1918.2 321.2 1937.7 308.4 1924.0 296.1 1909.9 360.7 1895.4 349.8 1919.1 311.1 1890.1 359.9 1914.5 337.0 1897.6 362.5 1925.3 328.6 1928.0 314.5 1930.2 318.7 1918.6 315.3 1894.0 361.3 1916.4 353.3 1900.1 365.8 1902.8 357.8 1919.6 331.6 1915.1 353.2 1928.2 334.9 1888.5 361.4 1892.2 356.8 1896.5 354.3 1891.7 356.5 1907.8 359.0 1918.2 325.0 1930.6 321.1 1931.3 327.4 1891.1 357.6 1915.0 316.6 1935.3 304.9 1927.5 319.5 1889.8 357.9 1934.6 312.1 1927.5 311.1 1912.9 339.0 1928.4 332.2 1916.7 291.1 1889.9 365.0 1931.6 306.2 1911.7 343.6 1897.8 371.7 1911.5 332.5 1922.8 344.6 1920.4 346.4 1929.0 305.5 1897.7 352.9 1908.1 315.1 1926.7 287.8 1917.0 327.9 1911.1 342.8 1921.7 307.2 1928.6 334.4 1928.4 288.7 1899.6 355.5 1902.1 344.5 1927.1 316.5 1917.7 292.4 1929.7 316.7 1901.3 361.3 1925.5 337.7 1901.4 368.4 1922.7 299.9 1913.0 325.7 1929.7 302.3 1910.2 319.0 1929.7 288.2 1910.2 335.7 1930.6 296.3 1933.2 301.9 1921.8 322.1 1906.1 310.1 1914.2 358.8 1919.8 293.1 1916.0 292.2 1905.9 336.8 1892.4 361.5 1900.1 344.5 1925.3 302.0 1900.5 365.3 1913.6 349.3 1907.5 314.8 1916.3 327.9 1902.3 343.0 1902.1 364.3 1932.5 328.4 1888.6 356.8 1909.2 308.7 1915.3 311.1 1929.2 316.7 1910.2 346.1 1917.0 348.4 1930.3 304.2 1919.3 313.5 1904.4 358.8 1904.3 345.2 1891.8 363.9 1911.9 342.5 1920.3 321.2 1931.5 288.1 1924.2 305.6 1927.9 312.6 1907.2 337.1 1906.7 309.0 1936.5 293.8 1928.2 293.3 1910.9 318.6 1913.9 345.2 1912.4 298.4 1889.3 365.8 1930.5 282.7 1940.5 294.2 1932.4 318.1 1907.5 309.1 1922.1 330.7 1927.4 324.8 1910.7 320.2 1919.2 302.0 1807.3 460.2 1798.1 463.8 1712.9 502.9 1661.8 623.1 1624.0 635.4 1663.6 611.6 1645.0 608.0 1641.7 612.5 1599.3 656.3 1593.0 657.4 1597.1 666.4 1655.0 631.2 1590.4 668.7 1672.0 587.4 1657.6 630.3 1662.9 600.3 1645.0 608.3 1662.0 603.3 1657.9 623.5 1611.0 634.7 1634.9 648.8 1677.6 601.6 1591.1 673.1 1678.9 601.5 1620.2 654.7 1662.6 626.4 1611.5 654.6 1616.0 650.6 1614.5 643.9 1646.2 634.7 1676.7 598.4 1666.5 619.3 1658.8 594.1 1593.4 661.2 1662.5 614.2 1677.0 600.1 1569.4 671.7 1612.3 638.1 1612.7 639.5 1598.3 648.8 1625.2 650.7 1651.8 606.3 1666.3 622.4 1570.9 661.2 1591.2 671.8 1653.7 602.8 1658.7 611.6 1656.0 609.7 1659.2 610.0 1670.5 617.1 1666.5 607.0 1632.1 643.3 1617.8 634.8 1661.8 623.4 1573.8 666.7 1591.4 669.1 1652.9 601.5 1578.4 664.7 1594.2 672.3 1616.8 634.9 1662.1 608.0 1575.0 661.8 1670.2 588.7 1666.1 623.7 1639.9 612.5 1641.0 629.8 1589.3 654.3 1647.7 640.5 1644.6 615.7 1630.4 628.7 1635.8 645.9 1639.8 645.2 1617.7 650.7 1607.5 649.4 1600.5 647.9 1656.8 627.0 1649.3 609.1 1597.8 661.1 1610.5 636.6 1614.5 648.6 1584.3 672.9 1659.7 627.7 1627.7 648.8 1642.0 629.4 1640.0 627.0 1647.8 606.6 1583.7 655.8 1572.2 673.3 1616.5 652.3 1565.8 662.1 1630.8 633.0 1629.2 635.8 1654.6 611.7 1666.1 587.6 1648.2 610.6 1677.7 601.8 1572.1 675.5 1646.6 628.8 1668.2 595.5 1574.4 676.6 1634.4 649.1 1583.7 664.6 1603.5 663.2 1592.6 669.3 1605.1 663.1 1626.7 640.2 1574.3 663.8 1600.5 658.1 1604.0 638.3 1665.9 597.2 1631.3 622.2 1646.4 620.0 1662.7 593.8 1629.5 625.9 1598.2 671.3 1620.4 633.6 1646.8 633.6 1622.2 632.9 1601.3 660.6 1653.5 629.6 1648.4 610.7 1637.6 636.4 1578.9 677.3 1629.6 631.2 1668.5 610.9 1648.3 634.1 1589.4 656.9 1613.8 645.8 1577.2 677.8 1618.5 636.9 1636.0 633.7 1651.6 610.8 1609.3 663.9 1651.5 637.1 1654.6 621.7 1623.2 650.6 1646.3 623.2 1635.2 625.5 1618.1 650.5 1626.9 640.0 1620.1 642.0 1621.4 655.4 1653.7 627.9 1569.4 674.5 1593.8 665.5 1635.4 623.1 1649.1 608.0 1657.6 610.3 1661.5 627.4 1616.0 634.7 1625.3 650.1 1598.8 672.3 1639.9 640.6 1622.7 642.4 1646.0 635.7 1654.5 622.3 1636.4 623.6 1601.7 654.8 1654.9 595.2 1578.8 658.5 1566.0 661.2 1665.3 613.4 1584.1 657.4 1633.4 623.7 1670.9 593.0 1609.1 664.8 1634.8 637.5 1673.2 584.0 1643.9 613.3 1641.1 629.9 1660.5 602.7 1607.4 650.7 1607.0 649.9 1640.2 630.6 1604.9 642.6 1639.1 616.0 1616.4 654.4 1470.9 724.9 1487.3 700.9 1456.6 723.9 1449.5 722.0 1463.2 719.8 1470.6 717.5 1449.4 696.3 1463.0 725.3 1458.1 739.6 1488.7 669.0 1484.4 669.1 1470.9 710.0 1473.6 708.9 1483.0 717.8 1481.9 686.7 1490.3 691.6 1460.3 719.7 1479.9 688.8 1440.4 726.5 1477.4 717.2 1465.5 703.0 1483.1 706.9 1478.0 688.2 1469.6 681.3 1460.4 691.5 1440.6 717.5 1470.7 683.1 1479.3 694.9 1477.7 716.6 1452.7 705.5 1461.4 730.6 1492.4 706.0 1485.8 681.4 1465.4 732.8 1461.1 711.0 1458.5 726.7 1469.8 673.4 1456.8 719.7 1467.1 724.4 1457.2 739.5 1444.7 718.4 1466.8 691.6 1503.8 693.1 1462.7 690.8 1470.6 706.8 1465.3 730.5 1480.4 681.1 1459.9 704.2 1447.1 722.0 1455.2 699.4 1495.8 703.1 1474.0 684.8 1467.4 695.8 1475.2 708.5 1458.1 685.2 1484.0 698.8 1487.7 690.1 1477.2 670.9 1442.9 721.4 1483.4 683.8 1473.9 708.4 1501.8 699.5 1445.9 723.2 1489.2 694.4 1496.8 691.1 1457.1 695.9 1475.9 692.0 1457.7 726.3 1459.1 697.6 1486.0 667.4 1491.3 702.8 1473.6 702.4 1499.3 693.9 1479.3 709.8 1462.8 724.1 1451.5 697.3 1457.8 724.1 1475.1 692.4 1476.2 689.1 1447.3 700.3 1451.3 692.0 1476.5 673.2 1471.2 699.2 1498.6 693.1 1490.1 712.2 1470.6 690.8 1439.7 722.0 1455.0 708.1 1462.2 732.3 1456.9 698.3 1463.6 725.9 1446.1 717.5 1460.7 725.3 1454.3 722.4 1471.2 708.2 1461.7 700.2 1449.0 725.9 1442.6 711.3 1473.2 673.3 1461.4 689.1 1490.4 699.7 1482.4 664.3 1493.6 658.8 1454.4 738.2 1453.5 714.2 1444.1 729.2 1466.2 707.9 1452.1 730.5 1476.8 692.2 1453.7 723.9 1453.5 694.6 1459.6 734.7 1486.7 712.7 1449.9 736.4 1488.9 712.6 1500.4 698.0 1485.7 673.6 1479.0 703.1 1473.7 688.0 1483.6 664.9 1479.7 687.6 1465.6 730.6 1470.2 671.7 1458.6 682.4 1480.2 669.9 1486.3 683.8 1489.7 687.0 1554.1 577.3 1568.0 575.1 1584.9 549.3 1587.2 547.8 1584.2 552.9 1586.3 547.9 1527.8 599.8 1590.6 552.4 1631.4 536.1 1562.7 566.2 1658.9 526.9 1542.7 590.4 1590.5 544.2 1619.7 541.9 1553.6 576.2 1629.0 526.6 1554.4 573.5 1589.6 559.4 1543.6 593.4 1578.4 558.7 1631.6 529.5 1672.5 467.0 1911.6 324.2 1678.6 498.9 1777.1 373.5 1854.1 339.9 1748.4 405.9 1783.3 351.3 1873.7 380.4 1871.6 313.1 1901.2 307.6 1851.9 319.7 1814.9 479.4 1776.1 486.1 1752.3 395.4 1779.7 373.7 1679.7 489.4 1699.6 439.5 1851.5 318.7 1796.7 375.1 1864.6 393.9 1678.5 491.4 1774.4 371.3 1811.4 363.5 1746.6 393.1 1650.2 495.7 1837.0 436.9 1785.8 386.0 1831.8 331.1 1734.9 417.5 1777.9 388.0 1704.0 434.2 1821.2 359.1 1873.1 325.4 1730.4 506.1 1758.4 412.2 1875.6 310.3 1907.2 395.7 1841.3 324.5 1676.1 462.1 1836.8 351.1 1769.0 400.0 1671.7 495.6 1686.0 443.4 1670.1 466.7 1842.1 348.9 1820.2 363.6 1827.3 337.5 1716.3 423.3 1644.7 484.8 1732.1 381.0 1756.2 363.2 1866.3 293.7 1892.2 353.7 1782.1 394.3 1791.3 371.3 1684.2 505.2 1807.3 362.0 1800.4 463.0 1757.2 360.8 1804.2 370.7 1869.7 329.0 1775.7 494.4 1778.3 376.4 1739.5 380.3 1674.0 483.2 1730.1 386.1 1790.0 464.7 1789.4 372.2 1755.6 372.8 1859.7 335.1 1752.5 389.5 1753.3 379.9 1717.4 430.9 1869.8 319.7 1733.8 501.6 1751.4 412.0 1792.9 339.7 1886.8 360.3 1810.6 323.2 1913.2 361.7 1899.7 304.2 1708.6 441.0 1785.1 386.3 1745.1 410.1 1697.8 409.4 1814.5 354.0 1803.5 374.1 1761.4 395.5 1864.9 329.7 1742.8 417.5 1763.4 402.5 1690.8 547.7 1657.5 458.4 1787.1 373.0 1792.0 359.5 1704.5 505.0 1765.7 360.6 1785.6 394.5 1893.3 357.8 1891.5 310.9 1798.5 356.5 1737.9 399.8 1873.4 318.7 1881.6 275.7 1667.3 481.2 1713.0 425.0 1762.8 381.1 1895.8 298.3 1848.0 342.4 1884.5 315.5 1719.2 418.2 1811.8 367.1 1862.9 298.1 1791.9 464.3 1845.7 345.4 1886.9 313.6 1851.6 318.6 1839.5 350.3 1879.0 302.4 1773.2 396.8 1870.0 319.1 1667.2 426.0 1801.9 380.6 1706.8 437.2 1767.1 391.0 1889.6 311.8 1689.7 509.0 1709.5 409.2 1880.0 324.1 1842.5 350.5 1523.1 682.9 1671.3 582.8 1607.1 644.1 1530.9 686.3 1559.9 680.8 1636.5 624.8 1521.7 685.7 1564.1 681.8 1682.8 557.2 1635.4 624.0 1682.4 549.5 1679.9 583.2 1568.7 546.2 1645.3 621.3 1569.0 683.1 1563.8 691.0 1667.3 608.8 1594.2 651.1 1624.3 648.4 1500.7 708.0 1555.0 703.4 1616.9 635.6 1531.3 680.4 1623.1 653.2 1606.2 647.9 1614.6 636.6 1709.0 590.8 1552.4 671.6 1684.5 613.3 1696.3 574.1 1603.4 639.6 1543.4 670.3 1614.5 638.6 1542.9 689.1 1634.4 625.1 1573.2 681.5 1668.4 608.9 1552.6 682.5 1615.9 520.2 1526.3 691.6 1652.4 600.9 1579.7 553.5 1705.5 593.7 1638.0 613.3 1662.7 586.8 1665.4 591.2 1611.1 631.7 1633.0 660.5 1528.4 689.5 1617.0 632.8 1675.2 600.4 1627.5 631.9 1627.1 661.9 1529.3 599.2 1641.7 604.7 1673.7 605.4 1458.0 665.8 1606.7 647.1 1715.1 566.6 1615.1 627.8 1639.0 642.6 1597.9 658.6 1703.5 588.3 1550.7 668.9 1635.7 625.5 1605.6 633.6 1531.7 685.7 1627.7 626.6 1587.3 680.7 1514.7 703.7 1609.5 629.6 1533.5 680.7 1513.3 695.0 1656.1 596.1 1535.4 681.0 1626.2 634.6 1638.3 616.2 1633.0 642.1 1707.8 549.3 1616.1 646.1 1656.8 524.1 1590.6 652.8 1554.7 679.9 1519.3 688.6 1637.0 535.4 1671.2 586.7 1589.9 654.0 1619.5 638.8 1619.0 629.1 1691.7 550.8 1605.1 636.8 1587.0 658.3 1690.3 611.1 1595.8 647.1 1673.8 582.2 1642.4 613.7 1513.9 699.3 1579.0 658.9 1522.4 697.9 1514.9 621.1 1509.8 692.8 1681.2 569.1 1688.3 582.9 1671.8 582.0 1529.5 685.5 1635.5 632.2 1582.8 653.8 1592.8 651.2 1558.0 669.4 1669.8 585.5 1517.7 703.7 1546.5 673.6 1645.6 614.6 1629.5 660.7 1648.8 604.6 1713.4 574.2 1570.1 674.5 1636.3 613.6 1623.8 639.3 1529.2 695.0 1612.7 632.3 1537.4 680.1 1674.0 605.2 1484.7 636.2 1607.3 638.5 1514.6 698.9 1566.1 661.4 1698.8 587.4 1562.0 680.2 1579.8 556.9 1516.6 687.3 1647.7 602.0 1642.5 612.4 1516.2 687.3 1654.5 605.7 1643.7 614.1 1669.0 612.1 1655.8 595.4 1655.7 627.9 1599.3 640.1 1521.9 688.2 1512.2 696.2 1663.5 621.3 1484.3 668.4 1682.1 563.3 1531.8 679.4 1554.3 676.8 1567.1 659.0 1603.2 642.8 1557.8 669.1 1994.2 152.5 2069.4 159.4 2086.8 181.0 2062.5 189.2 2028.6 181.4 2012.6 188.3 1878.2 193.8 1920.9 215.3 1905.7 225.9 1913.5 227.3 1916.3 225.9 1941.5 226.8 1974.5 207.6 1986.0 219.0 1986.9 222.7 1997.4 212.1 2008.0 221.3 2026.3 219.0 1953.0 241.9 1942.4 253.4 1982.3 241.0 1998.8 249.7 2012.6 246.5 1763.6 238.3 1908.9 253.4 1905.7 271.7 1921.8 262.6 1918.1 271.7 1931.0 276.3 1967.6 262.6 1976.8 262.6 1967.6 271.7 1949.3 280.9 1975.9 280.9 1986.0 293.8 1954.8 294.7 1960.8 299.3 1951.6 306.1 1949.3 315.3 1985.1 316.7 1992.9 322.2 1978.2 335.9 1943.3 364.8 1946.1 390.0 1926.4 347.4 1921.8 354.3 1928.7 358.9 1910.3 361.2 1898.9 367.1 1910.3 372.6 1908.0 386.4 1910.3 400.1 1903.4 409.3 1887.4 410.2 1889.7 397.8 1875.9 393.2 1885.1 381.8 1853.0 423.0 1841.5 436.8 1832.4 446.0 1823.2 443.7 1779.6 481.7 1729.2 499.6 1758.1 325.4 1785.1 330.4 1768.2 348.8 1690.2 334.6 1644.8 370.8 1738.4 361.2 1755.3 365.7 1775.1 363.4 1791.1 347.4 1811.7 340.5 1823.2 321.3 1827.8 321.3 1846.1 295.6 1855.3 292.4 1866.8 283.2 1882.8 294.7 1862.2 303.8 1848.4 306.1 1882.8 306.1 1658.1 399.2 1667.3 393.2 1669.6 407.0 1655.9 423.0 1645.8 432.2 1652.2 425.3 1659.5 446.9 1658.1 455.1 1671.9 443.7 1661.4 468.9 1660.4 487.2 1671.9 475.8 1674.2 501.0 1700.8 376.3 1691.6 391.0 1701.7 386.4 1708.6 400.1 1722.3 404.7 1717.7 386.4 1726.9 386.4 1747.6 381.8 1761.3 381.8 1765.9 391.0 1731.5 400.1 1694.8 411.6 1687.9 423.0 1706.3 416.2 1548.8 567.3 1576.3 563.6 1527.6 591.6 1532.7 592.5 1523.1 609.5 1482.2 622.4 1490.0 635.3 1494.6 631.6 1509.7 614.1 1504.7 626.1 1461.0 664.7 1471.6 664.7 1483.1 661.4 1437.2 697.3 1450.9 694.5 1372.8 706.0 1381.1 705.1 1393.5 718.9 1408.7 712.0 1413.3 703.7 1421.1 722.1 1416.5 731.3 1423.4 738.6 1428.0 737.2 1438.1 742.7 1441.8 717.9 1363.7 751.0 1408.2 754.7 1428.0 757.0 1434.9 751.0 1451.9 746.4 1459.2 761.1 1454.2 776.3 1379.7 784.5 1360.4 796.9 1362.3 815.3 1384.3 819.0 1406.4 801.5 1479.4 728.0 1490.0 737.2 1494.6 730.3 1499.2 755.6 1506.1 746.4 1512.9 741.8 1517.5 755.6 1519.8 745.5 1512.9 728.0 1518.5 723.5 1515.2 708.3 1529.0 704.2 1546.5 695.0 1547.4 684.4 1546.5 718.9 1583.2 733.6 1558.9 760.2 1649.4 691.3 1657.6 643.1 1648.5 635.3 1631.5 644.4 1618.6 661.4 1616.3 656.8 1602.5 663.7 1587.8 668.3 1600.2 645.4 1624.1 647.7 1568.1 666.0 1577.3 661.4 1670.0 618.7 1677.4 622.4 1662.2 613.2 1669.1 617.8 1687.5 604.0 1699.0 581.1 1701.3 577.4 1692.1 566.4 1689.8 551.2 1685.2 546.6 1678.3 599.4 1676.0 594.8 1749.5 682.1"/>
<line x1="1219.7" y1="974" x2="2138.3" y2="66.8" stroke="#1a00f5" stroke-width="4.7"/>
</g>
<g stroke="#000" stroke-width="3" stroke-linecap="round">
<line x1="1196.9" y1="969.2" x2="2161.5" y2="71.1"/>
<line x1="1679" y1="71.6" x2="1679" y2="970.7"/>
<line x1="1195.4" y1="520.4" x2="2161.2" y2="520.4"/>
</g>
<g stroke="#333" stroke-width="2.7">
<line x1="1327.3" y1="970.7" x2="1327.3" y2="978.8"/>
<line x1="1187" y1="847.8" x2="1195.4" y2="847.8"/>
<line x1="1503.2" y1="970.7" x2="1503.2" y2="978.8"/>
<line x1="1187" y1="684.1" x2="1195.4" y2="684.1"/>
<line x1="1679" y1="970.7" x2="1679" y2="978.8"/>
<line x1="1187" y1="520.4" x2="1195.4" y2="520.4"/>
<line x1="1854.8" y1="970.7" x2="1854.8" y2="978.8"/>
<line x1="1187" y1="356.7" x2="1195.4" y2="356.7"/>
<line x1="2030.7" y1="970.7" x2="2030.7" y2="978.8"/>
<line x1="1187" y1="193" x2="1195.4" y2="193"/>
</g>
<g stroke="#000" stroke-width="4.9">
<line x1="1195.3" y1="70.1" x2="1195.3" y2="970.4"/>
<line x1="1195.5" y1="970.8" x2="2162.5" y2="970.8"/>
</g>
<g font-family="'Liberation Sans', Arial, Helvetica, sans-serif" font-size="35.3" fill="#4d4d4d">
<text transform="translate(1327.3,1010.6) scale(0.95,1)" text-anchor="middle">-2</text>
<text transform="translate(1179.9,860) scale(0.95,1)" text-anchor="end">-2</text>
<text transform="translate(1503.2,1010.6) scale(0.95,1)" text-anchor="middle">-1</text>
<text transform="translate(1179.9,696.3) scale(0.95,1)" text-anchor="end">-1</text>
<text transform="translate(1679,1010.6) scale(0.95,1)" text-anchor="middle">0</text>
<text transform="translate(1179.9,532.6) scale(0.95,1)" text-anchor="end">0</text>
<text transform="translate(1854.8,1010.6) scale(0.95,1)" text-anchor="middle">1</text>
<text transform="translate(1179.9,368.9) scale(0.95,1)" text-anchor="end">1</text>
<text transform="translate(2030.7,1010.6) scale(0.95,1)" text-anchor="middle">2</text>
<text transform="translate(1179.9,205.2) scale(0.95,1)" text-anchor="end">2</text>
</g>
<text transform="translate(1442.2,1057.2)" font-family="'Liberation Sans', Arial, Helvetica, sans-serif" font-size="42.2" fill="#000">Female Effect Size (beta)</text>
<text transform="translate(1131.7,733.3) rotate(-90)" font-family="'Liberation Sans', Arial, Helvetica, sans-serif" font-size="42.2" fill="#000">Male Effect Size (beta)</text>
<text transform="translate(1195.2,42) scale(1.005,1)" font-family="'Liberation Sans', Arial, Helvetica, sans-serif" font-size="50.8" fill="#000">Male lead variants per gene</text>
<text transform="translate(1105.7,35.8) scale(0.932,1)" font-family="'Liberation Sans', Arial, Helvetica, sans-serif" font-size="45.8" font-weight="bold" fill="#000">B.</text>
<g font-family="'Liberation Sans', Arial, Helvetica, sans-serif" fill="#000">
<text x="1329.8" y="181.3" font-size="44.9" font-style="italic">R</text>
<text x="1363.6" y="159.5" font-size="30.4">2</text>
<text transform="translate(1391.5,181.65) scale(0.96,0.672)" font-size="45.1" stroke="#000" stroke-width="0.9">=</text>
<text transform="translate(1427.8,181.85) scale(0.955,1)" font-size="45.1">0.94</text>
</g>
</svg>
</body></html>
